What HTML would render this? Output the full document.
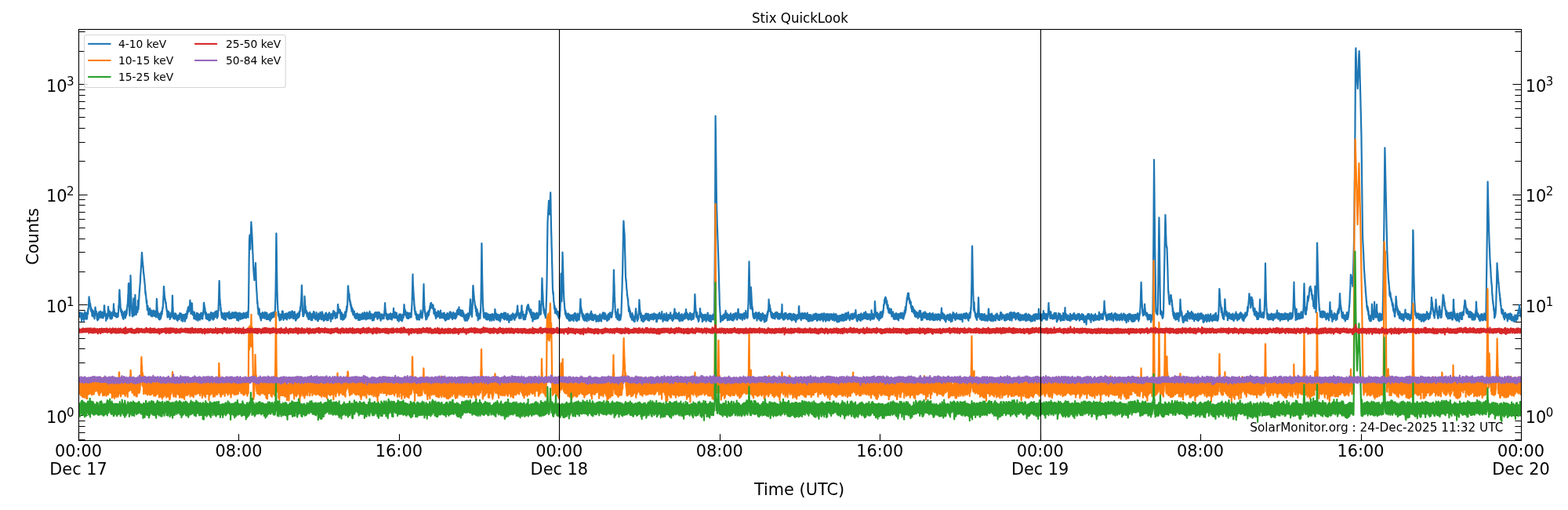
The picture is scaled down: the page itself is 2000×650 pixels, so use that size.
<!DOCTYPE html>
<html lang="en"><head><meta charset="utf-8"><title>Stix QuickLook</title>
<style>html,body{margin:0;padding:0;background:#fff;width:2000px;height:650px;overflow:hidden}svg{display:block}text{font-family:"DejaVu Sans","Liberation Sans",sans-serif;fill:#000}.t14{font-size:20.833px}.t15{font-size:20.833px}.t12{font-size:16.667px}.t10{font-size:13.889px}.t11{font-size:15.278px}.sup{font-size:15px}.ln{fill:none;stroke-width:22;stroke-linejoin:round;stroke-linecap:butt}.tk{stroke:#000;stroke-width:1.11;fill:none}</style></head><body>
<svg width="2000" height="650" viewBox="0 0 2000 650">
<rect x="0" y="0" width="2000" height="650" fill="#fff"/>
<defs><clipPath id="ax"><rect x="100.0" y="37.0" width="1841.0" height="525.0"/></clipPath></defs>
<path class="tk" stroke-width="1" d="M100.5 561.5V553.2M304.5 561.5V553.2M509.5 561.5V553.2M713.5 561.5V553.2M918.5 561.5V553.2M1122.5 561.5V553.2M1327.5 561.5V553.2M1531.5 561.5V553.2M1736.5 561.5V553.2M1940.5 561.5V553.2"/>
<path class="tk" d="M100.0 529.5h11.6M1941.0 529.5h-11.6M100.0 388.5h11.6M1941.0 388.5h-11.6M100.0 248.5h11.6M1941.0 248.5h-11.6M100.0 107.5h11.6M1941.0 107.5h-11.6"/>
<path class="tk" stroke-width="0.9" d="M100.0 560.5h8.6M1941.0 560.5h-8.6M100.0 551.5h8.6M1941.0 551.5h-8.6M100.0 543.5h8.6M1941.0 543.5h-8.6M100.0 536.5h8.6M1941.0 536.5h-8.6M100.0 487.5h8.6M1941.0 487.5h-8.6M100.0 462.5h8.6M1941.0 462.5h-8.6M100.0 444.5h8.6M1941.0 444.5h-8.6M100.0 431.5h8.6M1941.0 431.5h-8.6M100.0 420.5h8.6M1941.0 420.5h-8.6M100.0 410.5h8.6M1941.0 410.5h-8.6M100.0 402.5h8.6M1941.0 402.5h-8.6M100.0 395.5h8.6M1941.0 395.5h-8.6M100.0 346.5h8.6M1941.0 346.5h-8.6M100.0 321.5h8.6M1941.0 321.5h-8.6M100.0 304.5h8.6M1941.0 304.5h-8.6M100.0 290.5h8.6M1941.0 290.5h-8.6M100.0 279.5h8.6M1941.0 279.5h-8.6M100.0 270.5h8.6M1941.0 270.5h-8.6M100.0 261.5h8.6M1941.0 261.5h-8.6M100.0 254.5h8.6M1941.0 254.5h-8.6M100.0 205.5h8.6M1941.0 205.5h-8.6M100.0 181.5h8.6M1941.0 181.5h-8.6M100.0 163.5h8.6M1941.0 163.5h-8.6M100.0 149.5h8.6M1941.0 149.5h-8.6M100.0 138.5h8.6M1941.0 138.5h-8.6M100.0 129.5h8.6M1941.0 129.5h-8.6M100.0 121.5h8.6M1941.0 121.5h-8.6M100.0 114.5h8.6M1941.0 114.5h-8.6M100.0 65.5h8.6M1941.0 65.5h-8.6M100.0 40.5h8.6M1941.0 40.5h-8.6"/>
<g clip-path="url(#ax)"><g transform="scale(0.1)">
<path class="ln" stroke="#1f77b4" d="M1003 4042l0-50 3 5 2 44 2-5 5-52 1 3 2 38 2 11 3-48 3-5 2 62 5-50 1 43 1-45 2 57 4 40 1-72 4 31 3-58 2 11 1 36 5-26 3 44 0-34 2 45 6-67 2 86 2-71 1 56 3-7 4-84 2-7 1 49 6 20 0-36 5 54 1-57 0 63 3-77 3 12 1 65 4-66 2 53 2 11 5-71 0 5 4-34 3 38 2-70 1 18 4-35 1-1 5-127 1-3 2 58 4-22 1 45 3-14 3 54 3-33 3 54 0 21 3-38 2 17 2 44 4-37 4 49 1-37 2 52 2 29 4-74 3 70 0-46 3 48 1-66 5 13 2 57 2 14 2-48 4-13 4 76 0 7 4-67 2 22 3-96 2-8 4 50 0 2 4 36 5-34 1 50 2-23 2 33 3 38 0-47 3 13 3 50 2-26 3-52 2-8 2 58 4 16 1-71 3 32 2-56 3 25 2 46 5-63 1 37 4 23 1-48 4-30 3 66 0-22 3 40 2-22 5-41 0 34 4-40 1 0 2 56 4-58 2 73 2-15 2-43 3 61 1-71 4 55 5-59 0 26 4-112 3 0 2 73 3 34 1-41 2 64 2-34 6 8 1 43 2-17 1 64 3-19 3-43 4 23 2-35 1 43 2-55 3 60 3-63 2 26 4-95 2-22 2 70 3-32 3 67 4-38 1 48 2 15 2-42 3-28 3 67 1-38 1 65 5-66 4 60 3-70 1 59 2 20 3-75 2 10 0 45 5 10 4-58 1-21 2 42 4 6 3-63 1 23 4-111 0 14 3 60 3-7 4 61 0-28 2 37 3 19 2-43 4 5 4 31 0 9 1-39 5 27 2 25 3-27 4 28 0-4 3-35 3 36 2-50 4 47 3-50 2 42 2-47 1-5 4-89 1 38 5-114 0-13 4-107 1 7 4 94 2-3 4 90 0-3 4 79 2-23 1 39 5-32 3 55 4-33 0 55 1-11 4-43 1 19 3 46 3 27 2-70 3 22 3 40 1 20 4-59 2 14 3-31 3 29 2-53 2 61 1-54 6 12 1 66 2-11 1-69 5 6 0 46 5-27 0-49 4 51 4-58 0 7 4-62 2 17 4-63 0 4 4-94 1 20 4-149 2-13 4 193 0 0 4 145 1 9 4 57 1 11 4-111 1-34 5-341 0-29 5 158 0 10 5 176 0-25 5 110 1-19 3 80 3-28 0 57 4-54 3 60 1-47 4-61 1 7 4-131 1 29 4 133 4 1 1 52 1-16 4-97 1 3 4-149 1 24 3 143 2-3 3 80 3-59 1 68 3-33 2-41 3 28 3-56 3 21 3 48 1-8 4-142 1 10 5 73 0 33 5-78 0 12 5-116 0 24 4-86 1 12 5-82 0 8 5-63 0-20 5-87 0 11 5-87 1 5 4-96 0 11 4-83 1-12 5 69 0-1 4 68 2-10 3 70 2-18 4 80 1-12 3 43 1-17 4 63 1-11 4 59 1-1 5 57 0-2 4 86 2-31 3 60 2-16 3 54 1-6 4 60 3-34 3 81 0-25 3 66 5-37 1 41 2-56 3 68 3-24 2 70 1-60 2 47 6-8 0-49 5 45 0-47 4-11 2 74 1 4 3-52 4 69 2-45 2-25 2 54 4-39 2 47 3-37 3 55 1-14 1-56 3 2 2 60 4-1 3-51 1 28 3-46 3 2 3 61 4-51 2 47 3 14 2-51 2-13 3 48 0-38 4 53 4-41 1 56 1-21 4-56 1-13 4-144 2 10 3 86 1 10 5 80 4 55 1-70 4 60 1-43 0 12 4 48 2-37 2 49 4-10 1-50 2-6 3 71 2-25 4-54 2-2 3 68 2-49 1 34 5-16 1-51 5-13 0 43 3-2 3-50 2 13 2-48 3 9 4-50 0 4 5-114 1 12 3-133 3 7 2 60 1-7 4 75 1-18 3 52 3-11 4 43 0-9 5 34 2-20 3 64 0-23 5 54 0-18 4 40 3-18 2 72 3 18 1-55 3 48 1-72 3 9 3 52 5-54 2 49 1 16 4-47 0 8 3 44 3-38 1 64 6-23 1-35 1 44 3-46 2 36 4-58 2-3 3 51 2-11 3-77 1 2 4-178 1-4 4 152 1-13 5 150 2-20 2-44 4 7 2 43 0-26 4 50 2-3 4-67 1 7 2 59 3-5 1-53 3-9 4 61 2-50 3 44 4-16 1 43 4-14 1-30 4-10 2 65 2-17 2-45 1 44 5-43 1 43 3-52 5-6 0 49 2 8 2-43 2 27 4-63 2 48 4-38 1 3 2 41 6 0 0-49 2 12 3 79 1-80 2 71 5-6 2-55 4-3 2 53 2 30 3-56 0 28 4-51 1 49 2-55 5 43 2-43 3 13 1 30 4-23 1 66 4-15 1-65 4-16 1 50 4-27 0 39 5-5 1-50 4 40 3-75 0 56 3-71 5 41 1-45 4-34 2 51 2-56 3 53 1-58 0 63 4-6 3-60 2 25 3-42 3 7 2-65 2-5 5 96 0-9 5 85 3-1 1-60 1 23 4-97 1 10 3 55 2-64 4 114 3-16 1 52 4-3 2-34 2 0 4 41 1-23 3 65 3-23 2-61 4 87 0-58 2 3 2 42 6-33 0 44 3-41 2 40 3-38 2 53 2-20 3-67 4 1 1 41 4 23 1-62 5 14 1 59 1 23 1-52 6 30 2-63 2 55 3-49 3 61 2-59 2 52 2-41 2 55 4-64 1 45 3-58 3 33 3-47 1 8 5 66 2-37 1 37 5-70 2 56 1-44 2 65 3-39 2-35 4 21 2-60 1 38 4-129 3-5 3 49 1-23 2 61 4-28 3 58 0-43 4 75 3-25 2 36 3 40 2-77 1 61 2-45 3 3 4 61 3-42 2 46 1 4 2-43 5-21 3 49 2 3 2-54 3 18 1 51 4 16 1-61 3 46 0-66 4 71 2-61 5 63 2-65 4 40 1-66 1-8 2 58 5 7 2-45 1-2 2 52 4-62 1 76 5-64 2 51 4 25 2-75 0 34 3-45 3 11 2 64 2-55 1 33 4 4 4-60 1 49 1-61 6 2 0 55 3 7 4-59 4-18 2 51 3-5 1-32 3 59 1-50 2 71 4-70 1-20 2 72 3-30 3-57 2 10 5-132 0 3 5-210 2-45 3 90 0 15 4 142 3-4 2 60 2-8 4 87 2-34 1 41 3 10 2 40 5-13 1 47 1 0 2-66 5 59 2-52 3 4 2 35 1 23 1-51 5 29 0 36 5-13 0-40 4 37 3-60 2-4 5 85 0-60 2 49 3-49 0 51 6 14 3-61 1 25 1-48 8 1 0 41 1-3 3-45 3 10 1 36 3-39 3 43 2 5 2-38 3 52 3-72 5-12 0 58 2-39 4 69 3-3 2-49 2 51 2-62 4 58 3-47 1-8 4 54 2 4 2-47 4 26 2-50 2-6 2 56 1 8 4-60 1 0 3 65 6-56 0 52 2-7 2-50 4 5 1 29 4-43 1 68 3-44 2 33 2-2 1-49 5 39 4-44 1 17 4 58 3-1 2-48 0 8 3 66 3-10 3-66 1-15 3 68 4-53 2 72 1-61 2 71 3-34 3-37 2 13 2-44 4 73 4-58 0-2 1 61 6 10 3-66 1-10 3 54 4-46 1 53 3-9 2-42 3 57 2-51 1-6 3 38 4-24 3 40 2-30 1-32 3-9 2 63 5-60 1 45 1 0 4-42 5 7 0 49 3-3 1-40 2 8 1 37 7-64 2 67 1-3 1-59 5 37 1-38 2 6 3 40 4-58 0 57 4-64 4 64 0 10 5-149 0 16 5-410 0-60 5-373 0 4 4-63 1-16 4 100 1 1 3 80 2-63 5-147 0-7 4-130 1 12 4 71 1 0 4 78 1 10 5 117 0 7 4 108 1 0 4 121 1 6 4 85 1 2 5 83 1-20 3 63 2-7 4-72 0 8 5-73 0-1 5-60 0-15 5 149 0 6 4 125 1 16 5 85 1-5 4 98 0-23 3 69 2-26 4 92 1-30 4 66 2 33 1-70 6 57 2-60 3 11 1 62 2-22 3 49 4-31 2 50 1-38 3 53 4-34 2 50 0-30 4-60 1 13 1 51 5-1 4-33 4 26 0-42 2 41 0-67 5 56 3-37 1 7 1 35 5-50 2 55 5 10 1-57 1 32 5-54 0 4 2 45 6 5 1-50 2 6 1 42 6 39 2-47 0-9 3 48 3-73 0 64 4 16 1-51 4 2 4 38 2-28 0 41 6-58 2 49 2-44 2 37 3-51 2 69 4-53 2 65 2 4 4-60 0 48 2-70 3-16 2 66 5 4 2-49 1-18 4 51 2-51 1 55 5-19 1-45 3 40 3-43 3 2 3 54 0-50 3 54 3-9 3-41 1 22 3-40 3 38 4-78 0 9 4-158 1-26 5-371 0-40 4-372 1-1 5 389 0 28 5 292 0 4 4 160 1 2 5 117 1-9 4 66 2-52 1 51 2-31 3 51 2-43 5 77 1-64 1 72 3-26 2-42 5-10 2 55 2 8 0-47 5 52 2-63 6 38 1-49 1 20 3-54 4-2 1 53 4-49 2 65 0-37 4 62 2 19 3-54 1 23 2-41 5-2 2 41 2 14 1-54 6 45 2-49 1-1 3 59 2-1 3-51 2 22 2-35 2 12 5 68 2-19 3-43 2 43 2-56 3-5 2 39 5-9 0-29 3 41 3-51 1-6 3 50 1-23 2 55 4-16 4-70 2 15 0 63 5-4 2-50 1 50 2-41 6 15 0-47 5-7 1 40 2-44 2 47 2-46 4 90 4-53 0 44 2-48 2 41 5 22 2-59 1 31 1-56 4 61 3-66 2 74 4-46 2 2 3 58 2 25 3-67 4 59 0-62 2-7 1 36 6 16 2-48 1 41 3-50 3 42 2-52 3 9 1 48 5-54 1 42 3 3 4-66 0-2 2 58 4-19 4-58 2 18 2-58 3 50 2-60 2-4 4-61 1 12 4-98 0 14 4-132 1 15 5 165 0 14 5 137 0-21 4 86 1-36 4 35 4-7 2-31 1 23 4-40 1 6 4-155 0-52 5 71 0-7 3 87 3-24 4 77 0-33 2 44 3 2 3-26 3-5 1 54 3-37 2 58 3-53 3 53 3 9 3-45 3-9 2 79 4-10 1-39 2-2 1 49 3-52 2 35 3 13 3-86 3 34 2 44 4 11 3-68 1 4 3 78 1-6 1-66 4 22 4 41 3 10 2-65 3 25 1-47 5 7 2 51 0-51 1 50 5-81 3 61 2 6 2-61 2 14 4 45 2 22 3-37 5 11 0 43 3-47 0 39 5-21 3-41 1-23 4 57 1 5 4-34 1 4 3 64 3 13 2-51 3 51 3-59 0 7 2-42 3 5 3 46 4 20 0-57 3 53 3-63 2 54 4-74 3 23 0 28 4 14 2-45 5 6 1 66 1-7 4-73 2 24 2-43 4 18 1 43 4-39 2 77 3-12 2-35 1 6 3 57 3-6 3-61 2 49 2-38 3 47 2-45 3 27 2-62 3-7 2 77 2-17 3-48 2-20 4 76 1-35 5 54 0 5 2-63 5 44 3-46 2-14 1 76 4 0 2-60 2 24 3-53 4 54 1-63 4 7 0 41 2-18 4 44 5 5 0-59 2 5 3 88 2-89 2 65 5-54 1 44 2-7 3-59 3-1 0 59 3-59 2 67 4-11 3-71 3-19 1 42 5-33 2 50 2-13 2-34 1 48 2-48 4 17 3 49 2-34 1 53 5-12 3-46 1 39 2-50 4 1 1 43 3-26 2 42 4-19 3-64 0 42 4-125 2-5 3 57 1-28 3 67 2-39 1 50 4 0 5-39 3 0 1 40 4 10 2-47 0 22 4 48 4 49 1-63 3 61 2-72 3-13 2 64 2-48 1 39 5-25 1 49 3 16 1-70 5 59 0-56 5 62 1-53 5-2 0 46 3-36 1 37 4-16 3-52 1-20 2 54 6 13 1-42 3 20 2-56 2 21 1-45 4 35 1-70 3 45 4-64 1 33 5-132 0-8 4-136 2 2 4 69 1-12 2 62 4 16 3-38 1 23 3 67 2-20 1 34 4-13 3 50 3-29 1 41 2-12 2 40 4-32 2 53 3 23 2-50 2 14 2 42 3-43 3 63 4-46 2 67 2-9 4-42 1 46 1-32 6 31 1-40 2 22 3 55 1-32 2 34 5 6 1-51 4-1 3 60 4-50 0 45 2 1 2-58 5 45 0-41 2 45 1-56 4 3 2 45 4-35 3 68 3 6 3-63 3 8 1 45 3-39 1 49 2-74 2 62 5-1 2-40 2 50 2-71 5 20 1 38 1-39 5 35 1 2 1-43 5 49 3-55 2-21 1 66 2 9 3-47 4-15 0 38 3-43 0 47 8 19 2-51 2-35 2 59 4 12 1-57 2-6 1 59 4-45 2 51 4 21 1-62 5 28 1-37 5 32 0-41 1-13 3 80 2-43 5 46 2 0 0-42 6 14 2-28 2 50 1-66 4 55 3-46 2 27 3-60 0 2 4 67 2-28 2 56 5-15 1-46 1-8 5 41 1-37 3 47 3-38 2 49 3-40 1 67 4-58 3 57 0-10 4-67 2 41 1-35 3 26 3 43 2-25 3-52 2-6 3 50 2-17 1-43 7-7 0 56 2-56 3 49 4-48 2 49 3-48 1 44 2-42 4 66 3-72 2 88 2-49 0 45 6-6 0-57 4 34 1-30 6-27 1 66 1-50 1 45 5-1 0-49 6 71 1-53 3 11 2 60 3 10 3-80 4 49 1-44 1 37 3-47 2 63 1-55 7 34 2-33 2 1 3 39 2-39 2 48 2-2 3-47 2 49 3-63 1 27 5-74 0 21 5-110 1 1 4 86 2-9 2 58 2-24 3 58 2-32 3 58 4-59 0 60 5-32 1 42 2-43 2 49 4-57 1 54 3-2 1-58 4-6 3 57 4-6 2-54 1 9 3 51 1-46 5 38 1 10 1-44 4 12 1-39 4 18 1 41 5-43 1 61 4-56 1 61 2-25 2-48 6-3 0 51 2-56 2 53 4-14 3-85 1-21 4 63 1-16 5 70 1 7 4-73 0 3 5 64 2 6 2-33 1 30 1-66 4 3 1 28 6 18 2-44 2 24 1 49 5 0 1-33 3 57 3-57 1 56 4-56 2-4 4 49 2 23 2-78 3 51 2-65 3 55 1-39 4 55 1-59 4 62 1-73 4 60 0-59 3 17 5 58 3 2 1-42 1-26 2 80 4-78 1 67 6-33 1-31 2-15 3 40 3 1 3-72 0 7 4-80 1-20 5 65 0-9 4 50 2-38 3 64 2-54 1 44 4 17 0-45 5 14 3 53 1-40 3 49 4 5 3-37 1-36 2 50 2-34 3 60 3-9 0-54 6 28 0 36 3-69 4 59 2 0 2-41 3 37 3-40 1-16 3 49 4-36 1 41 3-56 4 49 1 4 4-103 0 14 5-80 0-10 5-169 0-2 5-194 0 21 4 122 1 3 5 101 0-13 4 90 1-25 5 108 1-16 2 75 3-42 4 75 2 12 1-38 4 44 1-44 2 13 4 44 3 32 3-57 2 14 1 57 2-16 2-49 4 3 2 53 3 8 3-57 2 49 1-47 7-3 1 52 3-52 1 62 4-61 2 41 4-29 1-32 1 46 4-69 1-15 3 61 3-38 0 43 5 2 2-32 4 63 2-60 2 48 2-59 1 20 4-51 1 5 5-164 0-7 5-166 0 10 4 142 1 21 4 131 1-26 4 90 3-24 3 59 0-30 3 44 2-23 3 58 5-65 0 61 5-73 1 67 2-9 4-67 3 46 1-52 2 7 0 46 6-10 2-58 2-5 4 53 1-12 1-38 5 12 3-47 0 30 4-59 4 33 1-39 1 41 1-68 8 29 1-38 1 8 2 52 3-41 0 29 5 15 2-37 2 7 4 39 3-2 0-46 4 12 2 52 3-15 3 68 1-43 3 35 4-51 1 55 4-57 3 78 2 10 0-30 5-12 2 69 2 6 1-56 5-23 1 50 4-46 3 39 3 16 1-47 3 40 1-52 5-19 1 51 2-47 2 58 3-41 3 48 1-5 4-49 1 17 3 59 4-12 2-42 2 29 4-73 0 6 4 91 1-3 3-61 4 10 0 49 3-51 2 46 4-30 3 39 2-53 4 51 2-56 2 53 1-49 3 56 2-64 0 62 7-64 2 69 1-53 1 68 6-62 1 62 3 15 4-61 3-10 2 29 1-22 2 55 6-6 0-47 2 19 0-37 4-15 2 69 3-42 2 44 3-9 3-49 4 4 0 61 5-51 1 28 3 13 4-73 1-11 4 44 1-36 2 58 3-16 2-50 3 6 2 67 2 0 3-31 3 37 2-44 4 39 3-53 1 75 3-72 1-9 2 46 4-55 2 47 2-24 4 49 3 2 2-59 1 60 4-45 1-15 3 61 4-62 2 68 1-17 4-50 3 3 3 47 1 0 3-59 1 46 3-73 4-4 1 54 5-10 1-56 1 14 2 52 4-16 4-52 4-10 1 44 0-62 4 83 1-38 2 52 5-10 2-44 2-6 4 45 1-25 1 50 5 5 1-38 3 19 1-50 3 39 4-40 1 20 4 54 3 4 2-71 2 72 1-52 4 6 1 44 4-37 2 57 2-36 4 43 1 16 3-39 5-14 1 66 2-19 2-47 4-11 1 48 5 25 1-54 2-25 1 51 5 7 0-52 3 75 1-74 7 39 1-58 1 13 2 60 3-8 2-57 5 43 1-41 5 19 1-47 1 27 3-92 2 8 4-99 1-6 5 68 0 2 4 93 1-10 3 48 4-29 2 51 1-1 5-110 0 12 5-131 0-23 3-142 2-2 5 87 1-8 4 70 1-20 3 69 3-6 3 34 0-11 4 44 1-12 5 50 4-31 1 66 0-32 5 38 1-19 2 64 4-29 2-47 1-9 5 65 2-30 2 69 2-40 0 81 5-76 2 50 3-60 2 56 5-43 2 50 0 5 1-57 6-5 1 57 2-9 4-97 1 37 5-162 0-9 5-330 0-20 4-368 1 20 5 338 0 22 5 226 0-3 4 173 1-3 4 97 1-36 4 98 1-49 4 67 3-2 1-43 4 15 2-24 4-9 1 45 4 15 1-59 2 12 4 67 2 1 2-54 3-25 2 67 2 5 2-47 2 17 0 41 5-1 4-55 2-14 2 64 3-36 2 29 3-45 1 49 5-5 1-48 3 34 2 42 3-46 1 29 3-16 4-47 1 11 4 28 2-29 4 50 4 19 1-67 2 22 1-41 4 7 3 57 2-8 1-50 2 20 5 42 2-5 2-50 2 69 4-61 1 34 3-55 2 14 2-74 3 10 2 64 4-31 3 65 0-56 5 80 3-16 0-56 5 51 1-42 3 51 1-52 3 62 1-56 4-7 1 69 7-63 0 61 1 6 2-43 5 35 1-47 3-7 2 45 4-51 2 85 3-53 2 39 1-16 3-57 4-16 2 57 2 1 1-52 6 33 1-31 2-2 1 45 4-4 2-42 5 56 1-30 2 26 2-41 3 40 2-56 3-10 1 88 3-31 3-47 2 5 3 66 3-19 1-53 4-7 3 58 2 9 4-40 2 9 1 43 3 13 2-48 5-10 2 43 3-66 0 73 3-45 3 32 2 14 3-49 1 10 2 77 3-10 3-75 2 8 2 48 4-8 3-42 3 47 2-63 3 40 2-23 3 46 0-58 6 57 0-58 3 37 2-48 4 44 1-55 3 47 1-47 3 0 3 36 3-24 3 58 4-41 1 39 2-30 0 35 4 9 3-60 5-13 1 33 1 12 2-51 3 46 4-44 2 39 1-56 5 32 2-60 1 23 4-70 2-14 4 79 1-30 2 71 2-33 2 37 3-26 3 50 2-49 2 64 4-61 1 47 6 9 1-37 2-28 3 67 4-49 2 49 2-25 2-73 3 5 1-69 2-1 3 90 4-15 2 37 2-36 3 56 1-28 4 66 2-16 3-31 1 59 3-62 4 11 1 44 4-6 1-51 3 47 3-23 1 37 3-55 5-19 1 38 1-15 4-66 3 43 2-71 1 71 3-90 3 38 3-54 4-2 1 30 3-39 1 49 2-40 2 43 3-27 1 48 5-22 2 39 2-37 4 46 3 9 2-32 4 54 1-55 3 37 1-47 4 36 2 64 3-8 0-41 3 54 2-69 4 34 3 80 3-23 3-58 1 9 1 53 6-44 1-46 2 18 3 64 2-9 0-62 6 57 1-47 2 49 3-47 3 1 2 56 3-71 3 50 2-53 2 45 3-53 3 73 3-56 0 29 5 28 0-36 4-17 1 46 4-59 2 52 4-17 2-43 2-5 4-145 1 0 3 100 1-10 4 65 2-26 3 48 2-49 2 38 2-23 5-100 2 13 3-150 0-48 4-148 1 1 5 179 0-27 5 90 0 0 3 82 2 16 5 78 0-43 4 63 3-40 0 53 4-37 4 54 2 10 2-51 2 13 3 65 2-14 4-93 0 4 5-156 0 6 5-185 0-6 5-400 0-39 5-328 0-8 5-95 0-6 5-79 0-3 5-90 0 6 4 78 1-4 5 83 0 11 5-112 0-3 5-115 2-49 3 152 0 18 5 270 0 5 5 173 0 29 5 167 0 26 5 181 0 11 4 177 1 18 4 66 2-28 3 55 1 6 3 73 3-2 3 42 2 43 1-42 3 5 4 73 2 19 3-60 2 52 3-53 5 10 0 35 4-22 1 47 4-35 2 29 2 20 0-35 6 37 1-44 1 5 5 52 1-27 2 45 3-2 2-53 2-16 2 87 3-10 4-54 1 33 4-76 1 7 5-153 0-2 5-279 1-44 4 215 0 14 4 128 1-22 5-184 0-26 5-337 0-56 5 144 0 9 5 186 0 15 5 173 0-16 5 112 0-20 5 72 0-4 4 65 2-12 3 58 2 8 2-48 3 16 3 35 3 25 2-45 2 9 3 54 3 2 1-47 4 45 1-47 5 4 0 30 5 29 2-73 1 6 3 60 3-54 2 81 1-24 1-52 5 58 2-60 4 9 2 68 2-69 2 53 5-28 2 35 4-48 1 40 1-48 2 44 2-52 2 59 3-58 5 61 2-50 1 38 3-24 4 51 3-35 1-52 3-1 3 53 0-44 4 39 1 3 4-67 2 24 3 32 2-45 0 62 4 24 3-67 3 53 2-51 2 16 4 55 1 2 2-64 4-32 1 48 3-8 3-32 2 8 4 63 1 1 2-58 5 58 2-70 2 41 3-62 1 18 5-109 0 15 4-100 1 6 4 125 1-33 3 46 3-20 3 61 3-37 3 48 2 27 0-45 6 10 2 54 0 5 3-41 4-9 2 71 3-62 1 57 3-45 2 54 4 4 1-49 2 30 4-32 2 48 2-52 3 43 3-70 3-2 2 51 3-16 2 56 3 1 1-70 3 40 4-67 3 2 1 58 1-39 3 39 2-44 5 42 1-17 1 47 3-69 1 51 4-52 1 44 4-20 5-49 0 12 1 46 5 23 3-96 3-8 2 53 1-25 3 46 4 39 2-76 2-3 2 64 4 7 2-49 2-6 1 45 3 21 4-60 2 49 1-51 6 32 1-41 3 39 0-33 5 39 2-47 1 0 5 65 1-30 3 55 5-74 0 44 3-31 2 50 3-1 3-55 2 2 2 43 4-44 1 42 2-53 2 73 3-4 3-50 2 53 3-55 3 47 2-55 4-29 2 62 1-42 1 61 5 2 2-51 4 7 2 36 0 18 4-65 2 23 2-46 2 9 4 40 2-18 2-52 4 6 1 51 6-60 1 50 2-38 2 72 4-8 0-58 2-12 2 74 3 1 4-48 3-20 2 62 2 1 2-33 2 3 3 41 5-5 1-37 3 61 2-63 3-1 2 44 3 15 1-71 3 30 3-40 3 7 2 52 2-51 3 59 3-7 1-71 4 43 3-52 3 55 1-43 1 0 1 42 4-45 5 51 3-41 1 44 2-7 3-62 1 58 3-52 3 14 4-59 2 4 2-99 1 6 5-148 0-32 4-223 1-7 4 177 1 2 4 160 1 9 5 129 0-29 3 92 2-18 4 51 1-27 3 60 2-2 3-59 4 47 2-39 3 5 3 71 0-55 4-67 2-7 2 89 4 31 2-58 4 19 2 63 1-59 3 53 3-15 3-47 0 8 3 49 4 4 1-52 3 41 2-58 4 27 3-49 0-15 5-144 0-9 5-143 0-2 4-151 1-20 5-242 0-9 5-269 0-14 4-151 2 20 3 62 1 9 5 71 1 1 4 161 0 9 5 169 0 18 5 184 0 4 4 57 1-25 5 72 0 15 5 58 2-3 2 68 1-24 5 58 2 0 3 41 1-30 3 83 2-3 2 50 2 28 2-64 4 24 1 27 3-20 4 65 2 12 1-54 3 10 1 67 4-34 2 45 5-36 3 45 1-18 3 37 2 1 3-87 1 24 3 51 3-53 3 40 2-27 3 52 4 15 1-51 2 1 3 56 3-12 1-38 4 52 3-68 0 28 5-62 0 13 5-78 1 0 3 77 1-41 4 68 2-16 3 50 1-43 4 63 2-14 2-44 3 40 1-52 4 42 2-57 2 9 5-63 0-5 4-126 2 33 4 65 0-14 4 75 1-27 3 64 2-12 1 44 7-56 0 63 2-32 2 62 3-4 0-51 6 41 1-52 5 4 3 64 2 12 0-65 5-10 1 69 4-64 1 66 3-14 3-58 2 49 2-52 3 41 4-31 3-29 2 72 1-72 3 46 1-51 3 40 4 13 2-51 3 40 1-37 2 13 2 55 5-34 2 45 2-30 2-53 4 20 3 49 1 18 2-58 4 61 0-62 5 46 2-41 1 18 3-37 6 39 1-34 4-4 0 50 2-55 3 61 2-11 1-48 7 22 0-29 3 12 3 44 2 9 1-57 5-2 0 42 3 24 1-58 5-23 1 55 2-19 3 33 2-55 1 53 4-2 2-37 4-18 3 39 2-36 1 58 4-23 1 60 4-55 2 53 3-16 2-62 5-12 1 50 3-7 1-44 5 14 0 39 5-3 1-56 1 36 5-51 2-4 2 42 1 4 4 28 2-38 1 43 4-44 1 42 3-51 1 53 7-66 0 38 3-4 1-59 3 39 2 48 3-16 5 55 0-11 3-56 3 50 3-59 4 22 2-43 0 62 4-64 5 24 1 55 3-61 2 54 0-34 2 48 5-64 3 46 1-42 2 57 3-91 1 55 4-27 3 70 2-54 2 43 2 11 3-59 4-15 1 48 3-52 1 61 6-10 2-47 4-2 1 34 3 9 1-49 3 0 2 40 3-63 3 53 1-33 2 55 3-44 3 30 1-12 4 41 3 8 2-57 2 8 3 56 2-1 3-62 4-17 2 53 1 9 3-73 1 52 4-66 2 13 3-62 2 10 3 55 1-22 3 49 3 35 3-67 4 50 2-58 2 64 1-56 3 26 3 38 2-3 1-48 5 4 2 51 4-3 1-59 2 9 2 48 4 13 2-45 2-42 2 104 3-50 2 55 3-11 4-69 3 12 1 49 4-50 1 63 1-8 3-54 3-17 1 63 5-69 2 61 2-23 4 49 2-38 1 33 4-14 2-42 4 1 1 40 2-59 2 59 3-17 3-42 4 12 1-28 1 2 3 54 3 9 2-74 3 52 3-86 2-9 3 70 3-30 2 53 2-46 3 51 2 19 4-61 1 5 3 43 4-24 0 54 2-65 3 58 3-21 3-40 3 60 0-44 4 34 4-57 0 36 1-52 5 18 0 58 8-64 1 60 0-44 2 67 6-34 1-38 2 6 2 56 5-9 1-55 3 45 3-43 0 41 2-52 5 70 3-70 1 49 4-68 1 14 4-127 0 32 3-145 2 15 5 128 1-5 3 68 1-15 5 56 0-26 2 63 6 6 2-60 1 14 4 56 2 5 0-39 3 9 3 49 3-33 3 57 2-18 2-47 3 52 1-50 3 12 5-40 0 22 4-100 2 6 3 69 1-11 2 42 6-48 2 44 0-32 5 55 0-28 4 35 3-15 1 54 2-31 4-62 3 11 1 55 4-37 3 45 0 1 2-48 3 31 2-52 4 59 3-56 1 53 3-63 3 53 0-50 5 2 4 77 2 6 3-66 2-7 2 43 1-42 3 45 3-10 4-70 2 55 1-55 3 17 3 77 4-8 2-50 0 0 4 49 2 18 3-52 2 35 4-54 1-5 3 63 2-57 1 78 4-6 1-45 4 51 2-57 3 29 3-48 3 45 1-48 4 9 1 24 2 8 4-50 3-6 3 68 1-57 1 55 6-5 1-48 2 31 4-373 0-67 5-571 0-31 5-1211 1-319 4 278 0 29 5 384 0 26 5 384 0 15 5 157 0 8 4 141 1 13 4 135 1 3 5 167 0-9 5 157 0 5 5 176 0 7 4 155 1 17 4 164 2 14 4 82 0-12 5 102 1 28 1-83 6 8 2 60 1-5 2-54 3 44 4-44 0 38 4-41 1 7 3 48 3-1 2-61 5-12 1 63 3-16 1-45 3 8 0 28 4-40 4 54 3-12 2-60 3 35 3-54 1-10 3 50 3 42 2-52 2-4 2 34 2 15 3-50 6 91 0-77 4 66 2-45 3 44 0-65 3 69 4-55 0-3 2 55 4-48 4 52 0-3 3-60 3 55 4-55 4-22 0 56 3-51 1 62 3 12 3-58 2 11 1 51 5 5 2-44 2 39 3-53 3 42 1-53 2 17 2 57 3-85 2 61 4-59 3 69 4-65 1 45 1 5 4-62 3 1 1 49 3-7 3-48 2-3 3 57 2-9 1-37 4 75 4-62 2 10 3 54 0-5 5-90 0 23 4-62 3-2 2 61 2-12 3 58 1-43 3 35 4-35 2 51 2 5 2-52 6 57 1-59 1 1 3 53 1-52 2 53 4-42 1 34 3-49 3 46 2-31 4 61 4-66 0 50 4-59 2 46 3-10 1-40 3 0 3 42 2-53 3 66 3 11 2-46 3 40 2-36 3 17 2-40 4-42 2 71 1-44 2 46 6 12 0-46 3-1 3 56 2 3 2-53 3 42 2-76 1-6 5-97 0 19 5-267 0-23 5-249 0-12 5 239 0 7 5 157 0 13 5 129 0-23 4 79 1-13 4-260 1 19 5 102 0-11 4 88 1-4 5 93 1-37 4 55 0-31 3 79 2-30 2 53 6 11 1-54 1 4 2 61 3-53 5 52 4-7 0-52 1 9 2 41 6-66 1 33 2-36 1 40 4-21 3 38 3-20 2 54 1 15 3-66 4-31 2 59 3-39 1 34 3 3 3-46 2 7 1 55 4-17 1-65 4 20 3 45 1-30 3 52 3 17 3-68 1 32 2-47 3 14 4 76 3-78 3 68 2-8 1-49 5-22 1 51 2-62 4 56 0-3 2-48 3 21 3 51 4-58 3 72 2-42 2 64 3-15 1-55 3 64 2-78 2-4 3 45 5-23 2 54 2-13 2-48 1 3 1 54 4-16 4-79 2 54 1-43 3 21 1-54 4 30 4-50 1 22 5-117 1-42 3 55 1-15 4 64 1 6 3-38 2 19 2 64 5-38 2 33 1-4 5 61 0-49 4 61 3 12 2-55 4-6 2 43 1-31 2 46 4 13 1-49 3-6 3 52 1-6 2-42 5 52 2-58 3 18 0 22 5-35 3 60 0-21 5-60 1 61 3-43 2 41 3-56 3 53 1-37 5 33 2-48 0-8 4 60 4-50 1 73 5-54 0 38 4-46 2 65 0-63 3 64 2 0 4-59 1-9 3 66 4-7 1-32 4 34 1-50 4-4 2 38 2-47 4 50 0-22 4-53 1 29 5-109 0-12 4 147 1-23 3 60 6-45 1 47 2 9 2-70 4 14 0 58 2-14 3-46 2 23 1-37 6-12 2 75 2-12 3-54 3 49 1-52 3-6 1 62 4-3 2-33 5-2 1 27 3-31 1 44 6 18 0-45 2 32 4-53 2 44 2-49 2 53 1-30 3-9 1 45 4-64 3 61 3-49 2 44 2 18 1-51 4 23 3-44 5 62 1-60 1 19 3 67 4-13 3-53 3 21 1 27 1 8 4-49 3-18 0 45 4-56 3 72 4-51 1 51 2 4 2-55 3 38 2-45 2-5 1 77 4-52 4 62 2 10 2-83 4 43 1-46 2 5 2 43 3 9 3-46 3 27 0-45 5 4 4 47 2-2 2-55 2 13 3-111 3-5 3 100 0-31 4 57 1-28 5 56 1 6 2-48 4 39 0-56 3 3 4 82 3-21 2-54 3-1 1 56 3-71 1 30 4 18 0-43 8 8 1 41 1-46 3 63 3-13 1-56 3 63 1-34 3 32 2-52 4 42 2-52 5 7 1 59 5-44 1 34 1-44 2 57 4 9 1-43 5 46 1-73 4-13 0 47 4-26 1 65 3-56 1 70 3 8 4-66 4-4 0 53 3-67 2 51 3 32 4-56 0-24 2 73 6-46 1 44 4-49 0 39 3-61 2 45 4 16 0-44 4 59 2-57 2 50 4-41 3 33 2-32 1 41 4-79 1 14 4 42 1 11 3-50 2 42 1-57 6-2 0 48 5-34 2 50 2-3 3-70 3 14 2 58 3-69 1 45 4-9 2 44 2 10 3-70 3-12 1 63 3 12 1-48 6 27 1-51 2 59 1-62 4 60 3-58 3 5 2 59 5-46 1 56 2-4 2-53 3 15 1-37 2 16 2 49 4 2 1-43 5 1 1 40 4-73 2 63 3-40 3 51 2-33 1 58 3-13 1-63 5 52 2-59 2-18 3 47 2-45 3 71 3 7 0-49 3-8 5 63 2 17 1-52 4-2 2-35 3-7 3 49 1-24 4 54 1-76 3 51 4-13 1-42 5 19 1 46 3 19 1-53 3 56 1-49 5-32 0 57 3 19 3-79 3 57 2-51 2 57 2-61 5 46 0-43 4 48 2-52 2-2 3 55 1-26 3 41 2-60 4 68 1-11 2-47 3 37 3-54 5 69 2-65 1-13 3 77 2-46 2 62 5-24 0-45 2-9 0 38 6-35 0 66 4-21 4-57 2 9 3 50 2 27 1-62 4 9 1 70 4-23 1-54 5-4 1 44 3-14 2 47 5-65 1 59 3 6 2-74 2 70 4-59 1 35 1-50 5-2 1 65 4-8 1-46 2 6 2 43 5-63 2 69 1-26 2-49 5 67 2-41 2 38 2-71 3 29 4 56 2-10 2-57 1 57 4-45 3 28 1-53 2 10 2 64 4-11 2-65 4-15 2 60 4-54 0 49 3-40 3 72 2-37 4-49 0-4 3 77 2-55 1 33 5-41 3 48 3-3 3-70 1 74 2-60 3 26 2 42 4-32 2 40 3-35 1 49 3-55 2 26 2 12 4-48 1 17 4-32 1-1 3 55 4-1 2-32 1-16 3 60 2-12 4-42 1-17 4 70 2-64 2 57 3-9 2-41 3 34 3-41 1 11 2 38 3-3 1-58 4 49 2-54 5 37 2-72 3 31 2 46 3-13 3 50 3 20 1-58 4-1 1 69 1-66 1 67 4-25 2-49 5 42 1-41 2-14 3 62 5-11 1-48 2 5 2 30 3-24 3 37 1 25 4-79 4 84 1-81 2 65 4-63 0-17 5 67 1-43 3 40 4 17 1-48 1 27 2-43 3 58 4-64 2 0 1 50 4 4 3-73 1 72 4-41 2 15 1-42 4 20 2 48 5-49 0 50 3-86 2 65 4-44 1 47 4-3 3-43 1 15 2 59 4-13 3-46 1-5 2 39 2 25 3-56 5 2 2 41 2 2 0-44 4-13 3 57 2-43 1 51 3-49 3 58 4-59 0 66 3-68 1 54 5-22 4-67 1-26 4 112 3-73 1 62 3-43 3 56 2-67 2 55 2-6 1-42 5 9 0 29 4-38 2 58 3-10 1-41 3 3 4-177 1 1 5 94 0-11 4 86 3-29 3 56 3-49 2 48 3 9 1-55 3 47 2-47 1-6 5 81 2-45 1 36 2-5 2-48 7 50 0-36 2-5 2 72 3-65 1 51 5-74 1 54 2 2 3-75 2 12 5 68 1-4 2-54 4 26 3-29 0-23 1 65 8 3 1-48 1-14 1 43 4-36 1-29 3 32 5-70 0 10 1-43 4 11 5-51 0 25 2-56 6 28 0-44 2 46 4-59 1 31 2-24 4 9 3 59 1-42 3 59 6 9 0-50 1 35 2 32 4 29 3-50 3 12 2 59 1-30 4 56 2 3 1-55 3 59 4-45 4-7 1 55 4 5 0-47 4 42 2-42 4 46 0-37 5-17 1 51 2-16 3 60 4-17 1-41 3 54 1-45 3-11 3 48 2-47 3 66 2-29 2 51 3 3 2-58 2 29 5-29 2 0 1 41 4-52 1 71 5-22 1-46 2 3 2 50 4-62 3 49 1-34 3 55 2-41 3 50 1 0 3-46 2 32 4-55 1 53 3-48 4 77 2-66 2-6 2 38 2-49 4 42 2 2 2-50 5 1 2 47 2 11 1-63 4 10 2 49 3-31 1 31 4-6 3-59 2 58 3-42 1 5 1 53 5-52 1 41 4-27 1 46 5-76 2 46 2-10 0-42 4 35 1-64 4-3 2 45 3-33 2-55 2 69 4-72 1 46 4-71 1 4 5-53 0 20 3-58 2 35 5-61 1 9 3-40 2 21 4 49 0-9 4-64 2 12 3 67 3-16 2 39 2-31 2 56 3-34 0 39 5-34 4 44 2 16 1-45 2 45 2 35 4-35 4 56 2 23 0-58 6 56 2-65 3 63 0-41 3-8 1 49 7 18 0-48 2 16 1 41 5-43 1 53 3-49 2 49 2 26 3-70 5 8 1 51 3-45 2 67 1-7 4-48 1 38 4-29 1 24 2-39 5 15 2 29 1-36 3 69 2-9 4-59 3 2 1 44 4-9 1-40 3-25 4 73 0 5 4-44 2 41 2-79 4 9 3 52 0-33 5 83 2 12 3-55 0 22 5-45 0 10 1 57 6 7 1-80 4 33 2-35 4-10 1 54 3 0 1-45 3 54 3-50 2 7 3 34 1 10 3-75 2 5 1 55 4-43 4 50 2-40 3 58 2-8 0-58 5 78 1-67 3 2 3 66 5-57 0 47 2-60 3 57 2 11 4-69 3 63 2-58 4-5 1 66 5-78 0 71 1-42 2 62 5-25 2-39 3 32 2-34 1-8 3 61 5-62 0 56 5-64 2 46 2 34 3-60 2-22 0 41 4-42 3 55 2 7 3-38 1 2 2 63 4-21 2-36 2 50 0-63 5 13 3 45 3 6 3-57 1-16 4 41 2-23 4 42 1 1 1-54 6-4 1 53 1-40 1 59 5-6 3-67 3 51 3-48 2-6 2 67 3-11 2-41 3-7 2 57 4-47 2 49 0 14 3-60 4 9 0 33 3-4 4-73 1 20 4-73 1-10 4 102 2 29 3-61 3 61 3-52 1-13 2 62 3 0 2-46 5 1 2 58 3-60 1 62 2-54 1 50 4-43 1 64 4 2 3-39 5-12 0 67 1-72 4 47 2-1 3-44 1 36 4-55 2-2 1 42 4 9 3-52 3 53 3-47 3 40 1-39 2-2 2 64 3 0 3-59 3 49 1-62 4 55 1-62 3 11 4 62 3 27 1-69 2 67 4-59 0 35 3-57 3-4 1 56 4 24 3-79 4 25 1-45 3-15 3 56 0 15 1-57 8 41 1-41 1 8 1 52 6-48 1 58 1-41 3 56 2-66 3 63 5-70 1 55 2-11 1-44 3 30 1-45 7 60 1-41 5 53 1-42 2 30 1-31 4-8 2 46 3-9 1-26 2 39 5-47 1 50 3-60 1 10 3 56 2-13 3-45 3 59 2-53 2 6 2 44 5-67 0 46 4 10 2-41 2 2 3 38 4 44 1-87 3 38 4-37 2-12 2 38 2-44 1 57 4-52 3 49 3-2 1-51 2 8 2 49 5-60 2 66 1-60 4 56 1-23 0-43 8-2 1 57 3-45 3 45 1-48 1 51 5-39 3 60 0 1 2-41 4-5 3 62 3-74 3 44 0 2 4-48 3-26 3 38 4-16 0 44 1-20 3-46 2 15 4-89 2 28 4-169 0 10 5-249 0-40 4-336 2-21 4 235 0 8 5 253 0 0 5 162 0-13 5 151 0 26 5-103 1-2 2 71 2 11 2 48 6-5 1 47 1-15 4 33 2-27 2 37 3-50 3 58 4 14 1-51 2 56 4-68 1 29 3-50 1 55 4-103 2-4 4-148 1 4 4 128 0 14 4 84 2-27 1 46 4-35 2 61 4-1 1-48 3-8 1 36 4-43 2 53 4-19 0 44 5-43 2 43 1-7 5-72 2 12 2 39 1-31 2 57 5-1 2-53 3 38 2-45 1-7 2 72 4-77 3 51 1-51 2 51 3-38 4 69 1-55 2 54 5-46 0 39 5-10 3-45 3 61 1-57 5 8 1 56 2-64 2 50 1 2 5-80 0 10 4-73 2 1 4 102 2-31 3 58 2 13 3-55 3 34 1-50 1-4 5 50 0-23 5 61 0-22 2-45 4-12 0 65 5-81 1 48 5-30 2 32 3-11 3 59 2-50 1 41 4 0 2-62 3 8 0 50 4-55 3 44 1 3 2-46 5 0 3 56 4-72 0 74 1-20 1-54 5 42 2-50 4 46 1-24 2 30 1-61 5 8 3 37 2-22 3 51 4 8 0-35 4 34 1-48 4 8 2 30 4-25 2 41 2-14 2-55 2 28 2-35 3 24 1-49 4 66 1-41 4 34 1-57 5 88 2-65 2-3 1 37 3-31 1 43 4-18 2-24 5 45 1-42 3 0 4 46 1-35 4 59 3-4 0-53 6 0 1 34 2 27 3-46 3-32 2 66 2-65 2 55 4 15 2-53 0 34 4-51 4-10 0 48 3 21 2-62 3 2 1 57 5-51 0 43 5-9 2-27 1-6 2 55 4-79 4 61 1 29 3-61 1 28 2-66 3 58 3-57 3-4 2 63 2-28 4 60 1 12 3-54 4 24 2-65 1 44 3-45 5-3 2 52 1 9 1-42 3 33 1-41 4-18 2 65 3-13 1-46 5 4 3 63 1-25 4 42 2 3 4-64 0 38 4-33 3-17 1 45 4 11 0-56 3 43 2-42 4-11 1 53 3-36 3 68 3-85 2 68 3-34 1 54 3-18 1-46 4 17 3 57 2-15 2-46 4-20 3 47 1-8 4 35 3 3 1-51 3 46 1-54 4 34 2-40 2 2 4 44 2-49 2 48 2-30 4 48 2 0 4-36 2 25 2-51 2 36 4-37 1-12 2 51 2-52 5 74 3 12 2-59 0 50 4-85 3 22 1 48 4-52 1 51 3 20 2-50 4-10 2 36 2-44 1 57 3-12 4-59 2 14 2 53 4-34 1 46 3-18 1-50 3 5 2 26 5-21 2 44 3-25 2 53 5-64 1 59 1-8 1-49 4 6 3 53 3-13 1-41 3-14 2 65 5-26 1-43 2-8 2 55 4 6 0-42 6-25 1 62 2-35 0 41 4 14 4-73 2 30 4-46 1 1 4 58 0 1 3-44 2 49 2-43 5 44 1-42 3 26 1-46 4 14 0 51 4-10 3-51 2 33 4-102 2-3 3 80 2-15 2 62 3-49 2 35 4-51 2 69 1-35 3 40 3 16 1-80 4 9 3 61 3-56 2 65 2-7 3-77 2 28 2 37 2-20 1-49 5 42 3-81 2 63 2-45 2 81 4-68 3 48 1-41 4 0 3 56 2 10 3-54 4 41 0-48 2 13 2 60 3-7 2-44 3-23 4 54 1 21 2-51 2 32 1-48 5 32 4-61 0 4 5-125 0 9 5 93 1-25 1 66 4-37 3 47 2-17 3 62 2-17 1-54 5-13 0 52 3-48 2 72 6-38 1 35 3 13 3-36 2-1 3 42 3-5 0-41 2 48 1-49 5 38 2-47 2 49 5-59 3-11 1 52 3-36 2 55 1-56 1 43 6 7 2-45 2 44 3-63 2 53 2-45 2 19 3 80 3 7 2-62 2 52 3-49 3 38 1-55 3 2 0 34 5-3 3-69 3 74 1-60 3 42 2-49 7 8 1 28 1-32 3 71 4 17 2-57 2-8 1 55 2-62 5 39 1-26 2 41 2-40 5 50 3-15 2-39 3 32 2-70 1 5 2 67 2-42 4 61 2-25 1-40 3 65 4-94 1 20 4-75 1-11 4 106 3 28 2-44 4 46 1-56 3 10 1 62 5-5 2-47 0 4 4 53 2 2 3-48 1 36 3-42 2-9 3 52 3-33 3 41 1 4 4-50 3 56 2-52 3 37 3-38 1-35 4 70 2 18 1-53 2 45 3-64 5 53 2-40 2 44 2-47 4-3 0 29 3 7 2-45 3-5 3 59 1-7 3-65 2 49 4-44 3-9 0 69 4-41 4 49 3-46 2 49 1-10 1-39 3-6 2 55 6 10 2-64 1 58 1-52 7 47 1-53 3 41 2-40 2-18 2 50 1 8 2-46 3 50 3-55 3 48 3-53 2-3 3 87 1-27 1-43 6 1 1 55 4-50 1 50 2-16 3-36 4-1 2 49 2-2 3-61 2 46 1-51 6 75 0-50 4 38 2-46 4 43 1-49 1 27 2 36 3-32 2 66 5-62 3 44 1 15 4-34 2 27 1-70 4 64 2-62 3 66 1-55 2 27 1 69 5-74 4-40 1 31 3-40 2 50 3-61 2 27 4 33 0 0 3-40 3-21 0 36 4-37 5 55 1 7 3-45 4 59 1-42 3-3 2 51 3-41 3 68 1-25 3-83 3 15 0 48 4 5 3-56 3 11 0 50 4 0 3-53 2 47 1-51 4 16 2 47 2 9 2-60 4 55 2-56 4 42 2-61 2 57 3-58 2-8 4 70 2-49 1 57 2-1 4-50 2-1 4 36 1 7 2-33 3 30 2-40 4-3 3 40 1-27 2 40 4-4 3-61 1 35 3-68 1 40 4 49 1 10 2-63 4 49 1-60 6 57 1-57 3 57 2-41 2 30 4-36 0 40 2-40 6 55 2-64 1 38 2-44 4 8 2 59 1-26 2-50 3 35 2-58 3 16 5-134 1-12 3 89 1-17 5 67 0-20 2 49 5-19 2 51 1-25 3 39 4-38 1 54 2 17 3-66 3 64 3-63 4 40 0-47 2 54 3-60 5 9 1 42 3-37 1 34 4 18 2-72 2 58 4-55 0 8 2 36 3-41 4 53 2-59 3 65 3 12 2-61 1 44 5-68 1 56 1-45 4 58 4-44 1 11 2 40 3-43 2 61 3 5 0-67 7 29 1-50 2 13 2 29 2-32 4 39 4-9 1-51 1 23 3 57 5-5 2-60 3 34 0-39 2 8 4 64 3 10 0-57 4 32 3-50 5 54 0-45 5 3 0 44 1-36 2 46 4-43 3 33 3-2 1-52 4 72 3-63 2 37 2-42 4 54 1-56 2 39 2-36 4 31 0-50 3 13 5 64 2-39 1 49 2-10 4-41 1 36 2-41 4-14 2 44 3-60 1 34 3-37 4 56 1-28 5 59 2-69 1 58 2-61 2 48 3-46 2 41 3-17 2 42 5 33 2-57 2-31 4 45 2-29 0 38 5-10 0-55 6 5 1 41 1-36 3 75 2-92 4 61 4-66 1 60 1 6 4-66 1-2 2 58 6-36 2 53 1-10 4-48 3-4 0 57 3-35 2 62 4 1 2-54 4-4 1 38 5-62 1 78 2 7 0-72 3 6 3 58 5-78 2 51 1-6 1-30 5 66 2-69 2 60 2-73 2 40 1-43 6 14 2 42 2-48 3 43 4 6 0-56 4 46 1-48 2 43 0-44 5-15 2 67 5 10 3-32 3 56 2-73 0-18 3 70 2-1 5-77 3 16 1-46 1 37 5-96 0 15 5-122 0-9 5-175 1-15 3 122 1-29 4 156 1-15 5 99 0-6 4 71 2-31 3 57 1-46 2 38 4-4 2-36 3 40 3-67 2 22 4-80 1-13 4 81 1-28 2 73 2-35 3 35 3-17 2 38 2 2 2-38 5-2 2 44 3-40 2 68 2-52 1 64 5 7 2-53 3-14 0 46 3 14 3-53 3 10 1 35 3 1 4-50 2-2 1 57 3-58 2 65 4-40 1 41 5 30 1-71 3 49 4-46 1-20 1 52 4-56 4 45 0-1 5-89 0-44 5-490 0-31 5-607 0-39 5-683 0-39 5 453 0 33 5 467 0 33 5 359 0 7 5 289 0 18 4 280 1-39 3 55 2-31 3 40 4-40 2 41 3-35 1 46 3-12 4-133 0-34 5-357 0-22 5-362 0-29 4-290 1 62 5 379 0 18 5 338 0 50 5 304 1 79 1-56 7 53 1-30 0-8 1 45 4 11 1-40 5-1 3 70 3-38 3 49 0-19 5-43 1 44 1-59 3 22 5-261 0 2 5-280 0 11 5-241 0-41 5-240 0-3 4-212 1 25 5 153 0 21 5 149 1 18 3 36 1-7 1 24 4-6 5 164 0 4 5 148 0 25 5 174 0 11 4 67 1-28 4 98 1-21 5 78 3 8 2-40 0 12 4-56 4 19 2-33 1-19 2 44 4-46 3 38 1 0 3 54 4-27 0 71 3-30 4 60 1-13 2 63 3-46 2 83 2-49 4 71 1 0 3-42 2 63 3-71 4 8 1 41 3 10 1-42 4 1 3 74 5-50 1 48 0-8 2-37 4 42 3-81 1 19 4 42 2 14 2-59 2 29 2-43 7-2 1 40 3-25 2 89 0-22 3-52 2 28 5-54 1 43 3-85 1 20 4-151 1-6 5 116 1-17 2 87 4-42 2 54 1 8 3-44 3 22 3 53 3-28 2 62 2-52 3 73 2-14 4-52 0 0 1 69 6-67 2 44 4-10 1-52 1 46 2-50 4-2 3 66 1-2 3-40 4 31 2-74 1 42 2-38 4-5 4 48 1-32 2 76 2-38 5-89 0-2 5 51 1-35 2 57 4-12 2-41 3 10 1 64 2-4 3-58 3 71 3-59 2 40 3-59 2 0 2 36 5-21 1 49 2-17 2-65 3 16 0 46 5 35 2-81 3 69 3-57 4 44 2-45 1 6 3 54 4 17 2-53 1-2 1 74 5-64 2 38 3 2 1-61 2-3 2 53 3-10 4-38 1 1 1 59 5-16 3-49 3 69 0-51 3 62 3-55 2 44 1-63 7-16 1 47 2-32 0 79 4-67 2 58 5-56 1 43 2-64 1 52 7 10 1-68 1-2 2 60 6-41 1 34 3-44 1 55 3-66 3 55 1-35 3 52 2-60 3 34 4-15 3 56 3 30 1-84 2-8 4 58 2-38 2 45 3 15 2-50 2 36 1-54 3 38 1-42 5 1 1 38 3-53 1 68 6-16 1-43 4 80 2-75 2 0 3 64 2-16 3-57 3 45 1-55 4 58 2-45 2 59 2-48 3 4 3 62 1-5 3-57 3 53 4-57 0-17 2 36 5-50 3 65 4 6 0-42 4 0 0 53 2-7 2-34 4 50 3-52 1 55 3-60 4 40 1-54 3-7 2 59 2 8 3-47 5 47 1-51 2 42 3-50 3 9 2-28 3 24 3 56 0-9 2-82 3-3 4 78 2 7 2-49 4 2 1 60 3-12 3-36 2 51 3-61 1-8 1 56 5-33 4-101 0 31 4-146 1-9 3-137 2 11 4 79 1-3 5 94 0-22 4 64 2-17 3 60 1-42 3 76 6-2 1-55 2 46 1 43 3-42 2 61 3-33 2 58 4-57 3 49 0-12 5-36 1 71 3-82 1 48 4-91 1 35 3-169 2 5 4 84 1 13 5 61 3-8 2 49 2 1 1-49 4 60 2-55 2 27 1 34 4-31 3 79 3-14 1-35 2-37 5 56 0-6 4-55 4-6 1 46 4-22 2 46 4-39 0 44 1-3 4-50 4 56 2-49 1-10 2 50 3 13 3-45 5 0 1 39 3-55 1 59 3 6 2-45 2-31 3 60 1-31 5 51 0 15 4-59 1-14 3 57 5-13 1-52 4 35 0-37 4-10 1 44 4-8 1-35 2-24 4 83 1 3 4-49 1 37 1-33 5-13 2 81 2-62 5 52 3-62 0 38 2-29 4 38 4 2 1-48 4 54 2-57 2-15 2 44 2-4 4-45 2 56 0-55 3-9 4 65 3-49 0 48 3 1 4-52 2 8 4 69 4-50 0 56 4-8 1-53 3 49 2-48 2 17 2 58 2-76 3 54 3-60 2 50 5-11 1-50 3 45 2-60 1 10 3 46 2-9 2-49 4 36 2-34 4 2 1 37 5-12 1-65 2 34 1-70 3 61 4-67 2 28 3-67 1 6 4-59 1 10 3-74 2-7 4 60 1-21 5 70 1-16 4 51 0-25 3 64 4-35 2-74 1 19 3-50 3 4 3 52 5-13 0 47 2-59 4 87 1-38 3 86 1-46 4 67 2-36 1 35 3-29 4 70 2-12 3-48 2-21 4 65 1-30 3 61 1-7 3-37 3 46 2-59 5 3 1 71 4-26 1 51 4-13 2-35 1 37 1-69 6 33 0 48 4-65 2 44 1 3 5-58 2 40 3-75 0 11 5-142 1-11 4 151 1-20 4 69 1-45 1 70 4-40 0 39 5-33 2 37 5-4 1-46 4 45 1-50 4 43 0-37 2-14 2 40 4 30 3-38 3 24 2-51 1 15 4-96 1-26 5-164 0-35 5-325 0 11 5 237 0 25 5 208 0-12 5 131 1-24 4 81 1-22 4 71 1-18 2-35 2-13 2 51 3-29 4 53 2 4 3-58 3 47 1-48 5 41 1-49 2 2 3 62 3 0 1-57 3 57 4-68 1 8 3 49 3-7 2-58 3 62 2-47 2-11 2 75 4-55 2 52 3-60 2 71 2-4 1-55 6 36 1-31 1 36 1-65 8 52 1-30 1 35 1-42 3 41 1-41 7-7 1 42 1-9 3-49 4 55 0-36 4 13 4-61 0-6 3 61 2-30 5 62 1 13 1-72 4 76 4-58 1 51 4-70 1 66 2-48 5 62 1-50 1-3 3 72 3-75 1 50 4-63 3 71 1-63 2 51 7-60 0 44 2 13 2-45 4 62 1-71 3 64 3-62 3 47 2-43 3 4 0 55 3-18 4-41 2 48 3-61 1 4 2 70 5-80 3 60 1-37 2 53 3-62 1 41 3 3 4-42 4-7 2 65 1 0 4-57 2-5 2 60 1 8 4-41 1 8 0 52 5-32 3-54 2 46 1-40 7 60 0-74 4 40 1-33 2-17 4 61 1-54 4 55 3-45 1 64 2-26 4-47 2 69 3-56 3 45 2-53 3-7 1 47 3-38 4-69 0 4 5-145 0-11 5-182 0 18 5 194 0-1 4 111 2-13 4 57 0-9 3 67 2-4 1 64 5-18 4-102 2-22 2 77 3-20 2 59 2-30 2 46 5-48 0 31 6 6 0-50 4-14 1 48 3-47 2 43 5-39 0 60 1 3 3-52 4 40 2-54 1 62 3-60 5 53 1-72 1 31 3-38 4 3 1 51 2-35 3 62 4-7 0-48 4-6 2 54 3-38 3-69 2 18 4-173 0-15 5-157 1 27 4 194 1 3 3 98 1-8 4 69 2 9 2-41 3-9 3 51 1-31 4-61 3 39 2-42 1 11 4-71 1 24 4-98 2-3 4 48 0 17 5-47 1 15 2-38 2 20 3-60 2-5 3-46 4-19 2 38 2 2 3-32 1-19 4 52 2-20 4 35 1-29 4 71 1-35 2 46 2-12 3 50 2 6 4-52 1 24 4 65 2-11 1 67 4-38 2 41 4-29 1 52 3-4 4-79 0-4 4-197 1 12 5 164 0 16 5 116 1 25 3-72 1-6 5-311 0-20 5-477 1 13 4 157 0 3 5 217 1 13 4 171 0 6 5 127 0-12 4 78 1 9 3 77 2-31 5 52 2-8 3 69 1-22 1-31 6 58 1-62 2-6 1 55 4 4 1-62 3 3 5 54 0 23 5-73 0-10 5 47 3-4 1-45 2 3 2 68 2-36 3 36 4 5 2-47 4-19 0 50 3 20 1-55 3 49 3-36 4 1 2 71 1-13 2-37 5 18 3-41 1 62 2-59 3-11 3 46 2-41 3 54 3-45 1 47 6-29 1 59 0-15 1-63 5 18 3-51 1-5 4-119 1 22 4 94 3-9 3 76 1 13 3-63 2 53 2-75 3 21 4 68 2-28 1 77 4-28 2-60 2 17 1 37 4-48 3 54 2-3 1-60 3 39 3-56 2 10 2 40 6 14 1-53 4 46 1-44 2 8 3 70 1-12 1-61 4 45 4-47 1-3 4 51 2 12 2-78 2 26 2-50 4 22 3-36 2 21 2-38 4 59 2-47 1 20 4-85 1 8 4-139 1-9 5 102 1-4 3 77 3-25 1 53 3-26 3 58 2-17 3 41 1 37 2-57 4 71 4-60 2 39 3-40 0-10 2 69 5-38 0 41 5-27 1 42 5-2 0-46 6 4 1 43 0-24 3 51 2-18 2-59 4 2 2 54 4-2 2-64 1 25 4-43 1-8 2 85 5-50 1 55 3-25 4-52 3 50 0-52 3 22 4-61 0 30 4-83 2 16 3-71 1 8 4-130 2 1 4-95 0 3 4-130 3 3 3 32 1-10 1 37 3-10 3 36 2-11 4 41 2-23 3 53 1-7 5-186 0-14 5-147 0-20 5-180 0-22 5-356 0-45 5-497 0-36 5-546 0-51 5-731 0-51 4-146 1 31 5 154 0 12 5 132 0 8 5 75 0 8 5 56 3 40 2-42 0-10 5-119 0-9 5-162 0-15 5-108 1-15 4 82 0 8 5 172 0 14 5 189 0 14 5 189 0 13 5 195 0 8 5 220 0 24 5 393 0 20 5 384 0 18 5 377 0 17 5 128 0-16 5 121 1-6 4 112 1 9 4 112 0-9 5 66 0 10 4 66 1-3 5 72 1 6 3 76 1-11 5 68 0-8 4 68 2-7 3 67 4 29 0-41 3 1 3 66 4-42 1 40 1-22 4 75 2-54 4 77 1 26 1-50 3 24 3 41 5-55 0 69 4-60 2 47 2 0 3-42 2-6 2 61 3-45 3-46 1 18 4-134 1-9 4 85 1-2 4 56 2-5 3 48 1 13 3-66 4 62 2-86 2 16 4-117 1-32 4 110 0-11 5 62 1-34 1 58 5 14 1-41 3 37 3-35 1-10 5-109 1-9 2 123 3 39 1-67 3 26 2 47 4-49 3 81 1-50 2 36 6 19 1-64 1-2 2 76 5-14 3-71 1-17 4 41 0-18 5 55 4-66 1 58 1 21 4-51 0 35 4-60 1 7 3 59 4-18 3-40 0 32 4-193 1-22 5-262 0-18 5-349 0-43 5-401 0-21 5-457 0-31 4-367 1 44 5 221 0 18 5 209 0 22 5 210 0 15 5 219 0 10 5 199 0 23 4 158 1-14 5 169 1 12 3 65 1 8 5 90 0-10 5 72 0-37 5 102 1-27 3 102 4-8 1-39 3 65 0-39 3-10 5 67 0-22 4 40 3-15 1 33 3-12 4 38 0-19 3 45 3 11 3-39 1 27 5 56 1-60 2 79 3-25 3 40 3-40 2 55 2-41 2 79 4 6 3-58 1 15 3-52 1 15 5-146 1-32 4 70 1-22 4 76 0-10 2 44 3-28 5 66 1-43 3 54 3 27 2-66 2 15 3 41 2-33 3 40 1-13 1 37 5 23 3-65 1-18 1 61 5-41 4 48 3 21 1-47 3-12 3 58 1 11 3-69 2-1 3 55 3-34 2 25 3 21 3-60 3-3 1 57 2 28 1-84 5 75 3-60 2-12 1 30 2 4 4-55 1 23 4-58 1-8 1 86 5-42 2 41 3 23 2-64 6 60 0-35 1 25 4-40 1 20 4 48 1-11 4-46 4 35 1-43 1 59 3-61 2 5 4 60 3-52 3 54 1-29 2 40 3 5 2-56 4 27 2-35 2 42 2-54 3 50 3-82 1 14 5-117 0 8 5-217 0-25 5-372 0-7 3-327 2 18 5 311 0 14 4 258 1 19 5 208 0 31 5 101 0-18 4 92 2-8 3 58 2-38 2 33 3 19 1-33 5 58 1-56 4 42 2-46 2 44 1-39 6-3 1 49 2-39 0 43 6 1 3-56 1 7 3 69 3-53 1 53 3 1 1-58 3-1 4 45 2-30 3 34 2-56 1 56 4-39 1 72 3 0 5-52 4-11 1 55 3-11 1-70 4 0 2 67 0-47 2 47 5-43 3 67 1-26 2-69 6 23 0 44 5-44 1 38 1 19 4-73 2 50 2-53 1 8 3 56 2-65 2 47 5-3 2-76 4 52 1-47 2 5 3 63 1 10 1-55 4 23 4 46 4-10 0-45 2 43 4-60 4 55 1-45 4 44 2-45 0 29 2-46 7-27 0 39 1-17 4-78 1-4 4-114 1 7 5 67 1-24 3 64 1-41 4 83 2-26 3 48 1-27 4 45 1-18 1 42 5 21 2-43 3 5 1 62 3-81 1 45 4-35 4-71 1 23 5-102 0-17 4 88 1-27 5 77 1-28 4 57 0-21 4 56 3-39 2 74 1-37 3 42 4-9 3-55 0 31 1-60 4 16 3-72 3-7 3 43 3-5 3 71 0-41 3 62 2-34 2 51 4-74 2 52 3 17 4-84 1 29 4-65 0 7 5-90 1 19 4-90 1-15 3 45 4-32 1 47 2-17 3 53 1-27 3 75 2-47 3 57 2-4 3 35 2-20 4 46 3-17 1 62 2-57 4 66 2 10 2-67 3 21 2 56 3-53 3 62 2-48 2 61 2-52 1 45 4-11 4-52 1-6 3 42 4 29 2-61 1 24 3-35 3 18 2 33 2 22 3-49 3 33 3-62 5 61 1-58 2 7 3 64 1-42 2 63 4-46 2 43 2-22 3-80 1 18 4-170 2-2 3 115 2 4 3 55 2-17 3 72 2-55 1 66 5-42 2 53 2-21 2-31 2-3 5 60 3 14 0-60 3 16 1-43 4 57 2-51 5-10 1 71 1-41 3 59 2-10 2-53 4 41 2-39 4 75 3-77 2 35 2-64 5 42 0-48 2 10 3 48 2-48 4 49 1-36 1 58 4-37 1-45 3 10 3 42 3 32 1-90 4 42 2-41 3 37 3-47 2-2 1 47 5-46 3-68 1 17 3-39 1 5 4-59 4 45 1-36 1 2 4 52 1-6 4 58 2-19 2 63 2 3 3-56 2 10 3 54 3-56 3 62 1-4 2-41 5 43 2-31 2 8 3 66 4-11 1-55 4 57 1-44 3-18 1 62 5 11 0-59 2 59 3-58 2-11 4 67 3-53 1 48 4-51 2 52 2 36 3-58 4-20 2 46 1-40 3 49 1 22 3-50 3 5 3 47 2-6 2-58 2 65 2-70 3 58 1-45 5 46 4-85 1 53 2-73 2 35 4-143 1-7 4 119 2-28 1 75 5-30 0 38 3 19 4-44 3-2 2 41 4 14 1-36 3 54 1-41 3-1 1 41 3-44 2 49 3 20 2-58 4 56 4-49 0 34 4-59 4-11 0 65 3-61 4 61 0-1 3-65 2 19 1 62 5-8 2-55 4 8 2 53 5-68 1 59 1-17 3-48 2 45 1-58 3 29 5 47 2-62 1 68 2-48 1 31 7 23 2-116 0-4 5-332 0-36 5-348 0-26 5-362 0-42 5-387 1-114 4 160 0 7 5 205 0 13 5 194 0 11 5 154 0 0 5 121 0-9 4 123 1 2 4 91 1-15 5 101 0-10 3 74 2 13 4 64 1-7 5 70 0 12 4 77 1-16 4 76 2-4 2 45 2-21 2 42 3 7 4 67 2-38 3 53 1 10 2 66 5-24 1-42 4 45 2-43 2 16 4-65 0 18 5-183 0 4 5-168 0 1 5-237 0-21 4 65 1 11 5 54 0-2 4 72 1-3 3 60 2-10 4 66 1-3 5 70 3 6 1 34 2-15 4 79 2-35 2 53 1-2 4 47 2-6 4 64 0-23 2 39 5 24 1-54 2-4 2 56 5 7 1-40 4-12 1 49 4-8 0 46 6 10 1-51 3 32 2 43 2-4 3-71 3-13 1 44 2-44 2 59 3-47 3 41 6-33 0 39 4-35 1 36 4-26 1 51 1-24 3 47 2-12 5-64 1-9 0 43 5-49 1 43 5-37 1 55 4 2 1-62 4 58 0-50 4 39 1-57 5 12 2 48 1-25 1 45 7 7 1-75 3 6 2 61 2-38 1 53 5-8 2-36 3-5 1 34 6 14 0-50 5 16 1 42 2 6 1-56 6-1 1 47 1-25 3-51 2 53 3-45 2 52 1-52 6 54 0-53 4 65 1-60 5-12 1 57 4-63 0 48 3 6 4-70 1 45 2-58 2 29 2-43 4-26 2 45 3-14 4-87 0 20 4 67 1-43 5 63 1-35 1 53 5 24 3-40 0 38"/>
<path class="ln" stroke="#ff7f0e" d="M1004 5023l1-152 0 28 4 105 3-136 3 150 3-170 2 129 2 47 1-137 4 131 1-121 3 141 4-170 1 149 3-169 2 173 0-138 4 164 4-150 3 117 2-106 1 154 1-191 6 154 1-133 5 102 1-106 3-2 3 182 3-24 2-166 3 162 1-156 2-34 3 164 5 21 1-149 1-17 3 185 3 24 1-165 2 153 2-171 5-16 0 202 4-182 3 110 3 17 2-156 2-16 2 140 2-125 3 111 4-141 2 184 1-21 3-115 3 97 3-124 2 7 3 144 2-54 3-98 3 150 1-162 5 6 1 178 2-209 3 211 2-51 4-114 3 47 1 75 2-132 1 125 5-147 0 137 6 52 0-182 3-29 3 184 4-146 1 118 1-129 2 147 5-130 1 115 5-10 0-137 6 128 1-136 0 160 1-143 4-17 4 158 2-135 3 145 1 1 4-104 3-40 1 150 5 29 1-137 3-23 1 172 5 3 1-169 3-19 1 128 2 30 2-157 3 160 4-146 2 123 4-151 0 31 1 126 7-25 1-95 2-32 2 156 4-160 1 162 3 44 1-185 6-45 1 151 2-128 2 139 5-123 1 135 2 52 0-158 4-36 5 162 0 16 2-223 3 193 2-143 4 156 1-126 4 167 2-193 4 14 3 164 2-7 1-193 4 63 1 131 3-37 2-133 3 174 1-179 6 152 1-127 2-30 2 138 4 18 0-129 5 5 1 120 3-140 2 149 2-133 4 135 3-11 2-139 1-4 1 108 7-109 1 217 2-244 2 199 5-169 1 201 4-170 1 84 4 27 0-153 5 22 0 133 6-127 1 204 0-209 5 138 4-132 1 124 1 22 0-180 4 176 1-139 5-11 2 194 3-58 3-162 4 25 2 125 0-120 2 151 4-16 4-139 0 190 3-190 4 169 0-197 3 116 3-201 3-11 3 199 1-96 4 165 1-29 2-117 4 10 4 180 2-26 2-136 3 136 2-160 2 100 3-129 2 176 2-161 4-5 1 128 5-129 0 170 4-150 1 130 3-154 1 168 5 6 1-186 3 47 0 129 5 22 1-155 6-19 1 191 1-190 2 158 3 0 2-169 5 27 0 124 4-114 1 110 7-112 1 148 3 28 1-152 4-32 0 101 6-106 1 111 2 4 3-114 0 117 5-128 0-33 5 147 1 0 3-132 2 52 4-158 1-17 1 133 3-84 2 202 4-118 3 85 4 54 1-108 3 128 1-156 3 139 1-133 3 11 4 122 3-7 1-133 4-3 2 140 1 50 3-136 3 79 2-123 3 23 3 130 3 13 2-142 5 8 1 158 2-57 2-108 4 8 1 153 2-192 1 200 6-183 1 131 4 7 2-152 4 141 1-123 1-11 2 149 3-139 1 102 4-118 1 116 3 25 3-146 3 115 1-112 5 56 2-102 2 97 4-243 0 79 3-175 2-16 4 190 2-87 3 160 4-57 1 113 1-117 2 173 4-139 1 145 4-94 1 182 5-175 1 137 3-119 3 134 1-148 0 156 8-25 1-109 2-6 3 154 3-142 2 78 3-105 1 140 4 11 2-147 3 140 1-110 3 149 1-172 7 5 0 147 1-31 1-70 4-57 1 159 5-124 0 128 4-160 2 163 4 12 2-141 5 84 1-118 5 9 1 112 1 52 2-144 5-16 1 148 3-6 2-200 2 203 0-161 6 17 1 123 2 7 4-168 2 12 1 116 4-140 1 222 3-182 3 169 2-1 3-139 3 113 1-118 3-11 1 172 7-149 0 139 3-27 1-158 6 171 1-133 3 125 1-151 3 158 3-163 2 105 1-82 7-22 0 150 2-136 3 129 2-135 4 196 4-51 0-132 3 111 3-94 0 142 2-138 5 113 2-153 2 4 1 193 6-144 1 120 4-134 1 141 2-195 4 206 0 29 1-205 4 118 4-102 1 126 0-149 9 186 0-179 3 117 3-133 2 171 2-160 2 8 0 132 7-174 2 199 2-1 0-129 5-31 3 117 1 72 4-203 2 108 0-102 4 12 2 107 2 35 4-161 4 195 1-203 2 6 2 134 3-140 1 119 3-67 1 102 4-122 3 208 6-19 1-221 0 135 2-110 7-41 0 178 3 10 1-154 3 29 1 90 6-6 1-128 1 92 4-189 2-19 3 186 3 88 2-162 4 35 0 167 3-146 3 139 3-186 2 185 4-197 1 194 3-203 3 213 1-2 1-160 4-54 2 148 2 75 3-196 5 134 2-134 1 136 2-98 4 114 1-147 2 11 1 140 8-6 0-153 3-14 0 154 3-110 2 144 7-138 1 170 0-179 4 168 2-159 1 114 3 1 5-146 1 134 4-100 2-46 3 213 3-167 0 126 6-36 1-137 2 13 2 172 3 12 1-173 2 190 1-186 5 8 3 131 4-136 1 142 3 62 2-228 2 129 0-155 4 19 3 116 4 70 3-227 1 182 3-179 1 164 2-122 5 126 3-126 0-13 1 153 4 40 5-216 1 35 2 146 3 24 0-158 5 143 3-97 3 86 0-143 5 145 1-136 5-6 1 118 2 78 1-178 6-25 0 126 5 41 1-155 2-2 0 128 5-100 4 155 3-157 1 116 1 34 3-151 2 159 3-169 4-34 1 217 5-204 2 124 1-99 1 114 4-121 3 112 4-104 2 138 1-140 2 147 2-44 2-76 5-58 2 173 1-42 3-90 2 78 2-71 5 115 1-140 5 120 0-139 4 156 1-127 3 101 3-137 2 5 2 161 3-23 3-131 4-6 1 104 3 84 0-169 5 111 2-144 4 152 2-134 0 148 4-112 1-1 4 119 3-135 2 179 1 14 1-227 4 173 2-138 5 18 2 128 4-5 0-144 4 9 1 91 3 68 2-171 2 125 3-117 6 117 1-115 1-10 0 192 6-182 1 139 4-20 0-149 7 158 1-160 1 169 3-139 1 141 5-152 1 17 3 86 1 40 1-143 4 5 5 145 0 82 1-238 8 177 0-169 4 166 2-174 1 21 1 123 3-144 3 157 5-124 1 115 3 11 2-151 1 115 4-173 1 88 3 80 2 14 1-144 4 156 2-133 5 182 3-185 1 121 4-149 1 0 1 145 4-135 1 123 3-74 0 153 5-180 3 155 2-8 1-176 6 127 2-111 4 120 2-124 2-2 1 175 6-143 1 109 0 21 3-131 3 117 1-135 4-40 0 89 4-86 3-203 2 36 4 221 3-101 1 235 2-151 4 127 5-136 0 196 2-203 4 132 1 69 1-159 6 104 2-93 1-17 3 120 2-30 1-125 4 28 2 144 2-129 3 97 3 5 2-131 4 1 0 140 3 0 2-140 6 179 2-158 0-25 1 146 5-12 3-112 5-25 1 142 0-108 5 109 3-11 2-148 1 58 1 99 3-129 3 151 5 8 1-153 2-7 1 126 4-112 2 103 4-3 2-124 2-10 2 151 5 10 1-135 4-8 0 158 4-171 0 136 4 71 2-208 5 22 1 117 2-125 1 146 7-140 0 133 3-13 2-140 2 128 1-123 5 144 1-144 4-16 2 156 3 29 1-134 4-56 2 154 1 23 3-166 5 154 1-133 2 123 2-140 2 173 2-151 4-26 3 149 2-8 1-115 5-20 1 165 2-31 4-170 1 37 5 161 2-186 1 136 3-7 2-117 3 129 4-134 3 142 2-132 1 25 3 71 2-97 1 125 3-9 3-101 2 148 1-143 6-13 1 107 4-142 1 144 4 48 2-124 3 97 1-145 2 140 1-125 4 33 0 145 5-170 2 168 4-148 3 145 4-169 1 136 4 14 1-129 3 89 0-103 4 121 0-111 6 127 2-165 4 184 1-123 4-21 1 166 3-63 3-140 1 16 2 158 4-12 3-311 0-14 4-509 1 56 4 202 1 28 5-227 1-77 3 138 3 125 2-100 1-13 5-125 0 1 5-144 0-27 4 266 3 145 2-144 3-104 2 151 1-8 5 240 0 23 4 266 1-7 4 254 4-228 1 158 3 36 2-140 2 38 3-175 1 113 4-263 2-108 4 192 0-55 4 184 4-57 1 125 2-79 1 149 3 6 4-165 1 194 4-144 2-24 3 151 1-2 2-107 4 136 1-190 3 28 1 145 7-189 1 173 3 36 1-206 2 215 4-213 5 181 0-119 5-37 0 155 2 10 3-168 1 31 1 90 8 11 0-134 3 159 0-129 3 141 2-134 3 42 5 65 0-124 4 128 1 1 1-121 5 151 3-147 2 128 2-148 3 177 3-149 4 126 1-155 2 30 4 187 1-168 3 113 1-173 5 166 1-108 4 182 2-197 2 131 4-16 1-118 1 137 2-155 6 103 1-105 2-14 4 133 1-117 2 144 2-11 1-132 4 11 5 130 2 6 0-148 4 177 3-185 3 9 1 156 4-179 1 214 4-45 1-150 5-54 1 196 4-141 1 129 2-9 2-109 4 148 2-127 3-18 2 153 2-190 4 205 3-259 0 150 2-97 5-400 0-9 3-447 2-5 5 508 0 65 5 353 1-97 3 155 1 32 2-141 5-24 0 166 3-14 0-119 8 11 0 195 3-187 0 145 8 65 0-205 4-12 1 157 2-7 1-169 4 12 0 123 7 47 2-174 1 6 4 124 1 42 2-177 4-7 0 186 4-37 3-98 1-77 1 212 5 2 3-183 3 18 0 132 3 18 3-133 3 136 1-131 3-7 3 165 3-22 3-187 1 20 2 144 3 44 4-227 4 165 1-115 2 9 2 102 3 113 3-188 2-11 1 123 5-101 2 107 4 31 1-161 1-3 4 102 1 106 4-198 3 95 2-143 4 15 1 119 2 21 3-142 1 114 4-107 3 140 2-135 1 106 3-155 2 156 4-159 1 154 2-134 4 145 1-141 6 156 1-173 3 156 2-159 1 172 3-143 3-14 1 231 5-250 0 143 5 60 2-201 5 18 0 158 4-108 0 137 2-34 5-138 1-22 0 205 7-37 1-177 2 32 1 161 4-150 3 132 2-15 0-147 5 8 3 135 3-157 1 157 3-126 2 164 4-149 1 240 3-267 2 212 2-193 3 148 3-152 1 173 5-45 1-143 4 160 0-120 3 17 2 99 3-2 3-129 4 17 2 147 1-192 1 157 6 16 1-129 3 140 1-186 3 3 4 221 2-217 2 142 2-144 4 165 2-145 0 166 6-63 2-84 1 128 3-131 4-12 0 137 4-30 3-88 5 141 1-206 1 165 2-165 3 9 2 150 3-130 4 129 1-123 1 105 3 23 4-142 3 190 1-177 2 155 4-143 2-5 2 125 5-20 1-121 1-15 1 135 5 26 2-151 6-34 0 222 1-190 1 110 4-97 1 101 5-105 3 134 1-30 5-123 2 182 0-184 5 21 1 77 2-71 3 132 2-22 4-125 5-5 1 187 0-16 4-185 3 48 3 91 3-121 2 130 1 9 4-126 2 163 2-214 1 31 2 140 3 12 2-120 3 0 4 147 3-128 1 142 3-188 2 175 2-172 5 189 0-23 2-114 3 107 3-121 5-4 2 143 1-154 1 185 4-40 1-180 5 46 1 119 2 21 3-113 6-18 1 138 3-163 1 181 3-25 0-149 3 172 3-170 6 176 0-206 4 190 1-161 5-9 0 130 5 55 1-173 4 101 1-128 1 180 2-169 4 216 2-246 4 34 0 137 3-132 1 121 4 25 3-114 3 85 3-151 1 17 3 129 2 45 2-170 5 32 0 102 3 47 2-178 5-3 1 122 2-139 1 124 6 25 0-134 2 1 1 170 5-52 2-138 2 47 4 112 1 16 3-161 5 21 1 218 2-219 1 144 4-165 2 139 3-133 1 161 4-157 0 163 6-7 0-156 3-11 3 202 5-192 0 164 3-135 2 116 3-163 1 155 4-55 3-180 1-7 1 173 6-80 3 119 1-78 1 97 3 31 3-152 2 174 3-192 4 151 2-161 2 28 2 146 5-160 1 152 5-30 1-83 0 82 2-138 4 17 3 147 2-31 2-123 2 180 4-197 3 34 0 169 5-40 1-119 5 3 1 122 1 18 1-97 4-24 4 144 4-4 2-176 4 143 1-102 0 158 0-162 6-19 2 104 3-21 2-144 4 142 1-104 4 88 1-148 2 120 4-176 2 0 1 132 4-118 3 168 1-115 3 164 3-108 3 143 1-121 3 84 3 75 3-166 2 119 1-171 5 36 2 171 2-74 1-134 5 21 1 165 3-145 4 131 2-154 0 179 3-151 5 128 1-14 1-109 6-12 1 115 4-115 0 103 4-109 1 152 5-145 1 101 4 61 1-130 1 131 5-138 1 123 3-154 3 20 0 157 6-166 2 109 3 50 2-165 3-20 1 101 2 36 2-98 3 114 3-102 2-23 3 163 4-150 1 135 2-129 3 141 2-21 0-136 6 138 3-130 2 181 1-155 4-48 0 179 3-143 1 196 4-241 1 185 4 12 1-175 5 170 1-198 3-7 4 171 1 7 4-135 4 4 2 136 2-106 0 109 5 22 2-126 1-33 1 132 7-46 0-76 2 132 2-160 6 142 0-95 4-14 2 172 1-201 5 139 3-1 1-110 3 113 1-139 2-13 2 133 4 19 2-141 3 128 3-121 2 154 2-167 4 100 2-119 1 120 2-97 3 156 0-192 6 181 3-191 1 163 3-119 3 31 2 102 4 33 1-166 3 136 4-114 1 98 1-119 4 11 2 100 3 25 1-145 3 193 2-178 3 167 2-163 6 137 0-134 3-31 1 146 3-146 3 151 3-116 3 169 3-68 1-124 2 143 0-153 7 196 1-173 4 1 2 124 2 113 2-222 4 112 1-121 5-22 1 181 3-18 1-164 4 21 1 126 2-14 1-136 4 0 4 106 1 40 3-141 2 146 2-134 4 136 3-185 1 27 5 120 1 3 1-112 4-21 3 132 4 12 1-127 3 154 1-162 3 9 2 111 3-94 4 132 3-157 0 138 3-120 1 118 4 21 3-173 5 133 0-109 3 150 1-99 5-45 2 174 3-45 0-115 5 98 2-136 1 14 3 115 3 47 1-210 4 175 2-116 1-38 2 127 6 72 0-162 4 132 1-114 3 73 3-120 2 20 1 167 4-27 2-121 3 6 2 145 4-36 0-127 3-21 3 150 6-118 1 141 0-23 3-131 4 156 1-164 4 132 2-99 3 118 2-117 5 116 1-153 1 193 1-206 6 177 1-141 2 124 3-122 2 109 3-127 3 135 2-91 2-7 4 108 0 9 2-162 6 209 1-206 4 138 1-98 4-11 0 102 2 31 3-101 2 107 1-107 8 144 0-161 4 115 1-146 3-3 3 134 0-125 2 134 3-107 3 104 3-151 2 150 4-89 1 170 4-73 2-105 3 124 0-185 4 16 3 172 1-15 2-121 4 134 1-154 3 123 4-143 2-11 3 229 2-76 2-154 3 219 4-168 1-33 3 123 1-134 5 150 0-43 2-93 4-7 2 190 5-17 1-198 2 45 1 182 3-56 2-156 6 145 1-120 3-34 2 175 1 58 3-179 2-33 4 175 3-2 2-131 2 109 3-156 2 144 0-102 5 127 2-121 3 119 2-132 2 109 4-187 1 46 4-310 2 3 3 241 1-72 3 225 3-116 3 137 1 7 3-113 3 42 1 96 4 14 2-139 3 236 1-207 3 101 3-190 2-9 1 205 7-133 2 106 2 9 0-133 5 11 1 141 4-109 1 100 4-4 2-117 2 22 3 143 1-152 1 107 5-130 1 169 4-148 3 122 1-127 2 121 5-120 1 160 6-12 1-164 1 10 2 160 3-150 3 117 2-149 2 148 3-136 2 165 4-161 2 103 1-135 4 115 2-5 3-176 2 93 2-175 2 12 4 214 3-99 1 177 2-99 5 81 1 36 1-164 7 42 0 113 4-154 1 154 1-156 2 157 3 1 3-140 3 173 0-186 4 44 3 191 5-204 1 127 1 31 1-145 4 99 3-106 3 127 2-144 2 4 3 166 5-159 1 193 2-209 1 138 6-120 1 121 4-29 0-131 4 5 3 125 2 53 1-182 3 14 3 156 3-156 1 108 5 14 2-133 4 132 1-142 1 184 1-153 6-26 2 138 1-83 3 121 3-32 3-142 1 163 3-162 2 174 1-162 4 29 2 159 2-60 1-159 7 92 1 78 2-2 3-128 1 43 3 132 3 13 3-212 2 50 2 162 4-191 3 193 1-3 2-171 4 2 0 155 3-8 4-188 4 59 2 109 0-6 1-130 7 143 0-228 2 92 3 172 2-78 2-76 6-53 1 166 1-146 0 151 7-12 1-142 4 167 0-145 3 160 3-191 2 141 5-137 3 160 2-155 2 189 1-176 4-16 0 129 3-113 5 113 1-94 3 104 1-117 3 187 3-39 2-135 3-5 2 181 4-205 1 165 2-154 4 138 2-103 2 160 2-79 5-119 0 170 4-164 2 30 0 96 6-3 2-166 1 219 1-200 6 103 1-115 2 18 2 140 4-30 2-102 6 169 1-156 1 134 3-120 2 110 2-140 5 146 0-179 4 14 1 154 4-4 3-148 0-3 3 148 4-134 2 186 5-60 1-165 1 247 4-186 3 107 1-126 3-3 1 135 5-123 0 118 5 69 1-221 3 156 1-137 3 22 3 143 2 4 2-153 6-19 0 144 1-33 5-112 2 10 1 138 4-140 2 107 2 54 2-166 4-23 2 158 4-114 2 143 2-37 2-115 3 142 2-160 2 190 1-149 3 5 2 96 3-158 4 162 3 0 2-131 1 129 4-162 1 218 2-179 4 9 1 119 3-109 3 105 2 25 4-140 3 13 3 90 2-122 2 161 2-137 2 121 5-145 1 158 1-174 3 158 5-149 1 136 2-158 3 147 1-129 1 204 5-72 2-97 5-39 2 180 1-17 2-151 3-20 1 155 7-127 0 108 2-64 2 146 4-217 1 219 5-171 1 126 1 19 1-214 4 76 2 112 4-150 1 138 5 24 2-166 2 8 3 140 3-15 0-141 7 7 0 181 2 15 1-201 3 26 2 145 3-151 4 181 2 46 2-205 4 121 1-130 4 133 3-162 1-11 1 179 4-159 3 110 1 31 4-140 1-23 1 138 5 55 2-198 4 62 2 91 4 21 2-111 1 75 0-138 7-1 1 165 1-108 4-178 1 35 4-300 2-3 3 301 1-61 4 213 1 71 1-149 7 259 0-250 5 42 1 127 4-114 0 94 3-103 2 163 2 4 2-167 7 3 0 101 5 47 0-186 3 178 1-142 2 106 4-130 4 17 0 136 3-18 4-143 1 151 2-129 3 113 2-123 3 112 0-135 5 35 3 192 2-11 4-169 3-8 1 121 2 68 1-225 3 15 2 149 4-147 2 143 5-149 1 146 2-132 3 149 2-7 1-109 5 111 1-171 2 32 2 160 7 51 1-182 1-63 3 209 5-26 0-125 4 88 0-109 4 99 0-126 5 116 2-139 1 99 3-161 2 0 4 200 2-101 0 144 6 1 1-139 3 23 2 91 4-119 1 142 6-153 1 154 4-136 0 154 2-160 3 103 2 56 0-141 5 190 3-188 2 120 3-119 3 122 1-120 3 110 2-89 6 119 1-171 1 14 2 168 4-185 2 154 3-13 1-120 4 154 2-168 2-30 4 165 0-98 4 145 1-184 1 184 4-34 4-150 3 31 2 129 2-124 2 118 3-162 3 192 5-64 0-102 3 125 1-109 3 96 3-115 4 141 2-113 2 119 1-160 4 27 3 152 0 4 4-149 1-13 2 166 4-13 3-167 1 125 1-109 4-3 2 90 4-118 1 138 3-88 3 114 2-1 1-123 8-35 0 201 4-61 0-104 4-30 0 158 4-19 4-113 2 107 1-124 2-56 1 218 5 27 0-169 4-27 4 205 3-55 2-110 5 107 1-128 2 125 2-136 3-38 2 157 1-105 1 141 7-152 1 130 1 29 3-172 2 14 3 131 3 5 0-148 5 30 3 112 3 2 0-133 6 111 2-111 1 138 2-178 3 7 2 148 5 32 2-174 2 141 2-109 2 85 1-110 3 1 2 120 5-127 2 108 3 8 1-104 5 138 0-184 4 47 2 131 3 21 0-138 6-17 1 179 4 4 0-184 2 185 3-134 4-64 3 226 1-180 1 160 4-188 3 138 1-128 4 159 5-159 0 135 1-16 5-105 2-24 2 166 3-24 3-118 0-31 5 193 0-187 5 107 0 64 2-189 6 169 0-147 3 127 1-130 5 22 1 118 5-135 1 161 2-78 0-112 7 142 1-127 1 137 1-188 4 182 2-119 4 136 1-125 7-19 0 126 4-117 1 150 3 0 1-140 5 114 0-118 2-31 0 123 7 41 1-178 5 187 0-146 4-11 2 140 1-133 4 182 1-205 1 126 6 15 1-159 2 47 5 107 4-136 0 126 1 5 1-121 6 118 2-129 1-5 4 148 2-118 4 117 0-126 4 175 1 16 3-171 2-3 4 157 1-195 3 184 4-131 1 112 5-8 1-109 4 123 0-170 2 112 4-152 2 45 3-244 1-26 4 238 1-66 4 166 1-67 3 155 3-135 0 124 6-128 2 138 1 13 2-160 5-35 2 190 2-95 4 119 1-153 3 115 2-136 3 197 1-175 5 125 2-11 2-172 1 77 5-577 0-63 2-217 3 121 3 164 2-98 4-221 1 36 4 281 1 6 5-293 1-41 3 243 3 107 3-175 0-26 5-199 0 2 4-80 1 13 5 312 1 108 4-131 1-51 4 229 0-27 5 365 0 11 4 283 1-126 3 185 2-168 5 129 4-142 0 134 2 29 2-156 3 3 1 137 4-145 4 142 2-166 1 153 2-167 0 171 6-120 3 146 2-156 1 142 6 25 1-130 5-4 1 147 1-148 1 109 5-22 1-114 3 21 1 111 3-188 4 256 1-45 2-106 5 165 2-174 1-25 1 127 6-35 1-80 3 59 1-139 3 75 4-211 3-49 3 219 2-79 0 198 4-32 1-141 3 67 5-202 2-82 2 134 1-2 4 194 1-97 2 130 4 47 1-127 4 4 4 102 0 40 4-110 2 17 2 101 3-142 2 146 3-4 3-144 4 149 1-146 1 125 1-107 6-4 0 124 4-136 3 145 5-150 1 183 0-31 3-183 4 54 2 109 2-105 1 144 5-38 2-117 4 179 1-161 2 124 1-165 6 11 1 163 2 11 3-193 3 156 1-115 4 23 1 171 2-73 3-161 3 175 1-128 6-42 0 174 5 24 1-178 1-5 5 138 1 9 1-121 5 128 2-163 1 15 2 160 5-119 1 124 3-139 3 126 1-128 4 154 4-49 1-129 5 177 0-184 3-43 2 223 3-170 3 102 4-118 0 161 1-170 2 108 4 51 1-150 6-1 1 159 2-160 1 92 5-87 3 104 4-132 0 144 2 8 3-130 3 2 2 150 4-36 1-130 2 157 0-152 4 132 1-96 4-26 1 160 7-120 1 110 5-165 0 186 4-195 2 169 4 58 1-203 2 130 1-98 4 147 0-177 6 9 0 125 2-153 2 163 3-165 3 165 3-165 1 184 5-26 2-154 2 11 3 152 2-150 3 157 4-162 1 138 3 6 2-130 2-12 1 121 4-122 1 151 5-170 0 129 4 10 2-163 3 8 2 173 3-118 3 169 3-50 2-126 5 214 0-211 3 151 1-151 4-1 2 148 3-172 3 132 3-103 2 144 2-135 1 129 5-108 1 121 2-27 1-99 5-50 1 175 5-165 0 130 2-115 1 125 5-111 1 114 3-148 4 143 1-144 1 143 4-146 2 124 4 1 2-123 3-29 1 123 4-72 3 119 4 28 2-166 1 218 1-210 5 147 2-125 2 147 2-174 4-24 1 178 2-121 5 119 0 26 2-148 4-46 1 195 4-168 2 89 2-99 2 142 5-21 2-141 3 38 2 108 1 65 1-213 7-2 2 138 2 35 2-130 1 85 4-99 3 143 1-137 4 102 1-112 2 15 4 159 4-166 1 158 1-103 4 127 5-164 1 235 0-208 2 98 4-77 2 105 5-12 1-156 2 41 1 166 7-61 0-117 1 136 3-121 4-31 2 140 2 10 3-140 2 167 3-187 2 134 2-131 2 9 3 147 4-6 1-143 2 154 5-149 1-59 3 209 3-119 2-159 1-6 5-234 0 48 4 191 3-12 1 105 3-32 1 143 6-100 1 143 2-180 1 187 4-158 1 150 3 14 1-154 6 142 2-143 1 149 3-107 2 124 4-144 1-25 4 169 3-158 2 184 2-38 3-149 3-27 3 197 0-207 3 167 3 31 1-166 3 161 4-171 1 28 2 138 5 12 2-141 2-10 2 150 4-130 2 128 3-61 2-108 2 112 4-194 2 170 3-226 1 74 4-214 0 38 5-271 2-44 2 131 1-7 5 164 0-40 5 158 0-65 3 147 5-46 1 112 4-84 1 145 2-120 2 152 3-94 3 171 1-169 4 180 2-10 2-182 2 119 2-122 3 35 3 150 5-26 1-85 2 102 1-152 4-27 2 176 4-151 0 121 6-26 1-107 2-2 0 132 7-146 1 207 4-31 0-138 3 135 1-146 4 176 4-170 2 143 1-156 4 139 3-112 0 147 3-160 6-48 1 137 1-77 0 124 6-150 2 126 5-135 1 138 0 14 4-132 4 10 1 119 4 64 0-220 4 134 2-130 2 6 0 125 4-134 1 173 7-137 1 91 2-1 3-73 3 68 1-107 4 131 3-134 1 133 1-155 4 27 4 134 2 14 0-188 4 9 1 201 4-228 3 183 2 18 3-148 3 126 2-131 1-3 2 144 3 39 2-203 4 216 1-163 5-5 2 135 2 1 2-150 4 100 2-97 2 4 3 122 3 24 2-182 2 125 3-133 1 4 2 169 4-15 2-142 4 190 1-187 3 34 2 150 3-175 2 130 5-114 1 150 4-128 1 130 3 3 1-176 4 19 0 152 7-27 1-98 1 108 3-138 2 7 4 110 1-92 2 126 3-127 2 129 4-143 1 131 3-154 2 143 3-132 3 156 2-22 4-160 3 12 1 149 3-174 1 147 2-122 2 157 6 10 0-174 5 187 1-180 4 146 1-114 3 104 3-143 0 38 3 138 4-11 1-111 5 98 1-131 1-6 2 134 5-9 1-136 3 130 3-123 1 124 3-120 4 113 1-122 3 122 1-128 4 23 0 103 5 62 3-214 2 140 1-126 5 155 2-128 2 23 1 121 5-150 3 171 1-158 3 130 1 7 3-151 3 234 3-227 2 115 2-120 5-18 1 145 1-121 3 131 6-19 1-127 1 15 1 138 4-137 3 104 1-114 4 159 1-135 3 157 3-171 2 163 2-140 2 112 3 113 2-223 3 0 2 153 4-180 2 152 5 97 1-251 2 42 1 103 4-88 1 84 4 25 2-130 2 126 4-145 4 166 0-192 4-18 1 169 4 14 1-138 3 191 3-187 1 4 4 140 2 42 2-198 4-4 0 152 3-156 3 158 4-8 0-169 4 183 2-153 5-21 1 147 3-114 0 153 7-174 1 151 3-3 1-138 4 156 0-172 6-10 1 198 3-165 1 158 1 31 4-188 3 134 2-130 4 127 1-122 2 141 2-124 3-37 3 155 2-146 1 139 5-136 2 168 4-48 1-107 1 97 5-117 1 169 2-161 4 156 2-177 1 25 1 90 4-85 3 130 2-113 1 129 5-174 3 169 4-167 1 178 4-191 1 142 1 22 4-111 2 131 1-151 4 111 2-108 3 128 2-149 4 144 1-166 4 23 1 174 3-192 2 161 3-142 0 132 6 11 2-143 4 14 1 116 2-138 3 228 3-251 1 173 3-20 1-128 3-4 1 136 6 68 1-173 4-14 2 146 4-11 0-140 2-13 2 191 3-201 2 167 3-141 4 250 2-164 2-115 2 13 2 147 3-6 3-127 3 23 4 126 3-33 0-125 4-6 2 126 3 24 2-145 5 25 0 151 4-181 0 160 2-31 5-123 1 128 3-157 1 84 3-150 2-21 4 212 3-121 0 193 3-190 4 142 3-113 0 119 4 70 1-187 6 42 0 85 3 9 1-125 3-6 2 144 7-180 0 187 1 12 4-154 4 142 1-184 4 2 1 159 3 14 2-169 1 178 3-175 5 178 1-163 2-22 2 172 2-175 3 121 3 20 1-160 3 201 3-133 5 111 1-121 2 122 1-119 5 116 2-143 2-4 2 155 3-45 1-109 4 17 0 165 4-28 4-151 3 139 1-132 2 159 2-148 7 12 0 131 3-54 1-128 5 141 1-93 2-36 1 159 6-122 1 157 3-12 3-150 1 153 4-168 0 50 3 109 5 22 1-159 1 117 3-156 3 42 3 115 1-123 2 160 6-189 2 189 0-167 1 151 7 18 1-129 2-34 3 166 2 33 2-201 3-18 2 151 2-112 4 130 3-178 1 237 4-231 1 125 3-29 3-120 1-35 5-767 0-76 5-1354 1-2 4 1071 0 81 5 954 0 17 4 250 4-111 1 144 1-7 2-172 5 178 3-154 1 70 3-201 1-6 5-376 1 86 4 282 0 51 4 181 4-150 2 211 2 2 2-160 2 163 2-153 5 144 1-133 1 10 2 224 5-58 1-133 4-20 2 105 2-90 1 148 6-123 1 108 3-35 0-154 5 37 2 122 2-148 1 138 4 0 2-153 3 238 4-189 3 23 0 154 2-179 4 113 2 32 0-144 4-24 4 152 4-131 1 135 2-30 0-105 6 109 1-179 2 56 1 145 5-29 3-118 2 168 3-150 3 16 3 112 0 4 3-137 5 122 1-131 3-9 1 186 4-46 2-122 2 31 2 129 5-190 0 150 3-136 3 142 2-146 2 126 6-5 0-119 3-26 1 199 4-147 1 148 6-23 0-133 4-15 1 123 2-139 2 187 3-184 2 128 3-40 3-92 1-10 4 145 3-9 2-125 3 16 0 151 4-29 2-112 2 112 2-123 3 2 2 176 6-50 0-156 4 34 2 131 5-16 1-162 2 211 1-175 4 211 2-195 4 142 1-134 3-22 2 200 4-210 1 154 3-132 1 158 2 18 1-155 6-42 2 137 1 19 4-129 3 141 1-185 4 147 2-131 1-15 5 163 4-125 1 112 4 16 1-162 0 14 4 137 1-136 2 106 3-77 3 97 5-111 1 149 4-144 1 139 1-135 4 138 3-7 2-167 4-2 1 172 1-144 1 142 4-6 4-154 1 50 5-229 0-49 5-377 0-39 5 549 0-44 5 226 1-85 3 120 2 46 4-213 0 124 4-217 1 35 4 202 4-136 2 211 2-179 2 134 1-148 2 212 6-13 1-177 2-20 2 188 3 49 1-205 3 154 3-142 2-36 3 149 3-90 2 123 3-156 3 140 4-167 1 191 4-46 2-111 1 94 2-128 2 162 2-151 5 1 1 189 5-172 1 139 1 40 1-176 7 129 2-149 1 169 3-144 2 160 3-166 3 140 2-171 1 31 4 117 3-143 0 160 4-41 3-77 2 139 3-182 4-3 0 200 3-45 1-127 3 164 5-163 3-55 1 185 1-14 3-109 4 99 1-81 4 127 1-185 3 65 0 174 6-95 1-144 3 58 0 168 5-186 1 127 4 2 3-117 2-44 2 151 3 32 3-180 1 21 1 133 6-133 2 110 1-177 3 178 5-93 2 163 0-51 4-82 3 116 2-244 4 49 1 182 3-159 2 135 1-12 1-110 7-4 2 86 3 40 2-125 2 6 0 133 5-145 2 138 4 5 2-145 2 1 1 177 3-16 4-146 1 131 3-139 1 4 2 134 7-127 0 180 5-93 1-136 1 18 3 197 2-204 2 200 2-199 3 186 3-9 2-178 2 184 4-137 2 124 0-180 6 198 1-154 2 9 0 124 9 6 1-107 1 140 1-151 4 6 1 124 5-142 0 117 6-124 1 215 1-91 4-166 1 212 3-190 4 97 0-102 5 20 2 129 1-26 5-178 0 74 4-133 2 6 2 212 3 7 3-122 1 44 5 132 2 3 2-186 2 169 3-108 1-65 2 157 3-141 4 139 2-1 2-125 3 190 1-204 4 22 2 159 4-161 2 103 2-99 2 128 2 22 1-193 4 45 3 168 2-166 1 184 7-201 1 103 1 15 3-105 2 122 5-136 2-73 2 193 1 9 3-104 3 144 3-230 4 22 1 146 2-100 2 132 2-15 1-160 7 189 0-150 3-2 2 164 4-158 2 146 5-128 0 186 2-45 1-149 7-19 0 142 5-26 0-102 1 10 4 138 4-106 0 144 3-153 3 156 1-192 3 155 5-167 1 162 2 11 1-128 4 180 1-215 3 159 4-173 2 34 3 155 1-34 1-111 5 135 4-122 0-55 3 164 3-41 1-93 6 154 1-147 2 5 2 115 3 5 2-134 2 109 5-71 3 102 1-178 3 38 1 94 5 6 1-109 1-11 4 160 2 0 4-139 2-16 0 150 3 15 4-146 3 91 0-134 6 23 1 182 3-19 1-158 4 158 2-142 3-39 1 210 4-10 2-171 3 178 3-177 0 11 5 129 0-141 4 109 2-107 3 132 3-98 0 96 4 16 2-122 4-21 1 109 2-102 4 127 3-177 2 188 2-181 3 135 2 9 4-127 1 4 3 151 1-152 4 129 1-99 1 162 7-182 1 132 2-156 1 169 3-176 2 158 7 29 1-172 1 29 1 113 6 27 1-143 3 120 1-148 2 16 3 124 2-2 4-100 5 81 1-158 3 180 2-161 3 121 1-83 3 111 0-161 5-7 2 160 2-110 2 113 5-148 2 128 2-80 2 172 2-214 1 173 5-152 2 163 1-162 4 116 3-107 0 137 5-37 1-93 6-43 0 158 1 3 3-128 2 152 4-164 1 1 4 109 2 21 3-136 1-6 1 155 4-167 5 124 4 43 0-152 4 123 0-93 3-12 1 139 4 16 1-173 5 42 0 122 4-142 1 174 3-49 4-131 3 39 2 106 5 4 0-174 3 186 2-132 1 113 1-130 6 15 1 139 5-177 1 212 1-49 3-132 2 116 3-163 3 60 2 118 2 8 1-162 7-8 1 237 1-178 2 101 3-172 4 144 4-106 1 109 3 38 2-131 2-22 1 112 5-136 3 156 0-127 3 100 3 36 1-114 5-42 1 139 3-162 1 159 5 37 1-160 4-5 2 99 4 73 1-161 4 100 1-109 1 123 4-135 4 21 0 179 4-191 2 192 2-68 2-113 2 117 2-130 5 25 2 143 4-184 0 125 5-118 1 107 1 34 1-145 4-2 2 174 4-172 2 153 3-141 1 122 3 39 1-144 7 132 0-118 3 99 0-130 5 14 3 125 2 24 3-156 2 174 1-163 6-18 1 150 3-117 2 149 1-181 2 139 4-124 1 106 5 26 1-145 4-22 1 166 2-137 1 156 7-170 1 187 1-151 4 116 1-38 2-73 4 114 2-111 4-39 0 143 6-124 2 177 3-195 1 118 5-116 0 122 2-131 3 124 5-100 1 161 0-55 3-111 3 127 0-107 6-3 2 144 3-169 2 176 1-58 2-155 5 19 1 135 4-109 1 123 5-11 1-145 1 162 5-150 1 72 3-155 3-30 0 192 6-91 1 138 1-110 1 97 7 27 0-145 3 142 3-151 2 159 2-151 6 10 0 125 5 46 1-123 2-29 2 153 1-161 2 117 4-151 1 141 3-73 4 109 2 0 1-140 5 12 1 122 2-125 5 138 1-19 1-140 4 178 2-157 3-24 3 113 3-130 1 173 4-147 1 114 3 58 1-191 7 42 0 119 3-133 3 94 3-32 1-89 1 98 1-103 5 178 2-154 4 108 0-151 4-4 2 154 4-7 2-160 4 196 2-177 2 16 1 174 3-18 2-105 3-36 1 135 6-131 2 154 1 11 1-174 4-15 1 132 3-146 4 166 4 18 0-154 3 119 3-90 2-35 1 185 4-56 3-141 3 177 3-138 1-36 3 179 1-28 3-102 4 151 3-191 1 6 2 155 3 59 3-187 3-3 2 130 1-131 1 144 6-28 1-179 3 27 3 157 2 17 3-166 2 118 3-128 2-13 1 202 5-153 2 165 3-36 1-112 2 119 2-158 3 148 4-163 3 23 2 214 4-194 1 111 2-87 1 101 3-116 3 195 4-75 2-145 1 24 4 169 3-15 2-166 1 126 2-115 4 125 2-145 3-37 1 172 4-143 3 114 1 36 2-144 6 165 0-193 3 35 1 121 3 40 3-182 4 186 1-182 3-15 3 180 2-122 1 101 5 7 0-100 6-47 0 141 3 14 2-144 3 136 1-99 6-48 1 169 3-143 1 144 4-191 1 175 4-115 0 121 3 10 2-182 4-23 2 196 5-114 1 127 5-171 1 150 3 24 2-150 0 23 1 105 5 9 3-122 3 187 0-183 7 111 1-111 0-41 2 182 4-10 1-147 4-10 4 133 4-135 1 150 3-177 2 148 1-112 1 100 7 36 1-170 1 124 2-119 3 27 3 145 4-149 1 134 3-27 1-111 6 115 0-113 3 121 1-122 2 88 1-73 7 154 1-172 1 15 1 136 5-25 3-131 5 0 1 105 2-86 2 127 2-115 0 186 7-42 1-141 3-1 0 94 6-128 0 142 6-153 1 156 2-6 1-146 2 4 2 145 4-92 3 136 2-44 3-123 3 171 0-164 3-15 5 137 1-151 2 120 3 2 4-122 3-13 2 110 2 25 2-137 1 3 1 131 5-108 1 101 5 22 1-120 5-18 0 206 4-198 2 134 2 0 2-130 5 104 0-116 4 9 2 137 4-143 1 178 2-58 1-132 5 120 1-66 5 63 1-89 3-8 1 113 5 51 1-143 2-61 4 164 1-150 2 177 4-26 1-146 2-10 3 165 6-111 0 168 2-52 1-125 3 102 5-139 0 110 4-79 3-10 1 127 4-138 0 174 3-152 5 135 3-163 0 170 5-176 0 148 3 27 1-143 5 184 1-212 4 54 1 83 4-126 2 147 4 68 1-202 1 132 5-148 2 13 1 149 3-191 1 154 5 20 1-151 5-1 2 133 2-104 3 148 1-158 1 146 5-14 2-165 3 152 2-139 4 166 1-159 4 32 1 112 3-4 2-167 1 19 2 156 3-17 1-124 4 136 1-162 8 148 1-153 3 169 2-139 2 93 0-88 5-24 0 131 6-117 0 150 3 13 2-170 5 8 0 133 5 15 1-221 2 234 1-124 4 86 3-123 2 5 1 126 5-156 1 164 3 92 3-238 2-4 1 183 5-158 2 148 2-43 3-117 3 0 2 189 4-83 1-125 1 159 4-157 3 8 1 122 4 33 2-187 2 168 1-98 5-22 2 138 5-13 0-132 1 211 1-200 4 121 1-132 7 10 2 151 0-150 4 95 2-77 4 75 0-100 2 76 3 36 3-125 3 121 0-135 5 144 3-154 3 168 3-129 1-25 1 141 3-2 1-97 6-28 2 129 2 3 2-107 6 124 1-114 3-26 2 119 0-128 3 178 5-15 1-178 1 129 1-124 5 141 3-139 4 4 2 156 2-45 2-105 3 13 1 136 5 8 0-175 3 146 1-141 6 153 1-126 5-10 1 155 1 0 3-140 1-25 4 173 2-190 2 191 4-146 1 158 5-49 2-130 2 182 2-190 5-17 0 186 5-16 1-147 2 19 1 77 2-90 2 115 3-133 3 130 4-100 2 123 4-124 1 114 3-21 2-137 1 132 5-129 1 137 1-127 4 124 2-130 6 147 0-138 4 30 1 188 3-227 3 212 2-21 2-182 2-10 3 221 2-77 3-142 3 187 0-175 3 189 1-174 6 18 3 136 3-146 2 117 0-105 1 128 6 25 1-139 4 0 1 134 3-123 4 119 0-129 2 95 7 14 0-182 1 205 1-165 4 138 1-140 8 32 1 93 0 78 3-194 4 125 1-93 5-63 2 225 2-78 2-122 3-2 1 165 4-45 1-148 5 41 0 127 3-124 1 105 4-149 1 209 3-59 5-109 1 5 3 117 1-149 0 154 8-120 0 103 3-88 2 138 3-49 1-166 3 0 3 196 2-52 0-137 6 174 1-159 4 143 1-112 7 165 1-138 2-24 1 115 3 4 3-112 1 120 5-115 2 6 1 109 5 25 1-162 1 139 3-126 3 132 2-119 5-48 1 114 2-102 3 147 2-17 3-115 2 153 1-126 3 116 2-131 4 104 4-117 2 125 0-152 4 119 1-78 3 121 4-141 4 176 0-202 3 39 2 106 4 6 2-155 2 145 1-140 4 77 3-272 1 46 4-415 1 44 5 407 0 1 4 210 1-142 3 153 4 22 0-134 4 149 0-147 5 35 1-142 4-13 1 195 5-86 2 138 2-123 2 165 3-149 3 113 5 19 0-104 4-33 1 123 2 2 3-124 1 6 5 138 1-134 3 145 4-27 1-105 2-3 1 96 3-2 2-133 3 13 3 163 2-157 1 145 6-143 1 133 2 58 1-221 8 174 0-166 2 133 3-129 2 4 1 102 4 94 3-185 3 124 0-136 6 37 1 90 1-92 3 138 2 39 4-200 3 39 1 115 2-4 3-127 3 188 4-171 2 130 1-134 4 104 2-160 2 51 3 158 3-166 3 223 0-249 4 115 2 28 4-147 2 130 3-109 1 110 0-148 5 175 1-148 3-23 4 149 3 26 0-150 7 13 1 114 2-124 1 125 2 54 3-180 5 151 1-159 3 166 2-162 3-33 2 187 2-8 3-140 1 130 3-146 3 175 4-185 1 24 1 168 5-65 0-78 4-15 3 140 4-154 1 189 1-214 2 163 3-142 4 154 2-141 1 115 3-110 5 147 2-49 1-144 6 230 0-185 3 158 0-165 5 120 3-129 1 140 2-118 4-21 2 104 3 88 1-191 3 128 2-160 6 159 0-170 2 187 2-162 4 30 3 198 3-212 1 173 1-25 1-201 7 39 1 122 4 21 1-140 3 0 1 135 4-109 1 193 2-255 4 165 2-111 3 110 2-96 3 154 3-180 3 144 0-157 5 156 0-109 3 111 2-109 1 143 5-91 1-135 4 44 3 142 3-123 2 139 3 11 3-149 0-5 3 134 4-168 2 184 1-147 1 125 7-120 0 182 2-58 4-102 2-18 2 118 4 30 1-143 4-27 3 137 0 15 5-136 0-3 3 132 2-143 4 178 4-152 1 164 1-163 1 118 6 8 1-130 2 164 1-200 5 162 3-145 4 123 2-132 0 154 3-155 4 4 1 190 5-47 1-157 3-7 2 152 2-137 2 147 3-139 1 162 4 12 0-169 8-7 0 119 4-93 0 122 2-140 1 163 7-21 1-148 3-11 1 128 4-126 1 140 4 57 3-189 0 6 4 180 3-144 2 143 3-198 3 144 0-119 3 112 4-92 2 126 4-136 1 146 3 74 1-243 6 13 1 141 1-160 4 145 0-143 2 157 4-167 1 141 4 62 1-199 4 166 1-138 3 10 2 94 3-108 2 125 5-93 3 123 0-170 2 196 4-55 3-126 3 153 1-177 4 220 2-166 5-28 0 136 1 11 2-185 4 223 1-169 4 11 3 123 2 48 2-174 4-54 2 166 3-134 2 157 3 27 2-162 3 143 1-167 5 118 1-162 4 209 1-181 2 122 4-144 1 132 3-94 2 3 2 115 2 58 2-169 4-10 2 101 6-91 0 183 2-54 2-133 4-17 2 175 3-22 2-187 2 142 1-89 4-13 1 119 4 26 3-159 2 8 3 127 5-118 1 125 3-11 1-145 2 18 2 159 3-5 3-151 1 132 2-100 4 108 3-117 1 146 4-146 3-10 1 132 4 45 0-182 4 153 1-142 3 133 1-136 5 143 2-143 3-26 3 169 3 10 2-139 2-9 3 151 1-131 2 88 3-121 2 112 3-126 2 111 3-96 4 140 3-33 2-130 2 176 1-184 6 57 1 144 4-162 0 174 2-27 3-172 4-9 2 180 1-125 4 97 2-145 0 148 6 0 3-134 1 25 1 80 6 31 1-118 2 140 2-164 4 4 1 145 4 45 1-204 4 163 2-128 2 163 1-147 5-71 2 231 1-200 3 176 3-213 4 211 0-19 4-139 5 132 0-127 4-26 1 217 2-61 3-125 1 152 5-180 1 139 2-112 3 112 3-152 3 15 1 133 2-114 2 125 5 0 0-115 3 125 1-141 7-14 1 155 1-140 2 126 5 18 2-175 4 35 1 154 2-36 3-181 1 32 3 159 2 22 2-139 4 96 0-85 5 81 2-94 3 132 3-174 2 42 1 113 3-129 2 143 7-171 1 150 2 42 1-123 3-72 3 178 5-157 1 143 2-19 0-98 6-5 1 116 3-134 2 188 2-70 1-97 6-38 0 131 5-22 1-62 1-5 1 153 6-155 0 124 4-99 3 92 2-105 2 84 4 54 0-184 3 39 4 131 5-143 0 131 1-26 3-101 4-12 2 137 2-158 1 144 6 2 1-135 3 137 2-142 1 28 4 119 5 14 0-143 2 8 3 118 2 3 3-153 2 156 1-184 3 48 1 163 5-11 3-154 2-20 1 136 6-130 1 145 3 24 1-184 4 31 1 138 5-131 0 122 2-116 4 135 2-136 1 95 4 42 3-178 1 181 3-152 4 12 1 127 2-160 4 158 2 57 3-172 1 132 3-160 4-34 0 200 6-198 2 184 1-191 1 151 7-104 1 144 4-13 1-155 1 135 3-132 4 161 1-128 2 135 1-144 5 23 1 144 2 32 2-204 5 185 0-169 4-40 2 175 5-134 1 156 3-159 0 123 6-162 1 149 3-115 2 134 3-8 2-120 2 111 2-145 3 148 4-116 2-32 2 177 4-12 1-123 3 120 1-129 3-32 1 171 3-32 1-132 4 140 4-139 2 1 0 143 5-137 3 209 2-221 0 165 6-151 2 150 2-25 3-128 2 139 3-161 1 167 1-124 5 11 2 106 3-135 2 129 4 41 0-150 3-57 5 187 1-169 1 181 6 1 0-155 2-28 2 195 4-17 0-177 5 201 2-167 5 10 2 151 1-31 2-111 2 88 4-136 3 28 1 160 3-131 2 118 3-173 2 216 4-57 2-159 4 35 1 123 4-132 1 141 2-7 3-129 2 117 1-141 5 175 3-142 3 140 1-148 1-5 2 115 4-131 0 150 5-204 2 186 3-138 4 134 3-127 1 113 4-105 1 156 3-55 3-104 0-6 5 237 1-87 3-111 3 82 2-104 1 79 2-91 4 149 4-184 1 188 4-143 4 22 1 88 0-146 4 165 3-155 3 129 2 30 2-123 1-32 1 147 4-10 3-159 2 76 3 105 2-144 5 163 0-21 3-169 3 16 2 168 3-19 2-131 2 132 1-165 6 170 1-212 2 210 2-125 3-38 1 178 5 20 3-186 5 123 1-81 2-36 3 153 1-136 2 103 6 16 0-212 5 56 0 150 2-145 0 122 7-142 0 180 5-167 2 149 3 29 1-166 3 154 3-128 3 113 0-137 3 133 1-119 4-7 4 162 4-180 1 184 2-51 2-114 2-13 1 106 6-111 1 156 2 24 1-200 4 14 2 182 2-170 2 174 4-13 2-150 3 117 1-94 4 134 3-157 1-6 3 144 3-117 2 119 3 56 1-175 3 157 3-129 3 105 2-148 2 97 2-110 4 98 0-91 6 212 2-192 1-18 3 147 3 13 2-180 5 44 0 103 3-7 2-98 4 114 3-138 3 140 1-153 2 17 1 110 4-118 3 159 1 12 4-174 4 193 1-159 2-8 3 101 4 7 1-134 3 148 2-119 1 190 3-201 3-17 1 176 4-168 1 159 3-154 2 196 3-37 5-155 1-18 4 178 1 31 2-180 2 1 2 114 4 1 2-98 3-45 4 164 1-150 3 139 2-137 1 127 5-148 0 162 6 5 0-192 5 151 0-116 4-29 2 108 2-94 3 122 1-169 3 157 2-108 4 101 3-121 1 151 4-132 2 130 3 9 2-169 4 154 0-121 3 151 3-98 2-56 4 133 2-160 2 111 3 39 1-134 6 195 1-203 3 46 1 92 1 30 2-133 6 167 1-235 2 67 1 88 6 37 1-135 1 135 1-147 5 201 3-178 2 151 4-161 2 117 0-155 3 94 5-214 0-13 4 146 1-25 4 173 2-35 2-83 5-30 0 155 6-132 0 206 1-176 5 112 2-131 2 156 2-161 1 157 6-24 2-118 2-35 0 186 3-2 1-199 5 213 3-147 3 110 2-125 1 10 4 168 1-173 2 159 5-172 2 231 1-66 1-150 6-17 0 141 6 18 1-148 2-17 1 144 4-15 4-154 1 28 2 142 5-29 0-131 4 150 0-126 3 111 1-136 4 25 1 114 7 19 0-159 6 28 1 171 0-50 4-137 2 131 4-156 1 90 4-408 0-52 5-1048 0-98 5 612 0 61 5 735 0-50 3 261 3-51 1 147 6-2 2-208 1 211 3-137 2-39 2 153 3-23 1-127 4-11 0 165 7-176 2 164 3-130 0 119 3-20 4-169 0 122 5-336 0-30 3-454 2 38 5 586 0-21 4 282 4-142 2 138 1 40 1-150 4 12 2 116 3 9 3-166 1 29 0 85 6-98 4 157 3-155 2 116 2 54 1-132 5-44 1 194 1-38 4-145 1 118 5-158 0 73 5-281 0 39 5-451 1-14 3 412 2 20 4 217 0-39 3 158 5 49 2-245 0 20 5-249 0 46 5 245 2-86 2 199 2-163 1 164 4 90 2-153 3 93 4-108 3 3 1 169 2-42 0-111 6 10 0 107 4 14 1-145 5 187 2-182 4 132 0-154 5-6 1 164 4-5 1-131 1-5 2 186 3-174 3 95 2 57 5-178 3 189 2-159 2 118 2-142 4 7 1 130 1-124 2 133 5-23 1-106 3 146 1-175 3 13 1 144 5-35 2-110 4 148 1-166 4 156 2-149 2-18 2 139 2-94 3 126 4-16 1-143 5 33 0 111 3-87 2 146 4-169 0 123 4-7 1-136 3 37 4-140 1 3 4 169 1-98 2 225 6-75 0-127 4 164 1-150 3-36 1 210 4-161 1 136 4-130 4 201 0-37 3-167 2 157 1-150 5-15 2 122 3-8 2-116 2 119 0-124 5-30 3 161 2-141 2 118 6 54 1-142 3-31 2 125 4-115 1 129 3-129 0 151 7-143 0 143 3-67 1-116 5 150 1-132 1 24 5 140 1-124 2 78 4-102 1 156 3 33 3-222 3 20 2 127 2-130 2 209 2-190 5 136 1 38 1-185 4 32 2 148 4-22 1-154 4 102 1-71 2 84 1-92 5 148 2-179 6-33 0 171 1-150 0 136 8-154 2 143 2-111 2 242 3-89 1-147 6 14 1 173 1-229 3 185 1-15 2-121 3 11 4 161 3-186 1 139 2-132 4 110 1 61 1-165 5 121 3-102 3 102 2-142 4 168 1-159 2 5 1 141 3-173 4 161 2-126 1 154 6-149 2 123 2 23 0-161 6-25 0 167 2-30 3-114 3 116 3-126 2 21 1 132 4-124 1 134 3-31 2-113 6 133 1-176 3 184 1-179 4 214 2-191 4-12 1 142 1 9 3-157 3 171 2-165 4 165 1-196 5 250 1-225 3 145 2-135 1 24 2 155 6-152 1 166 2 2 3-158 2 123 2-133 3 156 1-173 3 24 2 163 3-51 3-105 3-7 1 87 5 35 0-161 6 2 1 277 2-144 2-95 2 113 2-96 3-59 5 175 2 38 1-192 2 128 0-140 7 25 2 133 2-104 1 92 5-101 2 108 1 27 3-146 3 4 3 150 1-160 1 156 4-57 3-129 2 170 3-141 5 153 1-149 3-26 1 148 3-139 3 123 2 42 2-159 5-36 2 144 2 8 1-127 4 76 3-218 0 50 4-255 1 31 5 330 0-114 4 160 3-64 0 144 3-15 3-118 3 15 2 145 3-38 3-136 4 141 0-136 3 25 1 157 5-32 3-137 2 164 2-177 2 22 0 114 4-11 4-124 3 128 0-126 5 49 2-166 1 9 4 215 2-107 2 142 2-131 2 146 4-122 3 120 4 8 0-143 2-25 4 148 1-134 1 176 6-176 1 141 5-120 1 113 1 23 1-150 5-4 4 196 1-196 1 123 5 43 1-188 2 156 1-155 6 157 2-119 2 178 1-182 6 231 2-234 0 116 4-118 2 127 2-151 3 14 2 158 4 8 1-151 4 2 1 113 2 67 3-174 4 129 2-165 3 27 1 205 2-197 4 155 3-169 3 150 1-158 2 159 4-5 2-134 3 131 3-173 1 151 4-107 2-47 1 195 2 0 4-173 2 9 1 157 4-48 2-107 3 25 1 181 3-166 1 62 5-89 3 76 2 43 1-130 4 114 1-95 4-28 2 205 3-215 1 126 6 19 1-136 2 101 3-167 4 27 1 153 1-108 3 88 4-102 3 109 0 8 4-134 5 18 1 134 4 11 0-136 3 6 1 100 4 51 1-168 3-39 1 186 4-153 1 141 3-120 3 183 2-46 2-133 6-38 1 125 3 34 2-148 3 17 1 114 4-17 1-153 5 40 1 161 4-142 0 80 2-81 3 127 2-124 1 114 5-114 2 150 2-164 4 168 1-181 3 136 4-1 1-152 4-12 3 139 2 67 2-173 1 26 2 130 4-10 1-138 7 5 0 169 4-193 1 193 2-186 2 176 3-157 1 141 4 14 0-174 5 43 1 142 3-144 1 97 6 20 1-149 6 4 0 151 3 57 1-173 3 100 3-117 1 107 3-131 3 130 2-107 4 128 0-149 3 169 0-169 7 146 2-140 2 132 2-156 4 201 1-170 5 125 1-153 3 1 2 158 3 1 2-136 3 169 2-168 5-12 0 133 3 17 1-133 2-14 3 128 2-131 1 128 7 27 1-188 5 135 0-99 3 134 1-142 3 80 1-147 3-49 4-349 2 5 4 291 0-1 4 221 2-62 2 148 4 18 1-127 4 157 1-204 2 171 1-145 7 188 2-174 1 158 1-158 5 194 3-172 0 128 1-115 6 80 2-96 1-30 4 96 3-100 0 156 3 28 3-143 2-40 1 129 7 10 2-124 2-25 2 158 2-147 2 152 3-14 1-115 5-26 2 183 4-151 2 124 0 12 5-124 1 99 1-99 3 105 4-135 2 117 3-148 3 44 0 117 5-14 1-126 4-14 2 169 2-174 2 164 4 21 3-107 1-37 3 182 4-204 2 165 2-144 2 145 3-150 3 144 0-16 1-150 5 2 1 149 6 2 1-151 4 152 1-137 3-35 0 141 5 30 1-138 4 148 2-114 4 119 0-129 6 98 1-137 4 157 1-145 1 36 3 142 4-145 1 73 3 18 3-116 1 146 2-159 4 24 0 165 6-153 1 171 4-41 1-143 3 5 3 116 1-122 1 142 6 48 1-201 1 125 2-91 4-34 1 175 5-171 0 137 4 28 2-154 2-11 1 126 7-127 1 114 2-117 4 106 3-114 0 105 2-111 4 178 2-133 1 100 4 46 1-168 3 119 1-113 6 144 1-187 3 47 3 116 3 8 3-139 2 185 3-186 1 84 2-77 3 116 3-187 3 116 1-281 2 73 5 149 2 79 0-114 5 43 3 152 0-39 1-117 6 160 3-164 2 129 1-108 3-42 2 147 3-123 3 112 5-103 1 139 2-153 1 207 5-72 1-117 2-15 3 149 2-139 1 122 5-9 1-135 4 23 1 119 3 5 3-169 2 174 3-130 2 143 2-156 3 132 2-139 3 161 1-130 6 142 0-133 5 94 1-191 4 88 1 126 3-2 0-143 3 70 4-255 1-27 4-408 1 4 5 496 0-96 4 213 4-38 1 170 3-169 0 174 3 29 1-119 6-57 2 156 5-31 0-141 1 180 1-110 5 148 1-178 5 21 1 141 4-168 1 148 4 0 1-136 3 14 3 148 3-44 2-145 1 221 2-200 7 27 1 85 1-106 3 174 2-160 1 76 3 55 2-146 7 4 0 141 2-23 3-158 2 198 0-142 7 118 1-172 4 150 1-175 3 49 2 138 5 22 0-215 2 125 4-106 0 51 3-156 3 50 3 122 2-66 4 130 2-9 1-116 2 55 5-278 0-39 4-594 1 5 5 596 0-8 4 293 3 78 2-138 4 70 1 96 1-111 3 208 3-75 2-130 6-34 1 179 1-8 2-92 2 90 4-176 1 63 1 123 4-163 2 140 5-137 1 170 5-18 1-178 4 186 0-122 2 111 0-138 5 119 1-80 4-49 2 144 6-115 1 87 2-128 1 176 6 45 1-210 4 124 0-77 2 122 1-143 4 128 1-135 6 101 2-106 1 147 2-149 3 155 3-131 3-11 2 201 2-81 3-97 4 142 1-207 3 169 3-112 3-7 2 163 2-181 1 242 4-97 2-192 3 51 3 135 2-133 1 170 4-3 1-167 5 160 1-152 3 134 4-160 0 31 1 127 6 25 2-145 5 102 0-88 4 100 1-139 3 136 0-94 3-54 3 151 2-150 5 191 0-23 3-165 4 13 3 135 3 38 1-178 2 139 2-146 2 127 2-92 3 150 1-154 4 82 5-129 3 154 1-99 4-35 1 184 2-182 1 151 4-8 3-177 3 22 2 167 2-42 3-109 1 8 1 90 4-143 4 196 2-48 0-127 6 125 1-102 3 109 1-142 4-5 2 167 4-25 2-93 1 81 3-95 2 101 4-70 4 111 1-152 2 9 4 131 1 35 1-179 3 185 4-155 1 6 3 146 4-30 3-105 1 130 2-144 5 139 1-200 1 47 1 138 7-117 2 123 3-24 2-124 3 12 1 104 3-104 2 134 1-156 3 180 2-173 4 115 1-108 1 122 7-18 1-163 3 109 3-119 1 59 3-142 1-19 4 178 4-85 1 138 3-93 1 170 2 9 3-203 3 53 3 112 3 10 0-133 6 148 1-162 4 171 2-767 0-114 5-1296 0-30 5-444 0-30 5-445 1-116 4 127 0 11 5 171 0 10 5 170 0 9 5 175 0 10 5 174 0 6 5 174 1 47 4-163 0-13 5-204 0-11 5-206 0-12 4-170 1 40 5 196 0 13 5 194 0 15 5 193 0 12 5 195 0 16 5 260 0 19 5 276 0 34 5 257 1 52 4 247 0 33 4 330 1 1 4 315 2 28 4 164 0-92 5 154 2-19 2-174 3-3 0 164 5-127 1 127 3-143 2 128 2 3 5-160 2 130 2-119 5 134 0-121 3 110 0-91 3-55 1 224 6-203 1 140 3-105 1 150 4-177 1 161 4-2 0-137 4-6 0 108 7 65 2-145 2 118 3-143 1 175 2-158 4 134 1-155 3 177 3-171 3-22 4 148 2 15 2-161 1 23 3 152 3-115 2 110 4-135 2 99 2-143 2 163 3-113 3 167 2-43 4-173 0 175 5-114 1 180 3-206 2-12 3 152 2-157 4 153 0-118 4 164 1-24 3-172 3 23 1 143 6-180 1 211 4-143 2 92 1 8 1-172 4 158 3-137 2 82 2-77 4-3 2 183 1-41 4-153 2 18 2 123 5-101 2 138 1-157 3 93 4-135 2 163 1-145 2 168 5-25 1-144 1-34 2 216 4-51 2-109 3 26 1 122 4-80 4-692 0-103 5-830 0-55 1-181 4 122 3 95 2-23 5-62 0-6 5 544 0 37 4 533 1-1 4 571 4-43 0 139 3-140 4 150 0-173 0 130 7-39 2-202 3-10 2 127 2-38 3 113 3 30 1-146 3 66 3 186 3-159 2 124 3-29 1-127 2 14 1 114 8-115 0 178 3-7 1-191 4 130 2-116 5 137 0-185 3 169 2-120 2 114 3-95 1 115 5-141 1 155 3-155 1-3 4 147 1 20 3-141 4-59 1 151 2-101 4 105 3 11 2-138 2 181 1-148 4 143 2-157 3-5 2 192 3-183 4 135 0-130 1 157 4 4 1-219 7 252 1-243 3 158 0-104 6-19 0 136 4-145 3 165 0-134 4 104 1-26 3-103 3 137 1-139 5 182 2-135 3-16 1 103 2 11 2-135 6 176 0-193 3 18 3 135 1-26 3-114 5-31 2 178 0-182 4 167 2 31 3-159 4-19 1 153 3-121 1 89 2-109 0 121 5-102 3 134 4 58 2-167 4 62 1-76 4 7 1 122 3-22 0-143 6 225 1-190 2 20 2 131 3 31 2-225 2 68 4 112 1 58 2-208 5 195 0-185 5 112 2-94 1 90 3-95 5-26 0 194 4-190 2 167 2-203 1 197 6-173 2 93 1-67 4-423 0-27 3-565 2 8 5 688 0 48 5 259 0-106 4 254 2-160 3 109 1 20 3-97 3 114 1-164 3 31 4 136 2-178 3 172 2-15 3-113 1 148 4-160 4 113 1-123 4 20 2 167 4-66 0-111 3 14 1 156 4-188 1 144 3-134 2 156 5-146 1 134 4-161 2 194 2-4 3-173 4 226 0-232 4 115 0-136 3 171 2-127 2 109 1-149 5 28 3 122 3-130 1 148 2-125 2 128 3-94 2 166 3-206 3 123 5-119 1 137 3 58 3-190 2-3 0 140 4 26 2-181 4 121 1-114 2-17 1 192 5-176 3 120 3-1 2-119 2-30 3 152 1-135 2 153 5-146 1 141 2-14 4-109 4-35 1 131 2 14 4-108 0-30 2 191 7-32 1-190 2 12 1 128 2 47 0-143 7 166 3-163 1 116 2-113 2 106 1-159 5 193 2-167 2 148 4-188 3 169 1-123 3-16 1 114 4-76 4 129 0-153 3 111 4 26 2-124 5-3 1 121 1 68 4-194 0-26 4 163 3-137 2 154 2-141 3 155 2-5 2-130 3-57 2 167 3 43 2-173 5-46 1 142 2-115 1 197 5-63 2-119 2 133 3-105 2 104 2-107 5 144 1-169 5 192 1-173 3 118 2-122 4 117 0-125 1 38 3-160 3 15 4 180 0-102 3 121 2-76 3 81 2-96 5 146 1-137 2 129 5-174 2 169 1-137 3 149 3 11 2-131 2-38 2 181 4-37 0-191 4 52 3 171 5-6 1-145 0 135 1-119 5-22 1 100 3-107 2 106 4-116 3 136 2-122 3 96 2 20 3-112 3 148 1-160 5 4 0 141 4-151 1 190 4-161 2 113 1 22 4-160 4 152 1-139 2 105 2-116 4 97 1-102 4 117 3-156 2 89 3-229 0-27 4 177 2-34 4 199 0-190 3 234 3-162 3 93 4 44 1-120 1-30 4 174 5 19 1-156 3-20 1 188 3-19 1-192 3 37 3 123 4-148 0 149 5 60 1-208 1-4 3 162 3 39 1-187 4 160 2-133 3 2 2 115 3 41 2-166 5 119 1-186 2 62 3 155 4-174 0 84 6 14 0-97 3 89 2-114 2 128 2-115 5 108 1-127 5 124 1-100 2 135 2-146 4-35 1 151 1-152 2 132 6 9 1-111 4 85 0-95 2-4 3 124 4-112 3 140 1 68 1-248 3 57 2 138 4-130 3 103 2 20 0-118 4 117 4-137 2 7 2 161 4-47 1-112 6 4 1 123 3-113 1 158 3-29 2-151 2 165 2-154 2 100 2-154 4-1 3 171 5 33 0-160 3-36 0 126 3-108 5 154 1-189 1 194 3-148 1 140 5-5 1-167 4 174 2-133 6 128 1-158 2 218 1-196 2 11 3 133 2-134 1 142 5-100 1 132 6-7 1-184 2 45 2 149 3-28 0-139 5 152 3-142 4-30 1 195 2-203 0 141 6 30 1-196 5 33 1 174 3-193 3 166 1-160 3 202 2-36 1-125 4-13 0 145 6-130 0 130 6-178 0 141 5 50 1-174 4 36 2 145 1-176 3 172 4 38 0-219 3 36 1 107 6 48 1-185 3 180 2-154 3 7 2 110 3-120 2 135 4-127 1 121 1 28 2-190 5 141 2-106 3 0 3 140 2-19 1-149 3 123 3-199 1-50 5-471 0-69 3-506 2 1 4 625 1 53 5 398 3 183 1-180 2 56 4-278 1-33 3 144 1-55 3 226 2-76 3 154 3-96 3 123 4-75 0 117 4 22 2-116 2 146 1-171 6 179 1-130 1-50 2 154 3-8 4-112 1-11 3 152 6-164 1 180 2-178 2 157 5-195 0 172 2-26 0-115 4 11 3 161 3-41 3-130 4 104 1-149 2 77 3-166 1 9 5-292 1-122 4 217 0-18 4 212 1-36 3 144 2-56 2 232 3-176 2 147 3 32 3-133 3-2 0 119 6 64 2-244 3 251 2-182 3 7 1 84 2 42 3-122 2 138 1-182 6 183 1-178 3 147 2-169 4 161 1-133 4 180 2-131 2 72 2-98 2-7 3 150 5 33 0-200 3-60 2 216 4-141 2 154 3-28 1-109 3 10 2 100 3 59 1-198 6 51 0 108 2-172 2 126 4-101 2 179 4-178 2 105 4-6 1-117 1 190 5-186 1-6 1 169 3-47 2-100 6 14 1 122 2-29 3-98 3 124 2-102 2-115 1 234 4-171 3 158 1-20 4-145 3 186 2-154 1 78 3-97 3-31 2 164 2-13 2-111 6-9 1 124 1 55 2-155 6 132 2-193 3 11 1 179 2-10 2-157 2 32 3 108 3-130 3 128 3-113 1 80 5-112 1 144 5 7 0-152 4 146 0-127 4 130 0-180 4 201 3-212 3 69 3 122 0-34 1-116 4 146 1-120 7 141 2-153 3-19 1 186 2-22 3-88 1-69"/>
<path class="ln" stroke="#2ca02c" d="M1000 5317l2-171 3 122 2-132 4 42 1 93 6-110 2 75 1 72 1-153 3 124 3-131 4 97 1-119 4 106 1-117 3 153 0-159 7 115 1-119 1 175 2-125 4-38 2 167 3-126 0 135 4-152 0 144 5-154 0 143 9-107 0 123 3 23 1-177 3 36 4 95 2-123 1 123 5-111 1 105 3 37 0-143 5 85 1-97 4 68 1-72 4 123 3-146 0 131 4-124 4 137 1-131 2 157 3-152 4 20 1 83 2 15 0-110 6-63 3 237 2-162 1 129 6-19 0-150 1 49 1 101 5-13 2-101 3-27 1 141 4-114 3 120 3-121 1 109 3-139 0 126 6 42 1-142 4 105 1-104 2 129 2-106 6-12 1 127 3-127 2 108 3-97 1 97 3 6 1-73 4 74 2-116 5 91 1-119 5 141 1-128 3 139 1-135 4-7 1 130 2-110 3 132 1-124 3 122 3-21 1-99 4 13 3 72 1-87 2 119 3-163 3 158 2-109 4 74 4-84 2 112 1-24 1-136 3 159 1-148 6 162 0-134 4 11 1 86 3 20 5-105 1 3 2 89 4 44 3-118 1-36 3 137 2-2 1-128 4 7 1 125 3-46 3-85 3 9 1 104 3 7 3-102 3 91 1-124 4 121 4-136 3 172 1-195 1 41 1 129 6-97 3 88 3-16 1-119 2-13 1 94 4-68 2 84 4-104 2 92 3-127 3 135 2 40 0-112 6 108 0-109 4-10 3 142 4-153 1 138 2-147 0 155 5-27 2-105 5 22 0 116 2-135 3 105 3-87 1 141 4-136 2 135 2-135 2 112 6-11 1-120 1 8 3 123 2 0 2-93 4 74 2-107 2-4 2 126 3-108 0 107 4-126 1 156 6-151 2 128 3-116 1 119 2-20 4-112 1 27 1 97 4-105 1 108 4-125 2 109 6-141 2 148 3-45 1-56 3-5 1 139 4-141 1 123 2-129 0 120 7-13 0-122 4 98 1-143 5 69 2 99 1-107 2 77 3-84 4 108 2 35 0-144 6 121 2-116 1 98 3-113 4 179 0-211 4 26 2 112 3 30 2-121 2 144 3-123 3 2 3 107 1-112 3 54 2-60 3 98 6-132 0 128 3-135 1 135 5-123 2 126 1-11 3-83 4-18 1 159 3-158 1 84 4-90 1 110 2 28 2-152 4 118 2-122 3 124 3-107 3-14 0 132 5-110 2 145 2-46 0-113 5 122 3-100 3 75 2-119 3 173 0-162 3 135 3-123 4 163 1-124 2-48 3 132 3-16 3-85 3 80 1-100 4 20 2 94 4 18 1-82 2 91 3-144 1 118 3-103 3-12 1 120 7 8 0-114 2 107 1-102 3 91 1-126 6-5 2 133 5 6 1-125 1 9 2 106 2-95 3 94 3-94 1 106 6-107 0 104 2 20 4-111 1-12 3 119 2-104 0 58 5 18 4-90 4 2 0 127 2 45 2-173 5-17 1 101 3 20 0-118 5 15 3 104 2 58 3-159 3 94 2-86 4 117 1-134 3-43 3 164 0-154 1 135 5-99 1 113 6 26 1-132 4 102 1-102 3-19 2 114 3-105 1 98 5-111 1 187 4-70 1-135 3 53 2 124 2-157 1 139 5-141 1 127 2-10 5-111 1 119 2-118 4-35 0 141 3-111 3 128 3-152 0 167 6-54 1-79 4 116 1-151 3 48 3 126 3-164 0 149 4-17 1-90 6 0 1 127 4-142 1 124 1-100 2 64 6 30 2-127 2 185 1-174 4 113 1-122 4 129 2-150 4-17 0 173 4-145 2 116 3-129 1 137 2-2 4-92 4 131 1-148 1 19 3 94 4-28 1-107 3 19 2 132 5 5 1-122 2 145 2-171 2 143 5-118 1-11 1 110 4 49 1-180 5-11 2 124 3 29 1-123 2 0 2 123 4-101 1 68 5-65 3 129 4-48 1-124 1 114 4-76 2-24 3 106 2 1 2-101 4-8 0 103 2 9 5-103 0 142 0-174 6 29 1 110 4-9 4-97 1 148 4-181 1 133 4-114 2-16 1 142 4-19 0-88 4 5 2 85 4 67 1-175 6 160 1-162 4 15 1 140 3-132 1 85 3-63 1 92 4 19 2-158 2 165 1-141 3 17 1 153 4-68 3-128 3 14 1 148 4-115 0 98 7 3 1-131 2 15 2 125 3-25 3-139 1 15 1 113 6-123 1 102 2-69 3 89 4-138 2 167 3-44 2-91 3 118 2-123 3 112 1-113 4 124 2-119 2-19 2 125 4-123 0 134 6-34 1-84 2-33 4 130 2 45 2-138 5-8 1 130 2-33 1-113 2 32 5 166 2-180 1 120 4-105 2 115 3-124 2 149 1-146 1 138 6-46 1-117 3 42 3 112 4-116 2 107 2-135 1 111 2-110 3 105 3 23 1-131 4-17 0 136 6 44 2-128 2-47 1 173 5-146 2 127 2 18 1-141 4 108 1-124 3 147 4-117 3 41 0 111 6-39 1-114 2-14 4 126 3 6 2-138 2 139 1-142 3 110 3-84 1-43 1 141 5-159 0 175 5-35 0-108 5 21 0 76 5 15 3-93 3 113 1-147 4 28 1 91 4-95 2 105 3-24 0-61 3-13 4 140 1-38 2-125 6 127 1-93 2 72 1-104 5 29 2 141 4-198 2 171 3-123 1 98 4-132 1 137 1-102 0 90 5-120 3 114 2 26 1-108 4 80 3-100 3 33 3 95 3 29 1-152 2 125 3-110 2 13 0 111 5-13 3-133 3 157 1-131 4 128 3-106 5-34 1 138 1-129 0 91 5 19 3-127 1 14 2 185 5-208 0 167 6-124 1 172 3-49 0-142 5 134 1-139 3-4 4 130 3 12 1-147 3 138 1-168 5 25 1 133 1-118 1 134 5 21 1-149 3-14 4 145 2-147 0 124 4-105 1 115 6-124 1 124 3 4 3-115 4 81 2-59 3-23 1 113 3-155 1 178 3-173 1 152 5-142 1 183 3-80 1-78 4 78 0-80 7 92 0-116 4 92 1-88 5 24 1 131 1-45 2-85 5 84 3-92 3-25 1 107 2-114 1 120 4 29 4-146 0 159 2-137 6-15 1 116 1 44 1-141 5 152 1-178 5 165 2-115 2 101 1-158 5 146 2-114 4 25 2 102 1-25 4-97 0-8 3 133 3-164 2 158 4-113 3 97 1-99 3 113 4-96 1 140 2-52 1-107 3-3 4 121 4-5 1-115 4 126 0-110 4 12 3 96 2-2 3-131 2 170 0-160 7 131 1-140 2 17 0 89 7 8 1-97 2 90 1-101 6 4 1 109 1-124 2 138 4-149 2 119 1 42 2-150 6 28 1 86 3-115 2 131 4-8 0-101 4-20 0 118 5-151 1 148 2-20 2-98 4 93 1-90 3 15 2 65 4-93 3 144 5-132 0 92 2 40 1-125 3 23 1 174 6-194 3 119 1 9 3-132 4 114 1-119 3 28 1 103 5-14 1-104 5 13 0 95 4-122 1 150 1-15 2-107 5 109 0-127 5 36 1 134 3-191 3 172 1-167 2 155 5-120 2 113 1-158 3 173 6-151 1 104 1 16 3-116 4 109 1-162 4 166 0-92 3 110 1-138 4-7 2 118 4-92 1 111 5-38 2-65 3-21 0 123 4-114 2 102 3-4 0-91 5 104 2-126 1 23 3 123 2-140 1 149 6-135 1 126 6-38 0-143 3 62 1 119 4-33 0-125 4 138 2-117 2 129 4-126 2 104 1-83 7-20 1 134 1-14 1-99 3 89 3-90 5 163 0-158 2 79 5-98 0 148 2-176 5 181 2-187 5 32 0 115 3-119 1 99 5-97 0 140 5-137 2 102 1-109 0 95 4-124 1 155 8-150 0 116 2 6 2-143 2 43 4-154 2 3 2 164 4 38 0-98 6 11 2 170 1-53 2-82 3-77 1 149 6 17 2-84 2-31 1 143 4 8 3-131 1 126 0-103 7 131 2-142 3 33 1 101 3-32 1-109 2-1 0 118 6-137 2 142 2-115 1 95 5-108 2 114 6-6 1-113 0 14 2 113 6-18 2-107 1 126 2-110 2-34 4 131 1-92 2 96 6 3 1-144 3 144 1-113 4 114 2-129 4 108 1-108 2 5 2 141 4-137 0 127 3-37 2-76 4-26 2 136 4-131 2 119 2-90 1 86 3 12 4-122 4 9 1 145 5-25 0-110 3 103 2-109 1 137 2-142 4 173 3-143 2 112 3-122 3 129 0-153 4 30 1 127 6-22 0-125 3 121 2-110 6 74 1-118 1 21 0 132 4-136 2 112 7-124 0 120 3 1 2-127 1 7 2 139 3-32 1-98 7 136 0-134 2 118 3-105 6-15 1 106 3-84 1 92 2-125 1 126 4-119 2 120 3 0 0-83 6 111 0-130 5 0 0 116 3-99 4 105 3 0 1-152 2 163 4-120 1 107 1-139 5 5 3-256 1 31 5 228 0-47 3 131 4-69 1 84 3-95 3 152 4-14 1-169 2 34 0 88 7 44 0-121 3 144 0-148 6 82 1-130 2 34 4 126 3 3 2-112 3 117 3-88 2-31 2 104 1-111 2 154 5-139 1 105 4-7 1-103 4 14 2 79 4-1 0-118 2 42 1 117 7-149 0 91 2 21 2-104 4-2 2 130 6 7 0-123 3-34 2 124 3-86 1 122 5-155 1 136 5 25 0-159 2 18 1 118 5-94 0 89 4 78 2-149 3 91 1-127 5 84 1-83 5 14 2 105 2-124 2 102 2 12 3-131 4-2 1 108 2 30 2-130 5 105 0-80 2 80 5-97 0-20 3 94 3 52 2-169 5 158 0-125 3 165 3-190 1 9 2 141 3-131 3 130 4-134 1 132 3 31 2-149 2 92 0-109 7 7 1 162 5-170 1 107 3-6 3-94 2 15 2 77 1-63 4 89 5-129 0 166 2-143 0 165 5-43 1-130 3 114 1-66 6 87 3-192 2 178 2-101 3 83 3-125 2 34 1 110 2 2 2-116 3 97 4-89 2 98 2-112 4 11 1 147 4-15 2-135 3 9 2 149 2-27 1-115 4 1 0 72 5-89 1 101 4 26 3-119 4 109 0-90 3-33 2 134 4-107 2 124 2-9 4-108 0-18 5 113 0-105 4 114 1 4 2-124 4-3 0 123 6-148 2 126 3-2 0-113 6 7 1 87 3 22 1-102 6-20 0 99 4-91 1 120 2-126 1 86 6 13 1-126 1 125 3-111 5-4 1 113 2 11 3-102 1 96 5-102 0-33 1 148 5-13 3-100 3 131 3-138 0 16 1 84 6 30 2-117 3 128 0-125 3 113 5-95 3-32 1 144 5-5 0-144 1 133 4-114 2 123 3-115 2-21 0 153 4-157 2 111 6 21 1-116 4 121 1-101 3-17 1 120 4-130 1 206 4-217 1 129 5-16 1-85 2 9 1 137 5 9 2-169 3-11 1 130 5 69 0-139 3-73 1 117 4-89 2 185 3-59 1-133 3 191 4-160 3 134 1-105 4-41 2 127 1-18 4-119 3-5 1 160 2-56 3-114 4 110 0-110 4 16 1 118 3-107 1 102 5-10 1-128 4 0 1 130 3-126 3 109 2 8 2-117 4 4 1 103 7-115 0 108 1 13 4-157 3 156 0-118 5 95 3-87 1-10 1 150 4-165 3 122 2 19 4-128 2 105 0-59 4-50 1 120 4-143 1 178 3-23 3-100 2-17 5 119 2-122 1 109 4-5 1-94 3-4 0 149 6-29 0-96 4-38 2 151 4-104 0 104 6 1 1-135 3-11 1 117 4 16 2-118 3 5 0 135 6-165 0 126 2-98 4 128 1 0 4-123 5-17 1 146 2-132 3 87 1-94 3 140 3-138 3 151 2-30 1-130 3-23 1 207 3-49 1-105 5-7 2 96 2-77 2 114 4 11 4-124 1-13 4 169 0-156 3 87 2-86 4 86 1-104 5 125 3-29 2-84 0-23 0 110 6-27 4-87 1 130 2-151 3 32 3 89 1-2 2-93 4-4 1 115 4-98 1 129 6-47 1-93 2-1 2 122 2-4 4-114 2-11 1 106 6 43 2-127 1-17 3 164 3-154 1 105 3-104 0 120 7-145 1 154 2-49 3-128 1 37 3 144 3-43 3-90 4-3 1 85 3-98 2 116 1-26 4-77 1 16 4 91 2-125 1 185 3-180 4 185 2-80 1-87 7 81 1-89 1-4 2 99 3-2 3-146 2 174 3-125 1 118 3-144 4 6 2 111 1 0 4-108 1 2 4 98 4-112 1 103 2-83 2 102 2-106 2 109 3-105 4 114 3-7 2-90 1-14 4 107 3 42 3-156 2 28 0 113 5-143 2 140 1-159 2 129 6 4 0-98 3-18 1 103 4 34 1-136 3 133 3-103 5 105 0-125 3 7 1 126 5-28 1-115 6-1 1 134 1-123 3 133 3-15 0-140 6 11 1 193 1-59 1-96 7-10 2 101 3-108 1 141 2-123 2 101 4-95 3 129 1-151 2 120 3-119 2 94 4-17 2-67 2 7 1 78 4-81 0 98 4-143 4 156 3 13 0-119 3-24 4 143 1-212 1 188 4-33 4-88 2-12 3 85 1 16 3-104 3 15 2 95 2 8 0-114 7 17 0 122 4-146 2 160 2-123 4 101 4-1 1-94 2 72 2-114 2 157 3-128 4 116 1-161 3 20 2 125 2-11 2-90 6 98 1-115 3 118 2-114 2-1 3 121 1-126 3 124 2-128 4 163 1-37 4-84 5 97 1-138 0-15 4 201 5-66 0-104 1 112 4-122 1 7 2 108 4 13 3-116 2 102 1-92 5 16 1 115 5-184 1 153 3 1 0-111 3-32 3 132 3 42 3-144 3 100 1-113 5 102 2-106 0 16 1 109 7 4 1-156 3 151 1-127 2 119 3-112 3 124 3-101 4-8 1 92 5-139 0 193 3-167 1 124 4-31 2-91 5-6 0 114 3 0 2-113 1 26 2 169 3-49 5-164 1-30 3 183 2-54 0-87 6 3 1 124 2-140 2 112 7 14 1-102 2 8 2 88 2-25 3-82 3 137 3-150 1 129 1-109 4 169 3-151 1-13 3 147 2-163 4 186 2-191 4 120 1 3 3-113 5-12 1 125 1 3 3-99 3 90 1-95 5 118 1-115 4 6 2 109 1-111 3 75 1-84 3 123 4 2 1-114 3 103 4-127 1 173 4-198 0 45 3 132 3-160 3 110 4-113 1 153 1-110 2 85 5-115 0 149 4-122 3 112 2-107 3 102 3 13 0-156 6 11 2 131 1-129 2 125 5-102 0 117 3-152 2 150 5-147 1 107 5-129 1 186 2-17 1-99 2-41 4 150 3-17 3-122 1 136 2-141 4 31 2 107 1-140 4 124 2-103 3 138 3-46 2-105 3 154 1-150 3 20 1 105 3-2 4-122 2 127 3-125 4 6 0 119 4-114 3 123 1-12 3-68 1 54 3-98 2 140 4-140 3-16 1 142 4-168 1 171 4 32 0-169 5-2 1 121 3 39 2-174 4-2 1 129 4 43 0-142 6 109 1-124 2 127 0-122 8 102 1-130 1 24 2 114 2 3 3-104 2-23 4 96 1-80 1 97 5-87 1 145 6-20 1-127 2 26 3 90 3-142 1 125 6 49 0-187 1 22 3 151 4-37 3-96 3 119 1-131 1 110 1-128 4 154 3-144 6 136 1-113 3 126 1-150 3 29 2 86 1-11 4-109 1 9 4 100 4 29 2-126 1 140 3-138 3-37 1 170 3-38 1-111 5 6 2 139 2-139 1 116 5-132 2 135 1-112 4 174 3-39 1-117 5-3 1 122 2-13 4-117 2 93 2-118 2 125 1-125 5 158 1-146 2 25 2 167 3-172 2 130 4-21 2-122 2 31 2 104 3-112 1 112 4 3 4-108 5 83 1-141 3 31 1 111 4 19 1-111 3 2 1 128 5-14 0-123 4 113 0-99 5-60 1 139 4-84 1 106 4-185 3 128 2 23 1-98 3 103 1-118 4-19 4 146 3-114 0 94 2-68 4 80 2 43 3-139 1-21 3 110 2-132 1 177 5-22 4-135 1 174 1-165 5 94 2-96 1 159 4-104 3 114 2-179 3 11 2 144 3-160 1 142 3 2 2-127 5-12 1 153 4-35 1-95 3-1 2 113 4-12 1-106 1 136 2-134 3-11 2 121 5-37 3-96 3 40 2 91 4 18 1-114 1 112 2-91 5-16 0 117 3 0 1-127 4 100 1-101 3 4 4 83 5-73 0 119 3-127 1 114 3 6 1-140 6 167 0-158 3 111 1-133 3 24 3 97 4-123 2 137 2-127 2 141 2-9 3-120 5 29 0 105 3-123 3 137 2-128 2 98 5 0 0-111 3-37 2 133 3-103 1 132 3-43 3-84 2 123 2-153 4 27 2 94 4-109 2 111 2-107 1 132 4-170 3 149 2-157 1 168 4 12 2-120 3-9 2 133 3-15 1-121 4 119 1-101 3 5 2 80 6-17 1-81 2 14 4 107 0-121 4 97 2-75 2 121 3-158 2 160 5-131 1 146 2-117 3 114 4-147 1 95 2 12 2-121 4 8 1 161 2-50 2-96 3 126 2-132 5 137 2-135 3 140 1-142 5 166 0-155 4 114 1-126 6 84 1-84 0-36 3 171 4-14 1-115 4 99 2-144 1 160 1-152 5 11 1 118 5-114 0 92 6-111 1 101 3 15 1-119 6-9 0 148 5-20 1-118 0 115 5-122 3 92 2-80 4 110 1-131 1 12 1 140 4-140 3 115 1-89 1 82 5-113 2 135 3-24 0-76 6 80 0-113 5 7 1 107 3 32 0-96 5 80 2-144 4 53 1 108 4-88 1 87 4-104 1 83 3-66 3 84 3-107 2 136 4-14 1-135 3 17 2 95 3-6 2-112 3 25 2 117 3-121 1 104 3-19 3-85 1-27 1 154 5-30 0-116 6-15 1 153 6-183 0 203 1-107 1 99 5-103 4 79 0 1 4-86 1 72 1-113 6 167 2-164 4 143 1-115 2 95 2-100 4 117 1-126 6 105 0-158 2 30 1 144 3 26 2-154 5 133 1-148 3 17 1 115 4-116 0 114 8-103 1 100 3-101 1 127 4-42 0-67 6-19 1 99 2 25 1-114 2 124 3-148 3 15 3 130 3-141 1 86 6-113 1 139 0-5 1-122 4-2 4 141 3-114 2 114 1 5 1-118 6-21 2 139 3-9 1-132 4 11 2 150 4-21 1-121 1-14 4 153 2-13 3-121 3 5 2 84 4 4 0-111 3 97 1-71 3 3 3 89 4-79 1 80 2 29 0-115 6 74 1-54 4-6 2 89 5-112 1 111 4-98 0 96 6-113 1 125 3-24 1-118 3 131 3-109 2-10 2 106 1-89 3 125 5-148 0 126 3-145 3 181 1-156 1 94 7 17 1-117 2 107 3-117 2 93 2-119 5 35 1 118 3-3 1-128 2 124 1-112 4 138 4-110 3-15 1 112 3-103 3 83 2 8 1-82 3 101 2-141 6 143 0-135 2 151 2-181 6 143 1-102 3 129 1-120 5 79 0-91 2 1 4 142 1-23 3-118 4-1 2 134 2-125 3 124 1-133 4 125 5 60 0-202 3 26 2 114 3-7 1-95 2-49 3 167 2-7 4-118 3 146 0-172 6 17 2 90 0-120 4 124 1 16 2-104 4 89 0-165 4 215 2-161 5 17 1 110 2-126 4 135 4-8 1-132 2 23 2 104 4 18 2-103 1-34 4 110 2 22 2-123 4-13 3 109 1 14 3-118 1 126 2-116 4-25 2 153 2-31 1-106 7-5 1 131 2-149 4 124 3-17 1-78 4-13 1 124 2 0 3-122 1 120 2-106 4 100 2-131 3 174 1-130 4 87 1-124 6 30 1 130 3-38 0-97 3 140 3-146 4 9 0 114 3-127 2 155 7-140 0 87 3-75 1 104 2-136 4 105 1-68 1 142 4-188 2 146 5 17 1-119 4-19 2 102 1 2 0-118 6 27 2 131 4-50 1-105 3 133 3-116 4 61 1-69 3-22 2 127 3-120 2 128 2 39 3-148 3 108 2-92 5 120 0-137 1 101 2-92 5 123 2-141 3-5 1 117 2-26 5-72 0-28 4 122 2-92 2 128 3-208 2 218 4-26 1-113 4-3 2 125 3-111 2 92 2-7 1-96 4 107 3-118 1 109 3-91 5-23 2 131 0-111 2 99 5 30 1-145 3 33 3 100 4-136 1 131 2-137 2 132 4-6 3-116 1 103 1-64 3-22 1 112 5-36 3-110 2 6 1 129 6-116 0 99 3-134 1 153 4-9 3-132 1-12 4 107 3 23 1-94 3 6 2 104 3 9 2-122 3-19 1 139 4-116 0 86 7 47 1-135 5 4 0 134 1-140 3 148 3-36 3-106 1 116 3-114 6-54 1 135 1 35 3-129 1 153 2-139 4 5 3 97 3 19 1-155 4 141 2-139 1 29 5 84 0 50 4-108 2-53 3 156 2-36 1-97 4 79 2-79 5-42 1 168 4-21 1-115 1-23 1 153 6-128 1 94 4-63 0 89 7-177 0 106 2-82 3-187 1 49 4 202 3-17 3 89 4 28 0-129 3 112 0-118 3 120 4-128 2 95 4-140 0 26 5-160 0-9 4 172 1-32 3 90 6-50 1 130 0-136 2 131 5-131 0 113 5 25 2-126 2 164 1-120 6-4 2 100 0 34 1-121 7 66 1-102 1 7 3 115 3-134 2 110 3-13 2-87 3 89 3-201 2 34 3 118 1-52 2 126 5-92 2 122 3-31 1-104 3 3 1 102 6-119 1 158 1-38 0-120 8 136 1-125 4-10 1 128 1 4 1-123 6 109 2-105 1 27 1 132 5-42 1-115 6 90 1-85 3 73 2-72 4-23 0 139 4 10 2-142 3 137 2-137 5 166 1-151 2 115 1-108 5-3 0 85 3 66 2-162 2-6 2 139 3-133 2 92 5-106 1 164 5-160 0 151 4-162 2 128 3 22 1-162 2 177 0-137 5 94 4-83 2-32 4 120 0-91 1 103 8 1 0-126 4 6 0 175 3-192 1 120 3 38 3-108 4-39 2 129 4-144 2 109 1-8 4-171 0-54 3 132 3-28 2 124 4 17 3-119 1 25 4 134 2-14 1-126 2-3 4 149 2-40 3-106 2-20 2 125 5-116 1 108 1 25 2-149 5 37 2 138 1-6 2-132 3 86 3-120 5-13 1 148 2-119 4 103 3 18 1-108 2 117 2-128 4 106 2-113 1-33 4 156 2-145 0 153 5-125 2 149 4-145 0 106 6-25 0-104 4 1 1 133 4-102 1 100 3-132 1 122 6-105 0 126 2-109 2 106 6-34 0-95 3 115 1-95 3-61 3 165 5-142 2 106 1-109 3 111 2-114 1 130 4 19 3-143 2 133 3-134 1 37 2 72 4 0 1-92 5 135 2-124 3-18 1 114 4-143 1 139 2-6 4-110 4 167 1-149 1 0 4 134 3-145 0 109 4 21 3-116 2 115 3-121 3 99 2-143 1 138 2-84 4 107 2-125 3 5 2 136 2-115 2 126 6-28 2-102 2 139 3-153 3 144 1-175 2 16 3 175 2-137 3 88 1-5 4-82 3 104 1-131 4 134 1-110 4 91 2-99 2 126 1-130 6 109 1-110 1 13 3 100 2-130 3 147 2-15 5-118 1 86 2-80 3-25 1 123 6-33 0-75 4 0 1 71 4 52 2-145 3 170 1-143 3-26 1 131 4-25 3-87 1 13 2 76 3-105 2 118 4 17 1-129 6 15 1 119 2-126 1 131 7-141 0 125 4-117 2 132 3-110 1 76 2-91 0 136 7-170 2 149 4-94 0 82 1-92 1 107 4 13 5-129 4 27 1 95 2-22 2-93 3-24 1 156 3-1 2-173 4 51 0 119 7-24 1-104 1-30 1 120 4-103 4 89 0-109 3 132 5 16 1-110 1 18 3 85 4 10 2-113 4-15 1 113 4-114 1 101 4-61 0 99 3-3 2-112 5 81 1-88 2-35 2 115 4 13 0-138 4 22 4 129 0-131 1 116 4 7 4-114 1 103 2-99 3 17 1 155 4-39 2-146 3 31 4 121 3 6 3-126 3-27 2 100 2-103 2 134 3-149 1 130 2-127 4 113 2-82 2 110 5 5 1-143 3 141 0-123 5 14 3 153 3-180 1 149 2-21 1-88 6 104 0-80 3 68 2-88 3-44 1 141 5-8 3-98 1 87 2-97 2 135 2-110 5 107 1-147 4 160 3-148 1 7 2 82 5-82 1 77 4 21 1-100 1 3 4 126 3-14 1-132 4 32 1 95 5-149 2 160 3-2 1-126 2-3 3 114 4-28 1-82 3 129 1-149 5 138 1-92 2 82 2-78 3 83 2-130 5 104 0-108 3 131 2-102 2 82 4-90 1 75 2-74 5 134 1-175 2 174 2-123 3-4 3 111 3-4 3-98 4 120 1-155 5 58 1 101 1-129 2 117 6-120 1 145 3-139 2 135 1-49 2-103 4 12 1 86 3 7 2-77 4-13 3 111 1-1 3-136 4 131 0-107 4 115 2-134 1 25 3 104 4 23 2-125 1 85 4-89 2-27 2 149 3-41 2-118 4 128 2-99 1 119 0-92 7 82 1-93 4 97 2-147 1 15 1 131 7-133 1 121 4-118 1 139 2-124 0 152 5-36 1-103 5 170 0-186 5-4 1 115 4-110 2 128 1 13 4-134 1-9 3 113 3-125 1 154 4-27 3-103 3 25 3 96 0-5 2-146 4 141 3-110 5 110 1-90 3-25 0 165 4-144 2 125 1-29 3-112 2-16 3 133 4-13 1-120 3-19 2 132 3-11 3-106 1 148 1-168 4 21 2 112 5-10 2-105 1 118 4-109 2-47 0 163 5-117 1 93 5-106 1 160 2-161 1 88 5 81 2-151 4 114 1-158 5 123 1-85 4-10 2 130 1-133 3 106 3-110 1 157 6-137 0 127 4-23 1-112 1 30 2 95 4-115 1 96 3 21 1-118 6-46 2 136 4-87 1 154 3-29 3-114 3 98 1-124 3 148 3-106 0 53 2-71 3 102 4-133 1 115 5-117 3 141 0-116 3 78 2-81 3 102 3-88 4 153 1-184 4 6 1 165 1-148 1 145 5-35 3-92 2-14 0 91 4-109 2 139 5 28 2-149 4 142 1-169 1 147 1-136 4 136 1-110 6-14 1 108 4-99 1 138 2-38 2-100 5 108 2-131 2 128 0-158 5 164 3-137 3 20 1 115 3-13 3-121 3 17 1 92 4 21 0-107 5 121 1-137 6 117 0-135 1 155 2-143 4 166 1-192 6 148 1-143 1 170 2-124 3 98 2-99 5 157 2-191 4 5 2 140 4-138 0 104 1-94 2 106 4-13 2-90 5-22 0 162 4-139 2 112 1-13 1-126 6 25 0 115 5-2 0-137 4-10 3 159 4-10 1-120 1 132 4-133 2 82 2-117 4 158 1-123 2-9 3 112 6 18 0-115 3 15 1 102 5-28 1-103 3 4 1 121 2-110 2 133 5 6 3-158 3 0 1 140 4-111 1 97 3 4 2-151 2 155 4-92 2-32 1 151 3-33 2-112 3 11 0 97 6 40 1-139 6-5 0 114 3-135 1 113 4 88 0-172 6 9 2 103 1-116 0 110 5-104 3 119 3-35 3-99 1-35 2 165 3-18 2-121 3 14 2 121 4-14 1-100 3 113 3-145 1 131 3-113 2 29 3 99 4 0 2-104 2-3 2 95 3-11 1-90 3-6 1 138 5-129 2 95 3 11 2-99 2 80 4-96 2-12 3 119 1 8 5-118 2 5 1 137 5-148 0 89 3-82 1 101 4 64 3-197 1 135 2-119 5 92 2-90 3 121 0-123 4 0 4 131 0-110 2 133 3-137 2 113 3-129 3 126 2-85 3 115 6-125 0 99 4-115 0 121 3-12 3-87 2 109 3-157 1 36 2 113 3-143 2 125 6-145 1 138 1 1 2-111 4-12 3 93 2 18 1-100 3 157 3-158 4 28 1 85 2-94 5 114 2 42 3-138 0 124 3-164 3 7 3 118 3 20 0-145 7 120 1-153 4 200 0-162 2 212 1-201 3 79 4-92 5-8 0 131 1-44 4-108 1 41 3 91 4 23 0-123 5 105 2-104 2 164 4-124 1 73 1-106 4 105 0-99 7-5 1 137 4-144 1 159 3-24 1-133 3-8 1 153 4-161 1 191 5-53 1-151 3 156 2-111 2 113 2-132 3 107 2-109 5 12 1 134 4-159 2 134 1 13 3-136 3 115 2-109 3 9 2 125 2 9 1-150 7 12 1 80 3 0 3-90 0-17 5-504 0-72 4-944 2-6 4 772 0 52 4 592 1 9 5 180 1 30 4-90 3 34 1 87 2-22 0-102 5 84 3-152 1 55 3-212 2 25 4 204 2-25 3 94 1 54 2-110 4 117 4-103 0 87 2-109 3 38 1 57 4 37 4-128 3 116 3-99 0-13 2 118 4 10 3-114 3-21 1 152 2-16 3-148 2 21 2 101 4 19 4-141 3 4 0 108 3 32 3-115 3 6 1 81 3 31 2-131 5 133 0-181 2 37 3 113 5-92 1 135 2-125 3 138 4-41 0-114 2 103 2-99 4-9 2 89 2-127 0 141 5-81 5 119 2-156 1 129 4 22 0-120 4 132 3-147 3-11 2 107 3 18 3-142 0 25 4 141 1-178 5 175 1-4 4-108 0-13 4 114 1-8 4-93 3-20 0 101 4-139 2 139 4-15 2-93 4 24 1 78 3 5 0-113 3 0 3 147 6-51 0-97 1 109 5-105 3 34 1 91 3-169 2 171 3-113 2 94 1 40 0-163 7 2 2 125 2 5 2-128 2 132 5-116 2-14 1 156 4-12 1-121 6 73 1-75 0 98 1-97 7 118 1-105 3-6 0 100 5 35 0-133 4 8 1 98 4 16 4-140 1-5 3 134 4-114 1 92 5-6 1-110 0 108 3-117 2 123 2-103 6 141 0-124 4 117 2-119 2 45 2-81 3 140 1-147 3 30 4 111 3-1 2-164 3 141 3-110 3 21 2 133 2-46 2-92 2-46 3 134 5-149 0 110 1-49 4-222 2 81 4 169 3 85 1-106 3-47 1 153 3 26 2-144 3-19 4 168 2-52 1-112 2 138 1-159 8 48 1 94 3-24 1-84 3 4 1 76 5 49 1-101 1 95 5-129 0 136 3-162 4 15 1 138 4-115 3 132 2-49 0-123 6 129 1-116 1 29 5 86 1 31 3-98 1-24 2 80 3 49 2-119 4 90 3-106 4 163 1-152 1-12 2 159 6 7 1-128 2-19 2 154 2-30 4-106 2-10 0 96 7-92 1 124 2-32 2-92 4 6 1 84 3 9 3-122 3 109 1-100 4-4 1 122 2 21 3-161 4 152 1-166 5 168 0-145 2 136 4-122 2 130 1-128 3-6 1 105 5 1 2-173 3 29 1 122 5-99 0 151 5-36 2-113 4 115 2-82 2 128 0-138 5-10 2 111 2 24 3-108 2 112 0-140 6 3 0 151 6-157 1 107 3-2 2-120 2-12 4 147 1-11 4-134 1 45 1 162 4-55 1-122 4 133 0-124 4 122 1-124 6-28 0 150 5 4 2-93 4-28 1 125 5-125 0 141 3-29 0-140 5 154 2-119 4 93 1-137 3 157 2-106 1 71 2-96 4 1 1 139 4-154 3 160 3-31 0-100 6-3 1 126 2-119 3 117 1-23 1-117 6 11 2 128 1-7 2-131 3 99 4-91 2 7 3 83 2-90 3 83 1 39 4-128 3 78 0-115 3 158 2-122 3 143 1-121 7 86 1-107 2-15 3 118 5 17 0-142 4 113 2-121 2 0 1 132 2-169 5 155 4-96 1 96 2 9 0-111 3-3 3 147 2-3 2-156 6 11 0 90 4-66 1 98 3 2 2-125 4 126 0-95 3-31 3 147 2-8 2-126 4 152 2-175 2 113 4-111 2 175 3-194 4 195 1-173 2 35 0 109 4 15 2-118 5 138 1-148 2-8 5 147 1-126 0 125 4-155 2 97 4-76 1 127 3-156 3 150 3-17 1-121 4-10 1 118 4-86 0 113 5-42 1-72 3 129 3-148 4-11 0 169 6-151 1 112 1 50 1-149 4 75 1-117 8 96 1-94 3 153 1-119 3 145 2-139 2-35 1 138 3-127 4 137 1-123 2 90 5 28 1-116 3 150 1-173 6 24 2 116 4 27 1-167 0-3 2 149 5-149 1 113 4-106 1 109 6 44 0-109 1 64 2-94 4-12 1 87 3 77 2-201 7 105 1-100 1 29 3 133 4-141 0 144 3-126 1 91 6-94 2 109 2 10 2-153 2 18 2 154 4-165 1 115 2-90 5 100 1 1 2-118 3 122 0-130 6 16 2 134 5-131 0 126 1-122 0 125 5-84 4 83 2-16 2-129 2 173 2-175 3 8 1 140 7-139 0 117 4-116 1 122 5 1 1-106 3 0 3 100 2-93 1 109 2-121 1 113 4 21 3-153 5 139 2-92 3-4 1 104 1 11 2-95 5-34 2 147 3-5 0-183 5 46 2 124 2 28 3-156 1 5 3 104 3 1 3-128 1 10 0 169 5-79 1-70 6-18 2 119 3-90 1 94 2-11 3-85 2 125 0-137 6-16 2 148 2-126 4 167 5-56 0-101 4 93 2-100 1-25 1 119 3-30 4-100 1 30 3 104 5-135 1 165 5-162 1 168 2-153 0 121 4-154 0 143 5 3 1-120 4 4 3 111 3-125 1 152 5-13 1-103 4 139 0-139 3-26 3 99 3-87 0 113 5-102 2 106 1 2 1-134 4 132 2-106 3-40 2 190 5-77 1-118 4 184 2-168 1-4 3 104 3 12 3-124 1 108 2-79 7 91 1-124 0 105 1-70 8 111 1-124 3 104 0-124 3 127 3-124 4 17 1 106 3 47 1-143 2 9 3 111 3-116 0 82 6 14 1-120 4 120 2-113 2 80 2-108 2 153 4-132 3-22 2 142 2-6 1-108 3 109 1-103 4 91 2-87 4 99 0-101 4 80 1-92 6 91 1-96 2 119 4-89 2 114 1-104 3-21 4 89 2-90 2 84 4 57 2-156 1 142 3-127 4 124 3-119 1 3 0 99 5 29 4-116 0-3 5 138 1-31 4-104 1-17 2 93 2-105 1 108 4-113 2 139 5-21 2-147 3 17 1 98 5-82 1 100 5-104 0 150 1-31 5-120 2 14 2 104 4 78 2-201 2 42 2 87 2 16 1-102 4 117 2-138 3 19 1 124 3-58 4-80 3 120 2-123 5 111 0-151 2 139 2-87 6 125 1-106 1 86 1-111 5-7 1 108 4 10 2-110 3 112 0-122 4 2 0 84 7-117 1 145 2-139 2 146 5-88 2 119 2-193 2 125 4-91 1 123 2-139 2 133 5-126 1 134 3 6 2-114 3 19 0 120 5 7 2-154 3 127 1-128 5-17 1 188 2-35 1-139 4-27 2 153 4-20 2-69 1-26 3 141 2-119 0 97 5 2 3-118 5 95 1-79 3-21 1 155 4-24 1-126 3 119 3-132 3 120 2-103 1 108 1-119 4 106 0-126 5 39 4 89 3-116 3 113 2-21 0-108 4 3 2 156 5-169 2 106 1-91 1 139 7-131 0 117 1-121 1 115 4-114 4 114 1-94 0 135 6-140 1 138 6-119 1 144 5-6 0-155 5-8 1 132 2-11 1-128 2 163 3-134 3 95 1-115 6-14 1 126 2-111 3 126 4-44 0-72 4 109 1-129 3 27 2 123 2-31 4-144 2 140 1-112 4 14 2 70 5-64 1 128 3-47 1-96 2 14 1 87 4 27 2-117 7-34 1 122 2 4 2-124 1 126 2-139 6 12 1 109 3-81 2 78 1 31 2-131 4 19 4 133 1-127 1 105 4 2 2-116 3 129 2-109 4-23 3 170 2-53 2-93 4 115 1-133 3-3 3 154 1-157 1 115 6-114 0 120 3 65 2-179 4-8 0 110 3 22 2-140 3 34 2 101 4 30 2-161 2 3 2 107 4-94 1 92 3-3 4-102 1 145 2-132 3 106 1-89 5-30 3 122 3-7 2-110 2 174 2-172 4-9 2 119 2-107 2 117 5 5 1-104 3 151 2-158 5 24 0 91 1-15 4-112 1 120 2-106 4-17 3 137 3-126 1 131 4-7 2-125 2 108 2-114 3-11 2 140 3-6 1-91 5-26 1 85 3-116 3 154 1-141 5 117 2 4 2-113 2 133 3-108 3 79 0-90 5 124 1-168 2 47 4 73 2-4 4-114 4 142 1-109 0 99 3-134 2 19 4 143 2-148 0 101 4 40 3-168 2 24 2 112 4-110 1 135 3-13 3-130 4 131 3-102 0-12 2 112 5-120 3 155 0-132 3 97 3-100 4 147 2-54 1-111 4 46 1 90 2-17 2-79 3-35 4 189 3-57 2-101 1-27 1 150 7-139 1 90 2-102 2 104 2 8 3-143 6 27 1 118 1-115 1 110 4-2 1-102 6-35 1 134 1-91 3 144 2 8 1-140 8-29 1 124 2-100 1 112 3-110 2 94 2-32 5-102 2 215 2-188 2 103 4-118 1 140 4-132 3 15 1 87 2 27 1-136 6 102 1-127 4 164 0-148 2 2 2 128 5-101 1 113 5-14 1-139 1 19 2 91 3-94 3 156 2-7 2-133 7 6 0 106 3-11 2-102 3 9 1 115 3-98 1 130 3 20 5-145 2 106 3-113 3 104 0-79 6 110 0-120 3 1 0 91 6-117 1 102 2-8 3-100 4 3 1 94 1-136 2 157 4-121 4 102 0-90 1 87 7-88 1 90 2 9 3-121 2 90 1-134 4 38 3 127 2-33 4-105 0 17 3 107 2-4 2-102 5-8 2 104 2 6 1-92 6-29 0 130 2-42 2-101 5 126 2-132 3 188 2-165 3 136 2-130 2 113 4-142 1 14 2 133 3-110 3 125 2-132 1 107 5 18 0-104 4 146 0-162 6-30 3 188 3-156 2 80 0-111 3 169 3-190 2 153 3-96 3 105 4-115 2 114 1-110 2 88 4-93 0 106 4-103 3 67 3-92 1 132 4-130 2 140 2-39 4-93 0 18 4 97 1-147 5 154 1 10 4-133 0 26 5 127 1-155 3 143 2-150 2 94 5 35 0-115 3 137 2-135 2 123 3-150 3 149 3-100 1 109 3-119 2 122 5-120 0 127 3-109 2 105 2-115 4 133 1-122 4 147 2-153 4 150 2-169 4 154 2-80 3 70 1-116 2-12 3 107 1-108 3 103 3 9 3-106 1 103 3-110 2-11 1 137 6-114 2 113 2-22 3-95 4 31 1 70 2-102 4 105 3 28 1-134 3 85 0-69 5 91 1-105 3 140 3-164 1 117 3-100 5-3 1 88 2-67 1 123 3-35 2-96 3 84 1-76 6-55 1 176 5-115 1 94 2-14 3-117 4 178 0-163 3 9 2 72 4 17 0-166 4 180 1-137 7 6 1 117 0 44 0-159 8 114 0-105 3 147 3-144 2 101 1-98 6-7 1 94 3 3 3-89 1 84 3-101 1 0 0 105 6 15 0-111 6 1 1 113 3-105 3 127 2-119 3 88 1-75 4 130 5-74 1-117 1 37 3 94 2-6 3-98 4-6 1 109 2-12 2-106 5 89 1-70 2-25 3 110 3-28 2-77 5 115 1-134 2 154 1-117 4 193 2-226 2 201 1-166 4 90 4-72 1 81 1-114 3 25 2 142 7-32 0-110 4-17 0 109 2 6 1-106 5-35 2 150 4 5 1-149 4 17 2 118 2-106 0 106 6-98 1 111 4-129 1 115 2-12 4-93 3-35 1 146 2-125 1 130 4-146 2 160 4-51 2-94 4-4 1 113 6-122 1 169 2-44 3-118 1 31 1 116 4-57 1-85 3 121 1-136 5 101 1-87 6 19 2 143 3-186 1 180 3-16 3-137 1 156 1-149 4 105 0-111 5 98 1-87 5 138 1-124 2-25 5 94 3-70 1 104 4-123 1 109 3 47 1-138 3-15 1 101 7 50 0-147 2 36 2 171 5-172 2 106 1 14 3-143 3 149 2-162 3 129 0-106 3 105 5-170 2 166 1-128 3 194 2-190 4 118 1-133 4 125 1-105 3 13 2 117 3-16 2-137 3 113 2-113 4 39 2 106 1-21 1-93 6 152 0-171 4 113 4-104 4 112 1-114 1 16 4 112 0-144 2 129 3 23 4-113 4 107 2-137 2 130 1-117 5-2 1 104 2 13 2-139 4 127 1-117 2 164 1-180 7 18 1 165 4-185 1 137 1-128 2 149 7-36 1-106 1-9 2 109 4-100 2 116 3 31 2-136 2-14 2 136 3-162 3 138 3-125 3 140 3-38 1-69 3-14 0 141 3-174 1 127 5-112 1 139 4 12 1-134 6 18 0 112 2 7 2-116 5 7 2 120 2-155 1 106 4-24 4-85 2-3 2 130 4-139 1 97 4-109 1 139 4-143 0 112 4-90 2 138 4-31 1-110 2-7 0 111 5 4 2-88 2 105 1-88 6 58 1-104 3 19 2 106 4-89 2 118 1-122 4 83 1 21 4-78 3 86 0-82 7-23 0 140 1-33 0-132 5 152 1-139 6-35 2 123 1-69 1 82 7 54 0-146 4-24 2 113 3-10 0-76 5 106 2-104 3-10 1 92 4 102 2-199 2 27 3 94 1-113 4 100 3-82 1 125 5-143 1 161 3-156 2 127 3-109 2 92 2 6 1-146 3 178 4-186 1 173 4-143 2 21 1 100 4-98 1 108 6-126 1 138 1-137 2 119 5-154 2 146 4-95 1 90 5-134 0 102 1 9 2-95 4 119 2-89 5-19 1 104 1 12 3-119 3 141 4-171 0 111 2-72 3 107 5-135 4 139 0-118 3 1 0 116 7-13 0-94 1 80 1-87 5-36 0 138 4 16 1-120 8-31 1 148 2-10 1-121 3 1 2 133 3 28 2-168 5 96 1-101 2 15 3 125 1 13 3-155 3 119 1-144 3 178 4-119 1 4 2 110 6-144 1 106 1-1 3-97 2-41 3 165 2-150 4 130 2-80 2 86 4-111 0 150 3-138 3 133 3-117 2 69 4 75 1-132 4 61 2-139 1 172 2-109 4 97 2-112 4 114 2-110 4 15 1 111 5-134 0 96 1-58 1 81 5-138 1 133 4-120 0 122 4-1 3-97 2 82 1-74 7 84 1-115 2 95 1-108 7 2 1 140 2-8 1-123 5 9 0 135 4-21 2-106 4-11 1 143 2-141 3 131 2-123 0 102 7-13 1-123 1 143 2-103 3-28 3 108 5-68 0 105 4-108 2 102 3 63 1-162 2 85 2-93 5 138 2-146 2 33 2 74 4-111 2 123 3-102 3 131 1-4 4-137 3 128 1-122 2-31 1 136 3 6 4-105 1-35 2 121 6-137 1 143 2-137 2 121 3 13 4-100 3-14 2 122 1-141 3 124 2-34 4-84 2 112 1-108 4 149 2-168 3 8 0 128 4-112 1 115 3 18 3-112 6-19 1 125 0 13 2-100 4 119 1-161 5 13 1 138 2-44 3-111 3 116 1-103 7 161 1-157 1-1 1 184 3-49 2-149 5 142 0-130 3 108 0-81 5-79 2 161 6 34 0-148 2 9 2 122 4-30 3-106 4-5 2 142 4-49 0-74 3 10 1 98 2-8 3-117 3 35 3 68 3 30 1-128 3 8 0 90 6-118 0 154 4 12 1-140 6 19 0 76 2-94 4 174 1-42 3-106 2 89 4-147 4 14 1 113 3-112 1 143 3-8 2-138 4 119 0-87 5 72 3-89 2-3 3 148 2-170 0 150 6-119 1 72 1 23 2-92 5-12 1 120 3-138 2 94 3 40 3-134 2-21 0 179 5-24 3-112 3 101 1-118 5 93 1-85 4 9 0 127 4-125 3 108 2 34 2-158 3 130 1-124 2 120 2-99 5 87 0-121 6 11 2 114 2 21 0-126 6 98 2-90 2-20 1 123 3-121 3 112 2-88 1 105 3-109 3 182 4-38 2-153 4 137 2-171 3 35 1 124 2-118 2 103 3-8 4-73 2-16 1 94 2-126 4 125 2-5 0-128 7 143 1-109 3-15 2 135 2-27 0-96 5 139 1-146 4 151 0-114 5-10 2 136 4-135 3 132 1-60 2-103 6 8 1 118 1-135 0 139 6-109 2 126 5-136 1 108 0 54 0-205 5 125 4-68 1 123 2-160 3 104 1-109 5 167 1-174 4 163 2-131 2 130 1-155 4 189 1-196 6 177 2-129 2 98 1-124 3 15 2 149 4-19 2-137 4 113 1-93 4 2 2 70 1-92 1 104 4-107 5 135 3-134 1 112 2-120 3 107 2-93 3 114 1-124 1 164 6-20 1-138 2 1 3 150 2-151 4 123 1 58 2-175 5-43 1 176 3-53 0-79 5-15 2 111 2 5 1-97 6-23 2 111 3 51 2-138 1-9 2 140 7-154 0 106 5 13 0-115 2 17 3 71 4-90 1 96 3 34 0-121 3 4 1 113 6-104 2 129 3-137 0 101 3-101 3 139 4-13 2-155 4 138 1-100 1 57 1-71 7 145 0-142 5-21 2 155 1-27 3-106 3-36 1 81 3 41 2-76 5-45 1 112 2-95 2 106 2 35 4-159 4 17 0 84 3-67 0 92 6-79 1 100 5-2 1-111 3-3 2 89 1-112 2 111 7 26 1-111 2 18 0 83 3-102 3 139 3-170 3 96 4-75 1 75 3 24 2-93 1 94 3-93 3 125 0-145 4 119 1-86 5 19 3 132 2-49 3-122 2 162 3-154 5 91 0-101 4-5 1 109 2-69 0 83 5-139 2 156 2-111 4 101 3-10 1-107 3-8 3 127 1 13 4-149 3 122 2-92 1-19 3 148 5 55 1-192 4-25 0 138 6-20 1-100 2 107 1-117 2 168 3-144 3 97 1-121 5 132 0-112 4 129 1-146 3 125 3-122 2-20 1 138 5-90 1 127 5-32 0-128 5 26 3 101 2 17 0-121 3 124 1-129 4-13 4 100 4 39 1-116 2 108 1-126 3 13 4 99 3 8 1-108 4 22 1 102 3 5 2-148 4-6 1 114 5-4 1-87 5 171 0-192 1 181 5-177 0 21 3 117 4-6 1-94 4 68 1-76 2 100 2-115 4-34 1 155 4-150 3 149 3-111 0 96 6-117 1 130 2-120 0 93 5-102 2 133 4-149 2 109 2 29 4-108 1-23 1 119 4-125 2 114 5 21 1-88 1 68 3-112 3 13 1 142 5-150 1 148 3-11 1-115 4 128 2-173 5 151 0-113 4 112 1-109 3 146 4-162 2-3 2 114 3 20 1-101 2 64 4-91 1 122 4-108 2 135 4-138 0 16 3 64 2-90 3 128 6-10 1-110 1 18 3 89 4-90 1 114 2-8 1-144 3 135 4-113 1 103 3-127 3 29 1 82 4 27 1-121 3-1 4 133 3 38 1-147 6 3 1 118 2-122 1 107 3-127 2 147 3-32 1-107 6 11 1 92 2 2 3-113 2 119 1-94 7 90 0-95 2 125 0-128 6 98 1-108 5-6 1 128 2 6 2-97 4 111 2-112 2 111 2-110 3-10 2 152 4-65 2-135 2 150 4-144 1 124 0-106 6 12 2 114 1-131 1 108 7-133 2 102 1-90 3 75 1 27 1-91 7-18 1 145 2-136 1 154 3-127 1 100 4-142 4 138 2 3 2-119 2 89 1-102 5 21 2 100 3 1 2-94 3 82 2-126 5 146 2-125 0 126 2-136 4 19 2 115 2-8 2-91 4 1 0 78 4 18 1-104 7 94 1-143 1 23 5 113 1-132 1 119 3-88 1 94 5 13 2-104 2 9 1 104 7-27 0-84 4 159 1-146 4 149 1-132 2-14 3 136 3-150 4 81 1 26 1-103 6-17 0 123 3 25 2-161 2 175 3-135 6 87 1-119 3 140 1-130 2 9 1 131 5-121 1 96 2-92 4 96 1 10 1-139 5-8 0 96 5-56 0 112 6-31 0-100 5 22 1 88 3-10 2-89 4 9 0 112 4-106 3 134 3-38 0-121 5 17 2 113 4-119 2 131 2-114 1 116 6 8 0-149 3 20 2 117 2-17 1-113 4 165 1-163 5 6 2 102 5 22 0-151 2 135 3-106 3 80 3-129 2 101 1-113 3 10 4-272 1-68 4 215 0 1 4 215 2-105 2 179 3-119 2 132 3-122 1 150 4-135 3 75 3-70 0 95 3 19 3-130 5-10 0 117 2 10 4-125 3 98 2-69 2-21 1 134 5-8 2-111 1-49 4 146 3-9 0-104 7 82 0-111 2 96 3-157 1-38 5 181 4-67 0 110 5 29 0-121 2 118 3-138 2 153 3-140 5 0 0 146 1-8 1-132 7-15 1 160 1-26 2-81 5-44 2 132 1 9 1-139 5 95 0-72 4-64 1 151 6-139 1 118 3-101 1 105 6-108 0 131 2-133 3 108 5 23 1-110 3-8 2 112 2-4 1-116 6 97 1-111 1 150 3-162 5 130 1-125 4 42 1 65 2 20 2-88 3-22 1 108 4-4 1-93 5 6 1 100 3-123 3 117 3-6 0-93 3-54 4 141 3-90 1 86 4 44 1-138 3 6 3 99 3-109 2 94 3 0 2-76 3 101 0-113 5-41 0 174 3-143 2 149 3-115 2 109 5-143 2 105 2 7 2-128 4 115 2-106 1-24 4 131 4-106 1 121 5-104 1 112 2-136 1 101 5 6 1-73 4-21 1 137 4-148 0 129 3-105 2 102 4 10 1-120 5 102 1-127 1 33 4 116 1-31 2-79 7-5 1 115 1-106 1 78 5 5 3-110 2-13 3 101 1-90 1 141 5-119 1 84 5 27 1-134 2 153 1-122 6 128 1-146 2 144 3-150 4 42 1 90 3-102 1 120 3 23 2-147 2 160 2-121 3-49 4 97 5-87 0 87 4-80 1 81 3-123 3 160 3-118 1 114 3-147 1 103 4 11 1-115 4 138 2-128 3-5 1 122 6 24 1-143 0 25 3 77 4-10 1-92 4-10 1 113 2 16 2-130 4-18 1 134 3-125 1 146 4-125 4 83 3 29 1-128 2 134 0-118 8 111 1-131 3 17 1 164 3-49 0-126 7 153 2-114 1-16 3 97 4-85 1 125 2-11 3-125 2 6 0 125 5-117 1 106 3-121 3 110 5-121 1 108 5 29 0-147 2 34 3 139 2-160 4 100 0 21 2-147 4 19 3 128 1-129 4 142 2-46 1-96 6 122 0-121 2 136 3-122 3 98 2-103 5 2 0 112 6 45 1-157 1-17 2 128 3-7 0-100 4 105 5-136 1 25 1 166 4-189 3 141 4-30 1-73 2 54 4-75 2 106 0-130 5 101 3-89 1 117 0-124 4 116 3-99 3-34 0 143 7-89 1 135 4-37 1-132 2 101 3-93 2 92 1-92 5 99 2-85 1-36 3 135 3-82 2 113 4-9 2-88 1 84 3-106 2 18 2 94 4-126 1 153 3-143 2 98 3 47 2-130 3-21 4 128 2-123 2 150 2-143 2 118 4-118 2 101 2-104 2 107 3 68 2-177 5 106 2-103 1-4 4 105 5-110 1 128 4-25 0-109 1 120 2-102 6-27 2 129 3 31 0-114 4 127 2-167 2 1 3 107 1-4 4-104 3-9 1 115 4 27 3-118 1 122 3-154 4 10 1 122 1-113 3 98 4-130 1 169 3-22 3-119 4 99 1-95 2 157 3-163 1 5 3 115 4-5 2-90 3-16 1 85 2-83 3 95 6-116 0 141 3-36 1-117 5 28 1 158 2-170 0 112 7 15 1-86 3 96 2-109 1 91 2-96 4-23 2 170 3-165 0 186 6-49 2-177 4 38 1 150 2-10 3-116 3 128 2-118 1-16 1 111 6 37 2-131 1 69 2-64 6 91 0-123 3-19 1 164 4-133 2 82 2 26 3-106 2 138 3-150 4 195 2-180 2-8 2 105 4-7 1-112 2 135 3-107 2 116 5-111 1 121 2-116 3-17 1 142 6 46 1-184 4-10 1 153 3-17 2-138 3 111 0-127 3-6 2 94 4 46 1-137 4 32 1 99 7-108 0 90 2 4 2-111 4-18 1 106 4 37 0-164 5 142 2-100 1-12 3 146 4-123 2 81 1-83 1 114 4 1 3-105 5-22 0 108 2-103 2 113 3-4 3-98 3 114 0-107 6-2 2 76 3 52 3-127 2 9 1 120 2-56 4-89 4 131 1-128 3 114 2-102 1-12 2 119 7 22 1-133 1 133 2-131 5-7 1 180 3-54 1-143 5 163 2-123 0 0 4 102 1 18 4-113 2 118 4-120 2-51 1 151 2-12 4-127 3-21 0 191 5-58 2-85 2-25 3 122 2 7 1-95 3-3 2 124 4 27 2-158 3 9 1 114 5-134 1 157 3-172 4 133 1-100 4 92 4-113 0 117 1-103 1 124 4-146 3 131 3-92 0 127 8-9 0-115 3 75 1-121 2 106 1-67 4 132 3-179 4 242 2-212 3 8 1 106 3-3 2-101 5 29 0 75 5 3 1-119 1-17 3 150 3-47 3-92 5-30 1 120 1-93 2 75 4-83 2 93 3-8 2-72 4 141 1-131 4-25 1 144 3-111 0 116 7-9 1-161 1 165 2-142 3-3 3 118 2-93 2 120 2-135 3 103 4-116 1 154 3-159 2 147 3-140 0 86 6-78 1 114 2-4 1-107 6 0 0 135 3-3 0-143 5-2 3 119 4 3 2-120 3-6 2 147 2-129 2 128 4-91 1 73 4-105 2 107 3-94 2 103 4 26 2-117 0 1 5 133 3-164 2 120 0 10 2-111 4-7 3 129 4-126 1 138 3-17 0-117 4 2 4 136 3-79 1-93 3 121 0-119 6 176 1-187 2 6 4 162 0 22 4-125 2-63 1 142 3 14 3-153 4 149 3-129 0 23 3 85 3-30 4-102 1 122 0-97 4-34 4 127 1 44 3-115 2 112 2-175 6 39 2 102 3-104 1 146 2-29 3-103 1 105 4-122 2 119 2-116 5 7 1 109 2-18 0-87 4-28 4 151 2-148 0 137 5-3 3-118 5 116 1-152 0 159 4-155 3 19 2 134 1 3 1-118 6 142 1-134 6 120 1-110 1 120 4-143 3 125 2-118 1 13 2 71 5-9 1-101 1-28 3 142 4-85 2 108 4-103 1 93 2-108 3 108 1-15 2-84 5-33 1 107 2 37 1-107 5 110 3-95 5 76 0-72 2 137 1-146 4-6 2 100 3 24 0-126 5-18 2 111 6-122 1 124 0-112 2 94 6-96 1 111 3 40 2-169 3 168 2-155 3 115 2-115 1 91 2-94 5 17 1 91 3 48 4-170 3 126 1-150 1 163 2-127 3 19 3 125 4-75 2-98 3 149 1-128 2 98 5-92 4 13 1 137 0-12 3-118 3-6 3 103 2-93 2 166 2-50 3-132 3 194 2-194 6 2 1 102 3 81 1-182 4 23 0 99 3-115 0 125 5-5 3-113 2 4 2 117 3-39 1-88 3 127 3-141 3 89 3-165 1 57 4-222 1 30 5 224 2-2 2 107 4-107 2 120 4-23 1-68 0 96 5-122 1 100 1-127 6 6 1 99 3 27 0-104 6-27 0 148 5-154 1 119 2-113 0 179 5-1 3-156 5-8 0 81 1-58 3 87 6 7 1-100 2-24 2 158 1-38 1-149 5-25 1 159 3 52 3-140 4 142 1-143 3 104 1-111 3 101 1-117 8-16 0 131 3-172 1 170 2 28 4-135 2 1 3 129 1-26 3-96 2-34 0 189 6-191 1 198 5-161 1 131 5-122 0 108 2-14 2-124 3 27 4-253 2 22 4 223 0-33 2 141 6 21 0-105 3 104 2-128 4-6 2 94 4-106 1 114 4 35 1-114 2 98 3-118 3 120 0-94 5-26 1 153 2-28 1-131 5 2 1 96 5 49 2-111 2-18 3 122 2 30 1-199 5 171 2-106 1 94 3-119 6-5 1 126 0-135 4 143 3-119 1 120 6 8 0-115 2 130 2-148 2-18 3 153 2-8 3-115 3 142 1-127 3 80 2-89 3 1 2 86 3 55 3-159 4 157 3-147 2-25 2 121 4-90 2 119 3-4 2-152 0 148 2-132 4 108 3-88 1-19 3 151 6-25 0-94 3 107 1-124 4 67 2-92 4 92 1-98 4 25 0 112 3-143 3 146 2-152 2 141 6-34 1-93 0-42 3 147 3 24 1-136 5 9 1 91 2-101 2 155 4-29 1-115 5 19 3 68 1-69 4 84 3-150 1 177 2-108 0 102 5 45 2-174 2 136 4-126 1 136 4-117 3 82 3-111 2 100 0-82 5-15 1 131 2-112 4 111 2 2 2-100 3-38 1 135 3-109 5 126 0-7 3-118 2-43 4 184 2-34 4-142 0 7 1 130 4-143 1 149 6-128 1 146 5 15 1-128 3 13 1 69 2 43 4-121 4 118 0-128 3-4 1 159 4-153 3 107 4 7 1-121 3 8 2 161 2-132 0 96 5-123 1 107 4 49 1-177 5 25 0 111 5-1 1-130 2 157 1-173 4 42 3 122 4-48 0-79 3-42 2 147 6-43 0-85 2 104 1-119 7 128 2-116 1 122 2-127 5 108 0-79 2-33 1 108 5 39 0-116 6-26 2 145 1-3 5-533 0-48 5-575 0-31 5-466 0-30 4-397 1 74 5 397 0 37 5 376 0 39 5 205 0 15 5 176 0-4 4 178 2 25 4-130 0 26 4-145 1 26 5-109 0-3 4-148 1 2 4-119 1 38 5 193 0 0 5 195 1 4 4 200 0-34 4 188 1-14 5 228 1-19 2 146 3 50 1-115 4-88 1 158 3-13 2-100 4 163 1-149 4-2 3 111 1-91 2 112 3-38 5-103 1 3 2 101 2-15 0-100 7 20 0 128 5-122 1 72 5-67 2 81 1-103 2 125 2-142 2 113 4-85 1 63 7 30 0-126 2 177 2-172 2 26 5 110 1 6 0-114 5 120 0-135 5 102 3-86 2 112 3-106 2-22 3 126 2 23 2-113 2-10 4 88 4 6 1-141 4 139 1-105 1 9 1 123 6-38 3-93 1 110 0-115 6-25 1 132 2 41 5-146 0 125 3-146 3 28 1 113 4 28 1-139 3 102 1-109 6 81 0-87 4 141 1-149 5 89 0-75 5 115 0-121 4-12 2 171 2-62 2-79 3-5 3 122 3-123 2 106 2-28 3-106 2 163 3-140 3 0 3 126 3-7 1-113 5 82 1-76 1 17 2 86 6-94 1 114 1-35 2-93 6-25 1 148 1-5 2-85 4 89 3-101 2 78 1-101 3 118 4-242 1-19 5-655 1-57 4 361 0 38 4 329 2 25 3 156 3 44 2-122 3 2 2 140 2-22 3-99 2 101 3-81 4-45 1 143 1-11 1-111 4 116 2-145 3 48 2 116 4-132 1 98 5-113 2 131 2-21 1-95 5 82 1-114 3 24 3 145 4-167 1 147 5-167 0 143 2 9 1-140 6 17 1 138 2-45 2-120 3 184 1-172 4 12 2 142 2-5 1-133 5 25 3 67 3 28 0-124 4 123 3-125 2 18 1 103 3-125 3 156 2-140 2 146 4-5 2-141 3 40 0 97 4-9 3-104 3 96 1-102 6 154 0-167 4 29 2 117 2 0 3-99 3 105 2-130 3-2 1 98 3-16 3-110 4 14 2 142 2-140 1 125 6-143 1 149 1-108 0 87 5-142 1 159 5-34 0-106 5 13 2 92 1-104 4 115 2 19 1-158 7 9 1 158 4-57 0-91 5 22 1 87 4-110 0 129 3-92 3 131 0-136 3 172 3-179 3 194 5-116 1-74 0 137 4-125 1-39 1 118 5-121 1 130 3-139 3 200 4-192 1 127 5-109 0 119 2-113 1 104 4-115 2 172 5-191 1 148 3-122 3 96 3 16 2-94 4-24 1 128 3-8 2-121 4 109 1-102 1 5 4 73 2 50 4-158 0-23 4-224 1 0 3 258 3 104 3-94 2 148 0-128 5-3 2 118 2 13 3-150 3 167 2-136 3 103 1-128 6 128 1-123 2 141 3-135 1 147 3-179 5-6 0 213 4-196 2 132 4-5 0-97 4 94 1-92 3 70 3-96 4 134 1-139 2 37 2 100 2 30 5-158 2 27 1 143 6-145 1 143 0-176 1 110 5-113 4 144 2-21 2-135 3 5 2 135 5-10 0-105 1 113 2-129 4 130 2-115 6 129 1-110 3-8 0 106 3-116 2 119 3-142 4 139 1 55 2-175 4-27 2 160 1-14 2-98 5 112 1-123 3 86 3-112 3 135 3-124 1-8 1 114 5-114 2 132 3-112 2 140 1-70 1-74 6-4 3 105 2 62 3-165 0 4 5 120 3-16 0-115 2 9 1 154 5-140 1 82 3-73 2 74 7 2 0-108 2 119 3-121 2 136 3-145 2 130 1-86 5-32 3 111 1-75 3 121 2-152 0 150 4 7 2-103 5-39 2 69 5-87 1 104 1 26 0-155 6 138 2-110 3-20 2 164 5-152 1 108 1-95 2 143 4-52 2-99 4 109 0-135 3 155 1-104 3 131 5-135 1 135 4-153 1 168 2-117 5-67 1 159 5-136 1 114 1-104 1 73 3 38 3-148 4 117 0-135 4 24 1 142 3-122 1 101 4-25 5-101 0 142 2-125 3 97 3-131 2 25 2 87 4 61 1-127 7 93 0-121 3 167 2-161 4-25 1 165 2-52 2-115 5 140 1-122 1 136 1-122 6 122 1-137 2 19 4 116 3-104 2 112 3-11 1-87 2-42 4 197 1-161 3 119 4-147 0 136 6-22 1-146 1 178 4-121 2-14 0 118 6-106 3 111 1 33 2-145 3 2 2 95 6-95 0 93 3-93 2 94 4-100 2 102 1-92 1 108 6-21 2-86 2 122 2-157 4 166 1-156 2 107 1-104 5 107 3-73 2-35 1 117 6-88 0 86 3 101 1-172 3 98 0-120 6-13 2 133 1-98 5 76 3 40 2-130 0 108 1-125 5 163 3-149 1 99 5-151 1 147 3-127 2 16 1 100 4-5 1-104 6 120 0-106 3 117 3-131 2 104 2-106 5 0 1 148 4-54 1-60 3 98 2-119 4 132 0-151 4 104 1-110 2 127 2-106 6 108 1-116 3 11 1 127 4-28 0-106 3 141 4-121 1 108 1-126 5-12 2 122 3-90 3 147 2-180 3 123 2-3 1-144 3 202 3-151 4 7 2 85 3-106 1 116 4-8 1-132 3 17 2 128 3-16 3-90 2-24 3 133 2 20 4-154 4 28 0 105 3 2 3-127 0 18 1 127 7-54 2-106 1 24 4 123 2-119 0 84 3 38 3-140 4 17 0 90 5-111 1 152 2-27 2-99 5-33 0 122 4-6 1-103 5 107 1-99 4 4 2 117 4-26 1-89 1 91 1-149 5 136 3-78 4 1 1 104 2-115 2 111 4 17 3-160 1 150 2-105 3-37 4 165 3-156 0 135 4-107 0 91 4-124 4 114 0-87 1 107 4-92 4 105 2-5 2-111 3 117 0-112 5 124 2-153 5 143 0-123 5 8 1 93 1-1 2-126 3 140 3-131 4 25 3 114 1-148 2 120 5-129 1 110 1-117 4 171 1-5 1-135 6 111 0-123 3 118 4-145 1 33 4-190 1 17 3 206 2-72 5 128 3-66 2 127 0 28 2-159 5 122 1-131 5 12 1 118 2-123 3 129 3-109 2 90 4-18 1-93 3 1 2 109 4-8 1-120 3 54 2 76 2-110 3 109 3-126 1 130 3-20 1-79 3-36 1 134 5-95 2 112 4-132 3 118 0-110 4 178 2-200 4 141 3-140 0 161 4-27 2-89 3 114 1-125 4 102 1-113 4 96 1-114 2 141 1-128 5 14 2 81 3 46 4-126 2 101 0-102 5 15 2 99 4-7 0-129 2 130 2-127 5 103 2-96 3 190 2-208 3 125 3-124 4 230 1-192 2-17 0 87 4-94 3 100 1 16 3-107 3 100 3-110 2 142 2-137 3-28 4 182 0-5 3-164 2 3 0 129 5 13 3-149 3 154 4-152 1 132 2-95 4 97 2-125 2 33 4 90 4-132 1 142 1-141 2 178 3-163 4 117 2-115 1 92 5-101 2 155 0-150 2 85 3-63 4 94 1-81 2 102 4-12 2-119 2 8 3 119 3-112 4 95 4 31 0-141 3-35 1 106 4-69 1 90 3 44 3-120 1 74 4-86 3 118 2-137 5 39 1 75 1 13 1-97 3 2 3 123 2-13 2-125 6-1 0 122 2 57 2-177 3 118 4-144 2 141 3-113 2 104 2-124 2-13 4 110 5-85 1 113 2 32 1-136 2 118 3-124 3 6 1 127 5-15 0-112 4 96 2-95 5 129 0-177 4 152 1-153 2 35 3 107 2-17"/>
<path class="ln" stroke="#d62728" d="M1001 4248l3-63 2 54 0-44 4 32 2-31 5 6 1 30 4-32 1 28 3 8 2-37 5-1 1 33 1-4 3-31 3 5 2 34 4-2 2-37 1 37 4-47 2 49 1-34 6-15 1 48 4-44 0 40 3-6 2-25 2 30 2-39 3 4 2 35 5-35 1 27 3-32 3 44 2-47 1 49 3-5 3-32 4-7 2 38 2-41 3 39 2-39 2 35 3-38 3 42 2-22 2 23 3-43 2 61 2-20 4-38 1 2 2 42 5-44 1 37 3-36 2 39 4 4 3-48 0 56 4-47 2 5 3 30 2-34 1 48 6-2 1-43 3 39 1-34 4-1 1 44 4-58 2 55 3-11 1-34 2-3 3 43 2-13 4-39 2 13 3 42 1-48 2 37 5-28 2 28 1-30 1 34 7-39 1 42 5-40 0 45 1-49 3 39 4-32 2 35 1 19 2-57 4 6 0 39 7-41 2 32 3 1 1-43 3 37 1-35 3 28 2-28 3 57 1-45 4-10 2 31 5 14 0-49 2 39 2-43 4 15 1 26 5 6 3-35 1-5 2 39 4-40 2 45 3-10 2-34 1 38 3-39 4 39 1-34 3-6 4 31 3 2 1-29 2 36 2-31 5 30 1-32 3-11 3 40 0 5 2-44 6 51 1-51 2 7 1 44 4-11 1-32 4 0 1 33 4-31 4 27 1 6 1-27 4-6 2 29 4-40 0 30 5-20 0 40 4-43 3 37 4 17 0-41 4 32 2-46 1 42 4-22 5-7 0 35 1-8 4-49 2 50 3-44 2 8 0 33 6-36 2 29 1-31 4 36 2 11 1-50 5 48 2-41 2 1 3 27 2-38 0 56 5-47 1 50 4-48 3 34 2-34 2 34 5 6 0-44 2 8 4 41 2-4 3-44 2 32 2-42 6 57 1-44 1 32 4-37 0 0 4 47 3-41 2 38 5-50 1 46 3-40 2 42 0-39 0 41 6-32 2 30 5-28 0 35 2-41 1 39 5 2 2-42 6 37 0-48 3 7 2 41 3-40 3 51 0-56 4 45 3-54 2 56 1-38 1 36 5 13 3-76 2 21 2 35 3-34 2 48 3-49 2 39 2 4 3-40 3 47 3-44 4-8 1 44 1-45 4 43 1-36 5 34 1-27 2 23 3 3 1-39 3 37 2-40 6-1 0 37 3 3 4-30 0 39 3-43 5 2 2 41 0-53 3 53 5-43 1 24 4-19 2 30 1-29 1 43 5-41 2 33 2-31 1 36 4-31 1 29 5 9 0-44 3 0 1 43 8-11 0-37 2-1 1 42 3-9 4-39 1 0 5 46 1-11 2-40 3 44 2-43 2 35 1-30 5 37 1-43 7 18 0 38 3-5 0-36 3-11 0 46 6-11 3-34 1 4 3 35 3-2 1-29 4-7 3 30 2-20 3 29 2 0 2-43 3 4 3 34 1-32 2 42 4-36 2 29 3 5 1-33 6 33 1-39 2 10 3 28 3-33 1 27 3-25 0 38 8-51 1 44 2-5 1-46 5 43 1-45 2 46 4-37 3 43 0-48 2 2 3 46 4 1 0-42 4 40 2-38 4 39 1-42 3 3 1 37 6-1 1-35 2 38 2-41 3 3 0 48 5-21 2-41 3 23 3 34 4 4 1-51 3 48 3-37 4 31 0-37 2 38 4-42 2 40 1-36 3-6 4 49 1-10 3-40 1 50 2-34 5-8 3 43 3-54 1 51 2-44 2 35 6-1 1-28 4 7 1 32 3-39 1 33 3-23 1 27 4-37 1 39 5-28 1 27 3-37 0 39 4 2 3-41 2 31 1-43 5 47 1-44 6 65 1-49 0-9 5 37 0-37 3 48 3-45 1 29 7-1 0-38 2 41 3-34 3 3 1 32 2 7 2-49 5 35 2-23 3 22 1-31 2 35 2-30 5 2 2 22 3 7 0-39 6 0 2 34 2 8 2-40 2-10 3 55 3-50 2 35 3-32 1 58 3-12 1-46 5-7 1 43 3-2 2-36 6 0 1 50 2-47 0 32 5-31 0 36 3 13 4-56 1-1 5 62 1-60 3 43 2-42 0 42 5 14 4-45 1 20 1-22 4 44 0-59 7 54 1-44 2 40 1-39 5 7 2 34 4-47 1 37 2-28 2 31 3 3 0-22 7 24 0-45 3 44 2-33 3 42 2-40 3 10 0 27 4-40 4 44 2 4 2-45 2 38 3-49 4 47 1-33 3-12 3 52 1-44 2 40 3-1 1-39 5 37 1-34 3-1 3 27 4-32 2 41 4-4 2-39 0 11 2 40 4-48 1 36 6-43 0 49 3-9 4-45 2 4 2 42 1-44 3 43 2 1 1-30 7-3 1 29 5-1 1-29 2 1 1 31 2-4 3-32 3 0 1 33 4 6 3-37 2-3 3 34 4-9 1-30 1 49 3-46 3-1 1 42 7-3 1-34 1 4 2 39 2-49 1 48 7-39 1 32 1-27 2 36 5-50 2 36 5 15 0-43 1 45 2-48 4 0 3 39 3-6 2-35 4 3 0 31 2-38 3 60 2-54 4 34 2-39 1 39 5-37 0 30 5-41 0 57 5-43 1 40 4-6 2-33 1-4 1 52 7-45 2 37 2 6 2-40 1 29 5-36 0 47 2-47 3 6 2 41 4-52 0 46 8-34 0 30 2 3 1-30 7-6 1 42 3 2 0-48 2 44 3-40 5-6 1 39 2 9 4-36 2 30 3-34 0-8 3 32 5 15 1-38 3-8 3 44 1-43 3 38 2-43 1 46 3-29 3 31 3-2 2-41 2 4 5 51 3-12 0-32 5 10 0 20 4 5 0-40 4 0 3 36 2-37 1 36 6-38 1 35 2-42 1 65 3-51 4 38 3 0 1-42 6 2 1 34 1-39 3 38 2-33 2 26 4-29 2 45 1-9 0-41 9 10 1 31 1-43 3 49 1-42 3 41 2-36 4 31 2 4 3-43 1 6 1 27 6 3 2-42 5 43 0-42 1 43 0-31 8-2 1 38 3-42 1 41 3-39 3 34 2-26 0 36 6 2 1-50 4 10 1 30 3 2 1-37 4-3 2 42 3 4 2-43 4-1 3 40 1-3 3-37 2-18 4 54 2 2 1-34 4 22 1-24 3 28 1-30 3 52 1-57 6 53 2-51 2-7 1 51 3-5 4-33 5 27 1-34 0 35 4-35 2 46 1-43 5 30 3-35 0 9 4 36 1-11 4-27 2-8 3 47 2-42 3 34 2-33 3 28 4 27 1-59 1 44 2-52 5 43 0-35 5 39 1-28 6 18 1-42 0 49 1-29 7-19 2 42 2-29 2 38 2 1 4-43 4 47 0-35 2 0 3 41 3-43 1 30 5-50 0 55 4-24 2 33 4-44 2 41 3-1 2-40 0 32 1-28 6-13 2 38 2-42 3 43 3 15 1-55 2 49 4-31 4-7 1 35 2-41 2 41 4 2 2-49 2 9 2 37 5-2 1-35 1-9 5 37 0-28 5 34 2-40 1 34 5-32 0 31 4-29 1 39 5-8 1-33 3-2 1 44 3 9 2-63 5 17 1 46 1 0 4-59 5 6 1 25 1-19 4 39 2-4 2-39 4-4 1 37 3 7 1-47 5 19 1 42 2-16 3-29 2 34 2-49 3 50 2-52 3 14 2 31 4-41 1 44 3-44 2 49 3-43 2 52 4-46 1 31 2-38 4 41 1-37 4 35 3 10 1-55 3 43 3-55 4 72 1-47 2-2 1 32 7-32 0 37 1-35 4 40 3-15 1-27 4 33 2-25 1 26 1-30 5 36 4-41 3-4 2 38 0-34 3 38 5-9 1-41 1 4 5 37 1-33 3 39 4-4 0-38 2 29 4-29 4 3 2 48 0-50 3 36 4-33 2 37 3-47 1 33 4-20 1 34 3-45 3 32 2 16 2-41 3-4 1 36 3-24 5 27 4-2 0-32 2 40 3-41 3 32 0-30 4 42 1-44 7 8 1 39 0-14 4-39 1 53 5-43 3-8 0 39 5-38 2 47 2 3 0-41 3 33 2-32 4 47 2-60 4 60 2-52 2 46 3-48 4 35 0-35 3 0 3 35 3-1 0-40 4 44 2-30 3 33 1-38 4-1 4 39 2-35 1 29 3 19 3-49 4 32 0-34 4 31 1-32 5 42 1-52 2 50 1-39 4 40 1-38 5-3 2 44 4-3 0-48 2 38 1-49 4 61 4-54 3 37 2-38 1 43 2-33 3 47 2-55 4-9 2 50 2-4 4-33 4 3 1 38 4-33 1 43 4-57 2 47 2-10 0-34 6 33 1-28 3-5 2 46 5 12 0-47 2 37 4-46 3-1 1 60 3-53 2 32 3 3 1-28 5 35 1-40 3-11 2 44 1-29 3 36 4 0 1-37 3 34 3-36 1-20 3 57 4-3 0-48 7 42 0-26 2 34 2-42 2 4 2 35 7-36 0 42 3-8 1-42 3-1 1 57 5 2 1-54 5 57 1-45 3-2 3 35 0-1 4-30 1 26 3-35 6-4 1 47 0-8 4-40 3 43 2-30 3 31 2-39 2 43 4-43 0 51 3-54 4-7 1 44 3-49 0 56 4-7 4-21 1 28 3-39 3 35 3-28 4-10 0 44 3-15 4-20 2-7 1 47 4-14 3-33 0 34 4-36 3 51 1-53 2 5 3 47 3-50 1 29 6-48 1 52 4-26 0 31 6-30 1 33 1-3 1-41 5 47 2-35 2 31 2-32 5-1 1 49 3-17 3-39 0 42 3-32 2-17 3 37 5 2 2-30 2 29 1-39 4 54 2-42 2 36 4-45 2 14 2 30 1-6 0-29 8 37 1-35 2-8 3 49 1-11 3-33 3-1 1 39 4-43 2 44 3-40 2 34 2 3 2-35 6-13 1 51 3-49 1 47 4-3 3-53 0 10 3 42 3-30 4 24 1 17 2-45 4-11 2 45 4 5 2-34 1-2 1 55 5-12 2-60 3 50 0-37 5 42 2-40 2 36 2-45 5 51 2-40 1-8 3 34 2-21 4 38 2-45 1 47 6-45 1 38 0-58 1 58 5-53 1 52 5-6 0-39 6 51 0-39 3-6 2 34 3 10 2-45 4-7 2 47 2 6 3-43 2 1 2 38 2-42 1 34 8 2 0-34 5-3 1 31 0 6 3-39 2 36 1-48 4 45 3-43 2 10 4 47 2-13 1-34 4-4 1 64 5-17 2-37 2 33 2-38 5-12 0 49 2 12 3-53 4 8 2 25 1-26 3 34 2-35 3 47 3-44 0 31 5-34 4 38 1 3 2-35 2 36 3-49 3 16 2 31 4-38 1 46 2-50 3 38 3-33 1 44 3-42 3 29 4-3 1-38 2 51 3-50 3-3 1 40 3 2 3-33 4 32 3-45 4 5 1 29 1 8 3-44 4 42 1-30 1 44 2-41 5 34 1-35 2-19 3 53 3-30 0 43 5-1 3-41 2-10 2 42 3-3 4-28 1-6 2 29 4-38 0 36 4-36 2 45 5-1 1-33 2 1 4 33 1-6 2-37 2 6 1 39 4-8 4-27 4 39 2-49 1 44 3-36 1-16 1 57 5-14 2-31 2 34 3-38 5-2 1 43 2-2 4-34 0 44 4-39 2 28 0-32 5 38 2-43 2 51 3-38 3-8 4 33 2 5 2-34 3-2 1 44 2-47 1 48 8-47 0 55 3-10 1-46 3 35 4-32 0-9 3 58 4-30 0-23 4 46 3-46 1 4 3 42 4-47 1 32 3-29 0 43 5-44 2 28 4-32 2 38 2-29 1 36 5-10 3-39 0 39 4-28 3 23 0-21 6-3 1 32 1-43 3 42 3-30 1 30 3 7 3-54 5 16 0 37 4-37 1 29 2 18 1-49 8 3 1 44 1-10 0-29 6 29 2-30 1 33 3-35 4 3 2 48 1-58 0 39 6-38 1 34 5-4 1-37 6 46 1-46 1 48 3-47 2-3 3 42 3 15 2-48 3 3 3 41 2-46 2 37 3 12 1-37 3-7 2 40 4-35 1 34 5-40 0 35 3-40 3 47 3-4 1-48 4 56 2-50 2-3 2 53 2-43 5 29 0 9 4-34 3-9 1 40 4 10 1-44 2 35 2-47 4 41 4-43 0 49 3-34 3 24 2-41 3 10 2 40 2-44 5 50 0-8 3-39 3 46 2-36 2 35 3-38 3 46 2-64 6 16 1 39 2-40 3 31 1-29 0 36 5-41 1 53 5-11 0-36 4 7 2 29 3-39 2 35 3 6 1-33 5-8 0 47 5-6 1-47 2 8 1 36 4-37 4 36 1-35 3 30 3-41 2 46 4 2 1-44 3 14 1 35 5-9 1-38 2 10 2 40 5-38 1 35 4 7 2-51 1 55 5-60 2 9 2 40 4-14 1-33 3 2 1 28 3-31 1 46 3-3 4-56 3 17 2 29 1 6 2-53 5 48 1-36 3 39 2-42 5 10 0 45 4-47 1 39 5-5 1-36 4 39 1-39 3 4 2 32 3-1 0-46 4 64 3-58 2 47 0-50 8 45 1-39 1 44 2-36 3 35 4-59 1 62 2-43 3-3 3 38 1 1 2-41 4 8 1 36 4-38 2 39 4-44 0 45 4-40 4 37 2 5 0-37 5-2 2 53 2-51 1 32 4-42 3 60 1-9 2-58 6 44 1-35 2 36 2-36 4-3 2 46 3 2 1-43 3 46 3-55 1 20 4 37 3-12 2-27 3 28 3-38 1-13 2 68 2-18 5-48 0 13 4 35 3-36 0 36 7-3 0-33 2 33 4-40 2 53 0-35 4 29 1-46 6 39 1-32 2 43 1-46 3 3 3 36 2-35 3 33 2 4 1-36 8 29 0-29 3 36 0-41 3-1 2 30 5-31 1 43 6-40 1 28 2-25 0 33 3 3 2-34 6 43 2-44 1 39 3-50 2 51 3-39 3 46 2-51 4 50 0-51 4 37 2-35 2 28 2-35 6 57 0-50 1 9 2 37 7-47 1 58 3-24 0-35 6 3 0 39 2 5 2-43 4 35 1-25 4 25 0-39 3 5 3 38 5-46 1 42 2-29 1 31 6-48 1 57 3-39 1 35 5-39 0 40 5 0 1-48 3 49 1-58 2 8 3 47 5-8 0-32 4 33 2-31 1 31 5-36 3 28 1-27 4-3 2 33 1-34 1 35 4-23 3 33 3-52 0 54 3-48 1 38 6-37 1 43 4-5 3-33 1 38 1-38 3 9 2 23 6 4 1-42 3-2 2 48 4-39 0 29 3 8 1-34 6 43 1-53 3-13 1 55 3-34 4 38 3-15 1-30 3-1 1 29 4 17 1-47 5 0 1 32 2-48 1 62 6-4 1-37 5-15 1 46 2-32 2 43 4-39 2 27 0-20 2 28 5 1 2-38 2 10 2 31 2-34 1 29 7-30 1 38 1-7 0-25 5-10 1 41 4-45 1 44 5-45 4 74 3-59 1 28 4-32 1 47 3-5 2-49 2 43 3-40 1 36 1-43 8 0 0 30 1-32 5 57 0-12 4-37 1 36 4-37 2 33 2-39 3 5 3 38 4 0 1-37 2-1 0 34 5-32 1 44 5-6 2-40 1 30 4-27 1 37 3-40 5 36 0-36 5 37 1-42 3 5 2 31 4 3 0-27 4-8 1 53 3-19 2-37 2 4 2 46 5-41 1 38 4-1 1-50 2 11 0 47 6-9 0-47 7 15 1 35 2-48 1 50 4-9 4-27 3-13 1 50 2 1 0-45 7 29 1-38 2 5 0 38 4-9 3-27 4-20 2 54 1-7 3-33 2-5 3 47 5-2 1-30 2 33 3-42 4-3 2 44 1-35 4 26 0 4 3-38 3-1 2 39 4-49 2 56 3-15 2-29 2-12 1 38 3-27 5 45 2-44 1 36 3-39 2 56 4-14 1-32 2 43 3-54 5-6 1 46 3-32 1 29 6 0 0-38 1 19 3 36 5-2 0-36 2 44 5-44 2-6 2 45 2-42 3 42 2-38 2 42 5-39 1 32 1-8 4-30 4 0 1 40 1-6 2-46 5 6 1 45 3-5 1-51 3 46 4-34 3 48 2-41 1 38 2-38 5 33 3-47 2 40 3-49 1 23 2 39 4-47 1 36 2 8 3-39 4 48 1-49 2-14 1 64 6-43 2 28 2-35 1 37 4-33 1 47 3-46 1 35 4-45 3 45 3 0 1-42 4 43 1-55 4 17 3 36 4 5 1-51 3 11 2 43 2-47 0 41 6-10 0-33 6 8 1 32 1-37 2 48 6-11 1-46 2 45 4-33 0-9 1 41 8-38 0 29 1-31 3 46 5-16 0-33 2 6 4 27 3-32 1 53 4-20 1-40 4 9 1 27 3-30 2 52 4-15 2-35 1-3 5 37 2-34 0 46 3 4 2-53 4 13 3 32 4 0 2-36 0 10 4 17 2-25 1 39 4-40 2 42 2-8 1-34 5 46 3-60 2 51 1-39 3 35 3-47 5 8 0 49 3-58 2 55 2-8 3-49 5 59 1-48 1 5 2 33 3 3 1-42 5-1 3 45 3-40 2 39 2-1 2-36 2-8 5 48 1-39 1 56 5-22 1-33 2 32 2-42 5-2 2 51 3-44 2 34 2-5 1-39 5 12 0 35 6-11 2-27 2 1 3 36 4-2 0-37 3 42 1-45 2 37 1-34 4-12 3 49 4-49 0 44 5 4 2-34 2 0 3 41 3-13 2-27 1 2 1 35 4 3 3-35 3-9 1 50 5-45 0 60 4-26 2-33 3 36 4-43 0 8 1 34 5-40 1 41 3 4 2-44 4-3 0 46 6-39 1 40 4-51 1 43 5-44 2 39 1-30 2 26 3 1 3-33 4-3 0 45 4 0 1-51 2 49 2-39 3 17 2 23 4-35 1 29 6 7 1-43 4-5 1 44 2 4 4-37 2 6 1 22 5 21 1-53 3-12 2 60 3-10 1-37 2 36 3-31 4 42 1-52 3 41 2-27 2-9 3 36 4 7 1-48 3 18 0 32 5-25 1 24 5-32 0 26 6-35 1 40 1-40 3 31 4-31 1 45 6-10 1-34 2 6 3 37 1 6 3-47 2 39 3-30 2-18 3 50 2-52 3 51 1-41 1 37 5-5 2-27 3 31 1-41 4-21 3 50 1-31 2 34 4-36 3 48 3-39 0 29 3-3 1-43 4 50 4-47 2 46 2-33 2 26 3-32 3-6 3 40 1 5 3-38 3 6 3 34 2-47 2 45 3 5 2-37 5-4 1 35 2-26 1 34 4 2 3-37 4 33 0-46 4 3 1 57 3-24 1-32 4-3 2 38 2-38 1 43 6 7 1-37 2-13 3 47 5-35 1 34 2-36 2 34 2 11 2-54 4 48 0-57 7 62 1-46 2 0 1 35 7-44 1 40 2-2 0-33 6 0 1 32 3 2 3-25 4 2 0 38 3-13 2-33 5 11 0 22 2 18 2-48 3 47 1-47 5-12 2 52 3 0 1-43 5 42 1-43 3 32 1-38 2-14 5 54 3-1 0-47 4 52 1-37 4 35 1-32 5 39 1-49 1 43 4-42 4 5 1 47 1-46 1 33 4 20 2-63 4 11 0 30 6-21 2 39 1-44 3 32 3-1 4-43 2 10 2 30 2 7 2-35 6 33 1-36 3 33 2-47 0 60 1-44 6 42 2-39 3 1 0 35 3-49 0 37 8 7 2-46 1 46 3-35 4-9 1 40 3-44 2 57 1-49 2 48 7-12 1-31 0 1 0 35 7-43 0 42 3 5 2-56 5 54 0-43 5 3 1 42 5-11 0-38 2 4 2 49 3-11 2-40 5 3 2 51 4-46 0 40 3 3 1-39 4-8 2 38 5 0 1-45 5 6 1 35 0-4 2-26 3 2 2 26 5-35 2 32 2-34 1 48 7-6 1-45 2 8 0 36 3-42 1 52 7-37 2 34 0-3 4-39 2-3 3 29 2 6 2-30 4-5 0 40 5-41 1 46 4-27 1 28 2-51 5 45 3-32 0 42 3-7 3-25 1 34 2-44 4 38 1-51 3 1 4 40 4-3 1-39 3 2 2 46 1-28 1 30 5-45 2 44 4 8 1-49 2 37 2-40 4 50 2-36 2-4 5 38 2-6 2-29 3-3 2 25 2 16 1-41 6-6 1 46 3 1 1-41 3-3 1 35 4 1 1-30 4-14 2 53 4-53 1 41 2-31 3 26 2-33 1 40 7-26 0 32 4-44 0 41 7-35 0 31 3 12 2-71 4 23 1 45 3-46 1 37 4 11 1-53 3 57 0-57 5-4 0 49 4 0 3-42 5-2 2 43 3-6 1-38 4 40 2-33 0-3 2 38 5 3 1-36 3 37 1-40 6-4 2 38 2-27 1 27 4 12 3-39 0 35 4-38 3 28 1-32 4-16 1 48 2-31 5 30 2 2 0-42 6-15 1 54 2 18 3-57 2-5 2 43 4-33 0 31 6-31 1 52 2-40 2 22 3 6 2-45 4 2 2 38 2-40 1 45 6-2 0-38 6-3 0 38 2-8 3-27 2 30 1-42 5 14 2 41 2-2 1-48 3 45 3-39 5 47 1-34 3-13 0 43 4-45 2 44 4-9 1-34 5 41 0-43 4 50 0-45 3 37 2-38 4 35 2-40 3 6 2 39 2-43 2 45 3-45 1 39 5-32 3 33 3 20 1-64 2 57 1-45 6 28 0-23 7-8 1 51 0-1 3-58 3 51 0-41 7 44 1-42 1 31 2-39 5 45 1-43 2 38 1-29 4 23 4-31 4-4 1 38 2 6 0-35 5-22 3 53 1-47 4 60 3-66 2 42 5 24 1-42 2 34 2-33 1-7 4 42 3-43 1 41 6 6 0-52 2 44 2-34 4-5 0 40 4-2 3-38 3-1 2 50 2-6 1-44 5 39 2-38 4 1 2 41 1-4 2-39 4 7 2 33 3 7 1-48 4 3 2 56 3-19 2-33 2 29 4-35 0 32 4-30 2-6 1 39 3-35 4 34 2-30 2 30 3-39 1 46 4-34 3 30 3-33 2 39 4 19 2-56 3-3 2 33 0-52 3 63 5 1 0-46 3 1 1 29 4-38 3 47 1 3 1-41 6 30 1-28 4 27 2-42 1 52 3-47 4 49 1-45 3 48 2-39 3 36 4-49 2 47 2-41 4 30 2-32 0-6 3 58 3-49 1 37 3-28 3 40 6-47 1 29 3-33 0 60 3-19 3-40 4 42 1-43 1 42 2-36 4-8 2 37 2-33 4 41 2-6 1-25 4 28 3-35 3 34 1-39 4 46 2-43 2 2 3 35 2 13 3-51 3 8 1 23 3-26 4 31 2-35 0 60 4-59 2 51 2-51 0 37 6-36 2 30 4 5 2-41 2 1 0 54 5-47 2 57 4 4 2-57 2-21 0 52 5-9 3-31 5 38 1-35 2 37 1-36 5-7 1 42 5 10 0-47 2-4 3 41 2 3 3-39 4-2 1 36 2 1 2-36 5-14 1 47 3 2 1-53 2 53 5-48 0 10 3 30 2 12 4-45 3 36 1-39 2 6 3 33 2-36 4 43 3 1 1-45 2 51 3-44 3 40 0-45 6 34 1-25 4-5 1 39 3-37 0 43 5-10 1-35 4 3 3 35 4-38 1 32 1 24 5-44 0 40 3-50 5-9 1 53 4-40 2 29 2-36 1 45 5-5 1-43 5 50 1-48 0 2 4 34 4 19 2-58 0 56 4-51 5 10 0 37 2 6 1-54 4 6 0 34 5-7 2-27 3 30 4-25 4 21 1-24 2 4 0 25 4-34 4 47 1-40 1 37 6-35 2 38 1-46 3 51 1-53 3 34 6-38 1 49 0-49 4 50 3-16 1-36 3 51 4-52 2 44 2-40 1-9 5 47 1-2 1-48 6 6 0 43 4-3 1-38 3 1 1 33 4-35 3 45 1 1 3-35 3 29 2-37 4 6 2 25 2 6 2-33 5 35 1-27 3 37 0-48 6 5 1 30 5-18 1 16 1 8 2-45 3 3 1 42 4-37 0 39 5 3 1-44 5 4 1 42 4-37 2 39 1-12 2-39 4 3 2 31 2 6 1-40 8-2 0 36 2-32 2 53 2-47 1 20 4 16 3-46 4-2 2 35 1-32 3 32 3-34 1 39 5-43 1 44 2-42 2 31 4-33 1 46 4-2 3-33 1 37 4-40 2 43 2-41 2 34 1-41 4 33 2-33 3 41 4-32 2 47 3-42 4 27 1-43 4 61 1-46 1-5 5 53 1-20 2-35 5 43 1-46 2 37 4-40 0 9 3 30 4-19 0 34 6-12 1-31 3 31 1-30 5-7 2 36 2 19 3-44 1-25 1 54 3-50 4 39 2 13 4-49 3 47 0-37 2 37 4-43 4 47 1-41 3 33 0-44 5 46 1-38 3 5 2 52 3-62 1 61 6-56 1 44 3-14 2-19 5 33 0-33 1 21 1-23 7-2 1 39 1-4 1-31 4 26 5-29 1 31 3-34 2-2 1 43 4 0 3-34 4 33 2-34 2 35 3-57 2 20 3 38 1-40 4 25 4-35 0 38 2-5 1-26 5-1 2 32 1-43 2 51 4-41 1 26 5-24 1 38 2-47 5 50 1-7 1-30 3 40 2-50 4 37 1-35 3 50 1-49 4-14 4 45 1 14 5-57 1 42 1-34 4 44 4-34 0-1 2 35 3-38 4 41 2-2 2-35 5 23 1-33 1 32 3-38 3 15 3 32 1-41 4 46 2 8 2-44 3 1 2 38 3-37 0 26 6 1 2-35 4 12 1 28 3-8 2-41 3 37 2-45 5 60 0-45 3 7 1 40 4-21 1-28 4-12 2 41 1 6 3-38 3 44 3-41 1 12 1 38 4-43 4 38 3-43 0 43 6-38 0 46 4-49 0 39 5-35 2 29 2-7 1-39 3 14 5 22 0 21 4-43 4-2 0 36 2 11 5-52 0 55 2-52 5 8 1 35 6-48 1 49 2-41 2 38 1 12 2-49 3 25 3-32 4 7 2 32 1-1 1-32 4 6 0 41 6-42 2 46 2 6 1-57 7 14 1 30 4 2 1-48 5-4 0 65 4-14 0-32 3 31 2-30 2 0 0 39 7 8 1-65 5 8 2 47 2-46 1 36 4-7 1-36 4 4 2 34 5-43 0 49 2 4 3-44 2-8 1 47 5-35 3 35 0-9 1-24 5 29 1-46 7 49 0-34 1 23 4-36 1 45 5-37 2 39 2-48 3 8 2 31 5-33 0 35 2-13 1-31 3 14 4 29 1-2 1-30 4 41 2-45 7 4 1 33 2-42 1 45 2-30 5 38 0-1 2-41 4 34 2-33 3 49 1-55 6-5 2 49 2-41 2 42 1-46 4 46 2-54 1 58 3-9 1-46 6 48 2-27 2 24 3-26 1-7 4 39 5-15 0-27 2 43 3-32 2-5 1 43 3-7 1-46 5 10 1 49 6-9 1-51 5 34 1-38 0 5 3 40 6-41 1 37 0-46 2 53 3-37 4 33 1-35 3 42 4-6 1-40 3-5 1 46 3-56 1 54 6-36 1 37 3 4 2-42 3-10 0 44 5-40 2 40 5-28 2 36 2 4 1-48 3-3 3 48 2 4 2-43 2 5 1 34 6-5 1-34 4 2 1 42 2-12 1-39 4 0 3 61 4-17 3-35 0-4 2 44 6-34 0 35 3-7 2-26 2 30 4-48 1 13 5 39 0-43 1 42 7 8 1-59 1 60 2-47 3 42 1-44 5-14 2 58 3 5 2-56 2 47 4-38 1-3 3 42 2 5 1-53 6 9 2 37 4-44 0 42 5-5 0-41 3-1 2 42 5-32 1 25 1 12 4-54 1 57 4-49 2 3 3 32 2 16 1-42 4 35 2-39 3 34 2-31 3 47 3-47 3 34 3-38 3 35 1-35 1 51 3-53 2 31 3-43 2 46 4-35 2-2 2 39 3 0 2-26 3 22 3-40 3 12 3 24 3-33 0 39 3-2 3-22 1 31 3-47 4 43 2-43 1 6 0 37 6-36 1 40 5-38 2 31 1 1 2-34 6-7 1 42 2 0 4-30 2 46 2-50 3 22 3-20 2 33 0-29 5 29 2-34 2 0 3 42 2-37 1 32 6-4 0-46 6 9 0 39 3-2 2-31 1 34 1-42 7 57 2-47 3 28 1-46 3 4 1 40 4-39 1 42 2-4 1-34 8 44 1-42 2 3 2 35 5-35 1 39 2-5 2-26 3-12 0 37 6 9 1-33 2-7 1 45 3-10 4-32 1 38 2-38 4-7 4 42 2 10 2-46 1 37 2-65 3 19 2 39 4-44 1 56 5-4 1-52 3 49 1-40 4 5 3 31 5-44 1 29 0-11 4-62 1 2 4 51 1-13 3 33 2-29 1 45 4 12 2-50 3 1 2 38 5-37 1 39 4 2 3-44 0 0 5 46 3-35 0 32 5-3 2-29 1-2 0 37 5-55 2 46 2-25 3 24 3 9 3-40 3 46 3-50 3-5 1 45 1-51 3 36 4-15 2 23 4-30 1 32 3 2 2-44 1 18 4 40 4-49 0 49 2-22 3-24 6-12 0 37 2 16 1-39 3 38 2-40 5 48 2-52 4 29 1-28 2 3 0 36 5-4 3-41 1 34 5-35 1 46 3-45 2 3 3 51 2 0 1-46 5-2 1 38 3 1 1-38 5-7 1 50 3-44 1 46 4-10 1-41 4 50 3-50 2 39 4-35 3 49 1-47 1 31 5-28 4-11 1 43 0 3 4-41 1-3 4 37 5 1 1-36 0 31 2-34 5 40 2-52 4 14 1 40 2-10 2-34 3 34 4-29 3 6 2 32 1-35 1 44 4-41 2 41 5-2 1-41 5-8 0 40 3-31 1 45 3-17 3-33 5 45 1-46 2 55 1-37 2 37 1-51 6 33 2-29 1-9 1 50 6-9 2-36 1 36 5-41 3 41 0-33 2 2 3 29 2-28 1 38 8-21 0-23 3 31 1-38 2 4 4 46 4 10 0-46 2 38 2-43 6 41 1-36 1 37 4-51 1-2 4 55 2-7 3-37 2 43 1-59 5 63 2-53 4 36 1-31 3 3 3 36 2-40 1 48 3-45 1 36 5-41 1 37 3 7 1-36 5 33 2-45 3 33 2-40 3 42 1-38 3 5 1 49 3-9 3-31 4-13 1 49 3-42 3 31 2-28 0 43 7-4 0-43 4-4 2 36 3 5 1-43 4 6 1 36 3 0 1-33 4 41 1-50 6 47 1-42 4 42 1-42 2 0 2 33 4-33 2 44 1-37 3 34 6 1 0-30 2 29 0-38 4 29 5-32 2 4 2 38 1-7 2-38 3 39 2-29 5 27 2-33 3-15 2 64 3-14 1-32 3-7 1 32 3-25 2 29 6-28 1 36 5 2 1-43 3-4 1 42 4 0 1-36 2 6 1 31 3 3 5-35 2 38 2-46 2 42 1-32 4 37 1-31 6-17 1 55 3-44 2 31 4-27 0 34 3 2 1-35 6 3 1 33 3-45 1 32 4 8 1-37 3 44 1-53 5 49 2-52 4 36 1-46 4 13 1 35 4 2 2-40 4 42 0-41 4 4 0 49 3-2 1-31 5 20 1-34 3 32 1-35 6 13 0 24 2-36 2 52 5-47 1 34 2-1 3-41 3 48 4-43 2 1 2 36 2 7 4-38 1-2 3 30 1-34 3 53 3-56 1 42 6 2 2-49 0 6 3 36 3-36 2 48 4-52 0 46 3-2 1-44 5 3 2 43 6-46 1 34 2-23 3 32 2-33 0 35 6-32 0 28 4 7 2-39 1 33 1-48 5 5 1 48 4-43 3 37 2 1 2-32 5 2 0 36 3-1 1-47 4 48 2-44 2-7 4 51 4-42 2 35 2-9 1-43 3 42 2-36 2 3 4 37 2-1 3-31 2 70 1-69 3 46 5-46 1 39 1-56 5 63 0-37 4 37 2-41 2 41 3-41 4 2 3 35 0-32 2 31 6-8 2-30 2-7 2 40 4 12 2-44 2-2 2 43 2-33 1 37 5-5 2-35 3 31 3-45 1 43 4-36 3 37 1-49 2 63 1-60 4 49 1-46 6 0 1 40 2 10 3-39 3-6 1 46 3-6 0-40 7-4 2 48 1-47 4 48 1-46 3 42 3-8 1-41 4 10 0 32 5-26 1 22 3-35 1 38 5-34 0 35 7-33 0 35 1-6 3-27 4 38 1-44 5-10 1 39 3-34 2 47 2-49 1 50 7 5 0-50 4 35 1-28 2-11 3 52 5-45 1 38 1-1 0-34 7 39 1-41 5-2 1 40 0-34 2 32 3-32 1 30 6-24 0 34 3-11 1-33 5 46 0-44 7 45 2-49 0 4 2 42 5-13 0-34 4 3 1 39 3-47 4 45 2 7 2-35 3 1 3 27 4 4 1-36 3-7 2 39 1 3 3-31 3-4 1 28 3-29 2 34 4 5 3-41 1 0 3 35 3-41 3 34 4 4 0-45 4-1 0 50 5 9 1-51 3 49 4-42 2 44 2-47 3 3 0 37 5 6 1-48 6 47 0-39 2-6 2 35 3 6 3-35 3 3 2 30 4 3 0-41 3 46 3-53 2 4 3 39 1-27 3 36 3-54 0 55 4-5 4-29 2-6 3 31 3 15 2-45 1-10 1 41 6-34 2 29 3-25 1 46 3-11 4-32 0-2 2 49 5-62 1 42 3-35 3 43 1-11 4-29 3 40 1-43 5-10 0 41 4-40 1 47 4-52 0 46 4-38 3 36 3 5 1-41 4-3 2 41 4 8 0-40 2 41 1-44 6 41 1-39 3 1 1 38 7-40 0 54 3-12 3-36 2 35 1-35 2-16 3 48 3-3 2-38 2 39 1-27 5 31 3-48 2 46 2-28 5 45 1-45 1 39 3-40 4 36 1-40 2 33 2-33 5-5 2 34 3 4 2-28 2-11 4 37 0 3 4-44 4 38 1-36 3 2 1 29 3-24 1 46 3-14 5-31 1 32 3-39 2 11 2 24 2 8 3-35 2 26 5-42 1 55 1-47 4 3 3 33 3-39 1 44 4-43 1 40 2-33 1 38 6-2 2-37 4-15 1 55 2-41 1 41 5-5 0-41 5 48 0-50 5 58 1-44 2 28 4-41 4 46 1-45 3 10 1 37 2-38 3 37 2-17 1-25 6 49 1-37 2 38 1-52 4 2 4 49 1-3 3-43 2-8 3 51 2-38 4 35 3-52 1 51 3 12 2-53 5 36 0-36 3 37 2-38 5-16 1 49 4 9 1-37 1-6 2 34 4-32 2 27 2 5 1-34 6-4 2 41 3-41 0 43 5-34 2 33 2-39 0 50 5-40 2 25 4-35 1 33 2-3 2-24 4 32 0-38 5-6 2 42 2-4 1-35 6 12 1 30 3-58 2 59 4-2 0-44 3 39 2-36 3-6 3 45 3 7 1-45 4-3 1 42 5 3 1-37 3 43 2-34 3 25 2-46 4-5 2 51 3-26 1 30 5-44 1 40 1-35 3 40 4-42 3 41 2-1 2-42 3-2 1 41 2-40 4 41 3-45 2 48 4-3 1-40 2 0 3 38 1-28 2 32 3-35 5 32 1 17 0-48 5-1 1 38 5-36 2 42 3-47 0 40 6-8 1-34 1 33 1-28 5 31 2-34 2 35 3-30 3-4 2 39 4-44 1 41 2 0 5-29 2-24 1 65 4-6 2-42 2 34 4-35 3 0 1 54 3-58 2 38 3-35 3 47 1-4 1-38 4 41 3-43 2 37 0-36 7-25 1 52 2-44 2 57 4-10 0-28 5 33 1-30 5 25 2-35 1 46 4-53 2-1 1 46 6 4 1-41 0 42 2-39 4-2 3 43 1-42 2 32 4 3 1-36 4 0 2 48 2-8 1-41 6-1 2 29 1 3 1-25 5 32 2-46 2 46 2-43 5 7 2 36 5-42 0 38 4-32 0 41 3-36 3 24 4 12 2-47 0 47 4-36 2-10 3 53 1-64 3 60 3-3 3-40 5 35 0-47 2 6 2 34 3 1 2-27 3 26 4-29 0 26 3-27 2-2 4 39 1-9 4-32 2 47 2-37 4 31 0-35 5-7 2 60 4-50 1 27 4-29 1 37 3 12 1-46 4 42 2-43 5-1 0 41 3-42 1 38 3-32 2 38 6-6 1-41 1 32 1-27 4 35 3-43 2 7 2 42 4-9 1-41 3 47 1-46 6 39 1-31 1 33 2-38 5-10 1 42 3 8 2-42 4 7 1 29 4-28 2 36 1-15 5-34 3 47 1-36 2-14 1 51 7 3 1-43 0 31 4-37 3 40 0-32 3 38 1-37 4 36 2-37 3 27 3-25 5 38 1-41 4 4 1 33 2-30 3 28 2-52 0 57 5-35 3 37 1-2 4-36 4-9 1 33 1 6 5-36 2 38 1-47 3 0 3 50 1-14 2-31 6 39 1-41 2-2 3 51 3-5 1-43 3 34 2-34 2 43 1-43 7 47 1-44 2 36 1-24 6 21 0-36 4 6 2 42 1-1 2-40 6 37 1-40 1 45 1-39 5-7 3 40 1 8 4-50 2 33 4-31 1-1 1 35 4-40 3 38 3-31 2 26 2-27 1 44 5-44 2 27 2-22 1 27 3-21 4 34 3-4 2-38 3 53 0-58 3 36 3-23 3 34 2-37 4-4 2 57 4-9 1-54 1 4 4 32 1 16 4-42 3-5 1 45 2-33 4 29 3 10 1-57 6 44 0-46 2 0 1 49 4-12 3-27 1 33 1-30 6 41 3-39 1 27 1-46 4 7 4 40 2-35 1 37 3 8 3-55 4 12 1 39 1-42 4 38 3-40 0 31 5 3 1-39 2 48 2-38 5 42 1-44 3 7 3 25 2-36 2 44 3-30 4 29 2 3 1-39 6 36 1-32 0-13 0 45 7 2 2-42 3 0 1 25 3 22 4-48 0 30 0-33 8 43 1-39 2-15 1 69 4-3 3-47 4-3 1 40 1-16 2-30 4 5 2 42 2-1 3-38 2 29 3-33 4-2 1 45 2-52 2 49 4-10 3-35 3 47 0-41 6-8 0 46 5-33 1 54 3-55 3 36 1 6 2-40 3 47 2-48 4 42 1-53 2 6 3 41 4-5 1-37 2 45 5-54 2 15 0 34 3-40 0 44 9-40 0 37 2-48 3 50 3-5 3-43 1-3 1 37 5 6 2-37 5 39 1-36 1 28 4-21 4-14 0 50 2-44 3 37 2 15 4-45 0 36 3-41 2 1 3 58 4-58 2 36 2-37 1 36 4 2 3-38 1 38 1-36 6 37 3-35 2-5 2 34 2-33 2 38 5 6 2-38 2 31 3-30 0 29 4-40 1 44 3-32 2 25 3-25 4-1 2 37 4-6 2-32 0-7 1 41 4 0 0-42 9-4 0 47 2-11 2-26 2 31 2-44 3 61 2-54 4 7 2 42 2-2 3-42 3-1 4 47 4-12 0-40 2 35 2-34 3 3 3 32 2-42 3 41 4 4 1-37 1 27 2-21 6-10 1 27 1-27 4 42 3 3 2-44 3 33 2-32 2 30 2-30 6-3 1 40 2 1 1-29 5 24 1-36 4 40 1-39 2 1 1 36 4-39 1 33 4-29 3 32 1-47 2 56 4-5 1-51 6 15 1 54 3-2 2-50 3 36 1-37 2 6 1 27 4-38 2 46 7-12 1-27 3 31 1-39 2 44 1-48 5 48 2-39 3-12 1 47 3 3 2-45 2 10 1 33 6-29 1 39 4-57 2 53 1-34 2 37 4-8 1-40 3 5 3 29 3-35 3 41 4 3 1-50 1 61 3-61 4 45 0-43 5 51 2-43 4 42 1-39 1 36 4-43 4 6 1 54 2-19 1-41 6 50 1-53 3 48 1-48 6 0 0 39 2 1 3-23 3-10 2 33 3 1 2-31 2 35 1-44 5 48 1-47 5 8 2 35 2-4 0-32 3 47 4-40 1 34 2-57 6 61 0-53 4 56 1-50 3 9 3 37 2-8 0-35 5 28 4-31 1 4 3 36 2-40 1 44 4 2 1-45 6-1 0 37 5-25 2 26 1-49 1 44 3-39 2 43 4-9 2-34 2 4 3 26 5-31 1 52 4-10 1-39 1 4 1 40 4-39 3 34 4 9 3-39 1 32 4-33 0 2 2 29 3-29 2 33 4-37 0 36 4 8 3-45 2 41 1-42 4 41 4-48 4 51 0-45 3 36 1-40 4 52 2-40 3-12 2 49 3-3 1-54 3 56 2-42 3-2 3 40 4-37 2 37 4-44 2 52 2-53 1 53 3-10 2-36 3-7 1 58 3-54 5 44 0 3 2-44 5 5 0 41 6-40 1 38 2-7 1-38 3 41 5-39 3 51 0-48 3 33 2-32 3 39 3-57 1 49 4-35 1 9 1 35 4-52 2 49 5-36 2 34 1-2 2-44 6 53 2-50 1 1 2 39 3-42 1 43 7-40 1 53 0-7 2-45 3 47 4-53 1 4 3 36 3-28 1 32 4-58 3 63 4-31 1 35 1 6 5-56 3 7 1 45 1-2 3-49 4 6 2 41 4-43 1 50 3-2 1-50 6 44 1-40 0-1 4 34 4 10 0-52 2 10 1 32 5-7 2-26 2 31 2-38 6 41 1-30 3 1 1 38 4-42 2 44 1-53 2 55 5-3 2-43 3-1 3 27 0-27 3 34 2-51 0 57 6-54 1 49 5 3 2-53 2 54 2-36 4-16 1 38 2 17 3-53 5 5 1 39 2 4 3-39 1 38 1-40 5 42 2-57 2 20 4 34 4 17 1-52 1 43 2-45 3 49 3-43 3-15 3 51 2 0 2-59 3 65 2-51 4-13 1 45 2-26 1 32 5 12 2-46 2-14 3 53 4-50 1 42 4-34 3 48 2-57 1 47 3 2 3-38 2 36 3-34 2-10 3 42 4-43 1 46 3-45 1 37 2 8 0-41 8 11 1 24 3-36 1 44 4-60 0 45 6-30 1 37 2-2 1-35 6-5 1 45 3-37 0 43 4-2 4-47 1 53 2-49 2 0 3 53 3-13 4-32 3 40 1-57 3 16 3 35 1 16 1-68 6 60 1-46 1-8 5 38 1 6 3-47 2 14 2 29 2 15 3-39 3 26 3-27 2-10 1 35 5 7 3-36 0 40 3-48 5 2 1 40 1-34 2 41 5-44 1 31 3-25 2 33 2 2 1-41 6 37 1-34 4 35 2-46 4 49 1-39 3 35 2-31 2 41 1-45 4-2 2 43 2 0 0-37 6 29 2-30 3 3 0 36 6-7 0-29 3 34 4-50 3 58 2-56 2 49 3-38 1 34 3-35 2 0 2 49 6-52 0 33 2 3 5-32 2 26 0-33 5-3 1 37 4-23 2 33 2-5 2-43 5-1 1 42 5-35 0 32 4-35 0 49 2-46 4 57 3-27 2-25 2-8 3 34 2 6 1-31 7 46 1-49 3 44 2-51 0 4 1 42 7-6 1-34 3 46 1-47 3-17 2 54 4-8 1-36 4 44 2-42 3-10 2 54 2-12 2-26 4 1 1 41 3-52 3 43 2 4 3-45 3 44 2-43 5-12 0 38 3 13 2-52 1 10 1 40 6-34 3 33 0 7 2-41 6 8 1 27 1-30 4 36 3 4 1-57 4 52 2-47 2 13 3 32 1 6 1-42 7-20 1 49 4 12 1-40 1 38 2-35 5-7 1 42 5-1 2-36 2 44 3-50 1 37 2-39 2 9 3 36 5 1 2-34 2-9 0 45 6-42 1 48 2 1 1-48 5 38 2-31 2-14 1 52 4-41 3 31 1-1 4-44 2 38 3-34 3-5 2 45 2-36 1 55 3-16 3-47 3 55 2-49 3 55 4-54 1 36 1-29 5 43 2-36 2 26 4-42 4 8 1 46 2-54 1 41 5-5 1-40 3 49 2-47 1 13 3 29 3 15 2-48 3 38 4-26 1 24 3-31 4 37 0-40 5-7 2 37 1 13 2-39 3-30 3 66 3 3 0-43 6 36 2-27 0-12 5 42 3-42 1 39 3 0 2-43 1 31 4-29 3-1 1 36 3-34 0 35 8-39 1 40 2-40 2 26 2 16 1-33 4 23 2-34 4 4 1 35 4-49 3 53 1-1 2-32 5 32 0-34 4 27 2-30 1 6 5 38 1-41 3 38 3-2 2-35 3 37 1-38 4-5 3 50 0-13 2-27 4-8 1 55 5-23 2-38 2 9 2 34 6 0 1-34 1-3 3 43 2-1 1-43 3-2 2 45 3 4 3-44 4 39 1-37 3 0 3 37 3-35 1 45 3-1 3-61 1 57 4-49 4 43 1-43 2 6 0 34 8-36 1 44 0 1 3-46 3 30 3-61 3 66 2-36 5 2 1 38 0-32 4 30 2 5 2-43 4 35 2-34 1 41 2-32 5 3 1 33 3-11 3-32 2-10 4 53 1-61 3 69 2-52 3 44 3-39 2 34 3-40 1 40 5-10 1-34 2 3 2 30 5 13 1-37 4-12 1 42 2-22 3 28 1-38 2 35 4-43 1 35 6-23 0 32 4 9 2-50 3 6 2 39 4-36 1 42 3-10 2-44 2-3 4 42 0-39 2 45 4-34 1 40 3 2 2-44 4 44 1-54 6-5 1 50 2-42 1 39 3 7 3-39 4 35 2-43 2 39 1-39 3 11 1 26 5 6 2-46 4 18 3 31 2 1 1-49 2 7 2 46 5-32 1 26 3 0 4-44 2 9 2 45 2-53 2 39 2 8 4-40 1-4 3 34 2-26 3 28 3-42 3 50 2-5 3-29 4-6 0 43 4-4 1-34 5-4 1 40 4 5 1-52 3 13 3 38 1 0 1-38 4 18 2-18 2 42 2-48 3 36 2-35 3 42 3-39 4 30 2-35 2-4 1 38 4-39 1 42 4-43 1 41 4-30 3 42 4-48 1 33 1 14 4-48 2-5 1 50 5-19 0-25 3 47 4-38 2 28 3-46 2 12 2 32 3 7 1-54 4 48 2-43 3 10 2 30 4 15 1-41 4-11 3 43 3-38 1 45 4-56 1 34 4 9 0-45 5 53 1-37 1-4 3 39 4-42 0 38 3 11 5-43 1 31 1-33 3 40 2-43 5 25 1-31 5 52 2-39 2 36 2-39 5-8 1 44 4-36 1 40 1-44 3 44 4-48 1 55 3-13 2-40 5-2 1 46 1 9 3-49 3-5 1 47 4-40 3 41 2 0 0-44 5 38 1-26 2-10 4 47 3-53 2 40 1 4 1-29 4 38 4-39 2-12 1 43 7-48 0 50 1 5 5-45 2 4 1 43 3-20 3-32 3 0 3 36 0 11 2-42 7-10 0 46 3 0 1-39 5 39 0-41 3 3 3 43 3-10 1-31 2 43 3-55 2 55 4-47 1-4 2 41 3 10 1-54 7 57 2-43 0 31 1-42 6-7 1 59 4-15 2-40 1 8 4 44 2-42 1 45 4-12 3-32 4-1 1 44 3-7 1-46 3 3 1 32 3-24 2 32 4-32 3 45 1-40 2 27 6-34 1 43 1-47 2 42 6 3 1-35 2-7 2 35 4-36 0 42 5-37 1 37 2 3 3-37 4-6 3 30 0-36 3 39 3-4 3-30 5 3 1 37 0-5 1-34 4 41 4-39 2-6 2 34 4-5 1-22 4-13 2 59 3-12 2-27 4 49 2-56 1 33 2-41 5 3 0 38 4-10 2-35 3-1 2 53 3-4 1-43 4 7 2 25 4 11 1-44 1 39 2-42 4 7 0 26 5 14 2-47 3 44 2-45 4 13 0 33 3-41 2 45 6-43 1 47 2-46 2 33 3-3 3-26 1-3 3 29 2-30 0 35 5 9 1-52 5 13 3 35 1-4 1-31 4-6 3 37 6-4 1-26 2 31 0-32 4 26 2-30 4-7 2 41 4 5 1-45 3 0 2 43 3 13 3-49 0 40 2-48 5 35 1-37 5 43 1-37 4 2 0 39 5-2 1-38 4-7 0 38 3-32 0 35 6-34 2 38 3-37 2 45 1-20 3-24 4 1 1 32 4-39 3 39 2-9 2-30 2-2 3 39 1-3 2-28 6 32 1-48 1-3 1 56 5-48 3 48 1 11 4-52 1 26 4-23 4 0 1 24 1 5 3-29 3 40 2-34 3 27 2-36 3 37 3-33 1-7 3 30 3 4 0-46 7 4 1 48 2-33 3 36 2-16 3-35 4 42 1-34 2 36 2-34 2-10 2 46 5-5 1-39 3 17 3 33 4-39 2 31 1-27 1 35 5-41 1 50 2-70 0 58 8-30 1 24 3-1 2-31 3-6 0 43 5-1 1-35 5-8 0 49 4 0 2-32 3 40 1-46 6 32 0-34 3 0 1 39 3-43 4 43 0-4 3-30 3 31 3-35 3-10 1 50 5-35 1 23 3 3 1-31 3 38 3-45 4 48 2-42 2 32 3-31 3-8 1 45 1 6 2-47 6 3 2 43 3-5 1-45 4 9 0 43 3-49 1 39 5 3 2-53 4 4 1 43 3-2 1-40 4 36 1-37 5 40 0-36 4 45 1-39 3 36 2-45 3 16 2 34 2-4 4-40 1 36 3-42 5 11 2 43 1 5 1-60 3 48 4-26 1 29 0-25 7-26 2 53 3-9 2-35 5 2 0 33 3-41 2 32 1-18 2 29 5-41 2 44 1-47 1 52 6-39 3 39 1-34 1 30 4 3 3-35 1 33 3-33 3-5 3 37 2-4 4-36 2-3 2 55 2-7 1-48 3 38 2-32 4-1 2 39 2 5 1-45 6-9 2 59 4-14 0-32 2-6 3 36 4-26 2 31 3-33 2 34 2-47 1 39 3-1 3-30 5-3 2 39 1-41 0 51 6-51 2 40 2-34 3 32 1 15 4-68 3 12 2 40 3-38 2 25 2 14 1-41 6 40 0-38 5-5 2 49 3-5 1-36 1-13 4 47 2-34 1 48 3-47 2 49 6-18 1-43 3 51 1-32 4-9 1 40 5-8 2-31 0 22 3-18 2 32 3-43 2 48 4-51 3 13 1 30 5 2 1-45 3 55 2-47 2 43 2-58 2 8 3 53 5-7 2-28 1 24 1-37 3 44 4-34 4-9 2 31 1 2 1-20 3 34 2-39 7 46 0-60 4 11 2 41 1-33 1 37 4-49 1 41 5 5 3-48 2-5 1 47 3-24 1 43 6-7 1-51 3 1 2 30 4 9 0-38 3 38 2-39 3 1 3 28 2 7 3-52 1 7 4 33 1 5 1-25 5 27 3-37 5 10 1 22 0 5 2-31 3 2 2 21 3 15 4-40 2 45 1-40 6 53 2-80 0 55 3-29 5 49 0-46 3 29 2-47 4 0 0 50 5-37 0 42 6-29 1 27 5 0 0-33 1 30 3-40 4-7 0 39 4-31 3 48 2-46 1 51 6-3 2-49 0 6 5 31 0-43 5 45 1 3 3-35 1 31 2-43 4 43 3-29 1-4 1 36 7 2 1-43 3-9 1 48 2-40 1 47 4-6 4-25 3 30 1-48 5 50 0-40 2 35 3-45 4 1 1 34 5 1 0-44 4 45 3-34 2 32 0-27 6-8 1 51 1-10 3-36 4 34 0-31 6 40 1-39 4-4 0 38 5-1 0-29 3 33 1-30 5-11 3 47 0-42 1 29 6-29 1 35 3-3 3-38 3 33 2-33 1 35 1-39 7 43 1-39 4 34 0-31 3 9 1 21 3-1 1-35 6 9 2 36 4-8 2-34 2 30 2-40 1-3 2 51 5-34 1 28 2-38 3 47 3-47 3 37 3-25 1 26 2 7 2-49 6 14 0 29 2-2 1-39 4 45 4-41 1 38 1-37 4 39 1-35 5-5 3 42 3-45 1 45 3-35 3 43 3-6 1-43 3 1 3 42 3-8 1-36 4 7 2 30 4 23 0-63 6 37 0-44 3 8 2 51 1-14 2-24 5 33 1-44 4 6 2 27 2 11 1-39 7 28 0-34 2 36 3-37 2 1 1 27 6 11 1-30 2 43 2-51 3 55 3-43 2-10 1 42 5 7 2-53 5 47 1-52 1 55 2-46 4 42 1-40 6-10 1 43 2-33 2 42 2-40 3 38 2 4 2-44 3-5 1 45 3-36 2 32 6-27 1 30 4-32 1 37 5 14 1-46 2-9 1 26 2-27 2 34 3-33 1 41 5-11 2-40 4 43 1-27 4-15 2 50 3-51 2 51 1-43 5 44 2 2 1-52 4 48 2-48 1 9 3 28 5 4 2-35 1 56 3-58 3 39 1-39 4 9 1 37 4-10 3-32 2-5 2 51 3-45 0 43 7-13 0-27 3 35 1-48 5 41 0-34 3 4 1 27 6 11 0-42 3 42 3-38 3 41 0-33 6 32 0-47 3 37 3-33 2 10 3 34 4-39 0 34 3 1 2-32 5-4 0 42 5-56 1 60 2-11 1-40 3 6 2 35 5-41 1 46 2-43 3 39 3 15 1-62 4 51 0-40 7 35 1-35 3 43 2-35 2 31 3-37 2 26 2-28 4-13 2 46 1 8 2-40 5-18 0 47 5 8 2-47 2 5 3 40 4 5 1-41 1-2 5 35 0-38 1 46 5-11 0-28 4 36 4-38 2 48 1-62 4 53 2-54 2 2 2 43 4-41 3 44 3 4 2-43 4 1 0 42 4 12 2-49 3 3 3 27 4-28 0 37 3-45 2 45 1-52 2 53 3-6 2-38 5 34 1-35 5 11 2 27 3-44 2 53 3-39 0 41 3-57 2 46 2-38 4 45 1 8 2-47 7 28 1-37 2 9 3 46 0-56 1 58 5-9 1-50 3 8 3 30 2 8 4-43 3 41 1-38 3 35 1-42 6-8 1 51 2-30 1 26 3-1 3-30 5-5 0 35 3-27 4 28 2 10 2-39 4 36 0-34 3 34 3-38 5 29 1-41 2 43 2-25 2-10 3 35 3-39 3 42 0 2 1-34 4 40 4-52 3 53 1-48 2 41 2-41 3 48 4-42 1-20 2 41 3-21 2 40 3-59 3 54 2-38 1 29 4-29 1 34 6-45 1 50 3-53 2 39 4-32 2 59 2-12 1-39 6 44 1-47 2 45 3-44 4-1 0 35 3 11 3-38 1-17 4 47 1 1 1-42 4 3 2 42 4-52 3 38 2 6 3-36 3 10 2 21 3-25 1 27 3-27 3 35 1 4 3-37 4-3 2 40 1-46 1 58 4-21 3-35 4 37 0-36 5-5 3 32 2 9 2-43 1 0 0 39 6-27 0 36 6-47 2 55 2-43 2 32 4-33 3 41 2-5 1-36 4-12 1 44 3-33 1 35 3-33 2 23 4-29 0 44 6 2 2-44 2-6 3 43 5-38 0 42 5-3 1-40 2 12 1 34 5-6 2-26 1 28 1-34 4 40 3-56 2 6 1 52 6-51 0 36 2 4 3-32 2-7 3 37 2-29 3 49 4-10 1-49 5 41 0-34 3 35 3-31 2 25 1-44 4 45 2-42 3 16 0 25 7 8 1-42 1 43 2-42 5 48 2-45 4 4 1 44 5-23 0-34 2 46 2-39 4 44 2-50 3-2 1 40 3-33 2 33 4 0 2-33 3 33 1-30 2 30 1-41 6 46 1-44 2 51 2-39 4 28 2-32 3 8 2 33 5-40 1 31 3 4 2-45 5 37 0-42 1 37 2-43 3 47 1-34 6 3 0 42 3-50 5 48 4-39 0 51 1 10 2-70 6 10 1 33 2-40 0 42 5 4 1-38 5 49 2-51 3 38 0-30 3-4 4 49 2-10 1-45 5 39 1-42 2 31 3-25 3 31 3-39 3 0 0 39 4 17 3-53 4 14 0 27 2-33 5 24 3 7 1-40 3 42 2-29 1 37 3-45 3 3 0 31 7-36 1 54 4-64 0 56 5-38 1 51 3-51 1 39 2-41 2 38 4-5 2-31 4 3 1 44 4-46 1 34 6 19 1-58 1 57 2-52 2 0 5 38 0-1 4-37 3-14 3 52 3 2 1-52 3 61 2-49 1 30 2-42 5 49 2-52 5 53 1-29 4 35 1-53 1-5 3 53 4-44 0 47 3-44 1 27 5-44 0 48 5-33 1 37 6-42 0 47 1-8 3-50 4 5 2 49 2-7 3-26 2 1 2 43 5-54 1 37 3-29 0 38 3-42 2 47 3-51 4 39 2-6 3-26 3-14 1 52 3-43 2 42 4 2 1-40 2 22 3-27 5-8 1 51 1-42 3 52 3-50 2 38 2-47 3 50 4-44 0 41 4-34 3 35 3 1 3-45 3 4 1 60 3-48 1 40 5-52 1 36 2 1 4-29 2-6 1 39 3-46 3 39 2-35 3 31 2 2 3-45 2 7 2 41 5 3 1-29 2-1 3 29 2 6 4-52 1 49 0-38 6-6 1 47 2-45 2 33 5 1 0-26 6 0 1 47 3-11 1-50 2 19 2 42 6-45 1 29 4-41 1 30 2 11 3-39 2 35 2-41 4 7 2 33 4-38 1 40 5-2 0-39 3-4 2 43 5-34 0 28 4 8 1-42 1 3 1 36 5 8 3-40 2-1 0 35 6-36 1 39 2-32 3 37 3 0 1-36 4-14 1 55 5 1 1-45 2 35 1-37 5 42 1-33 4 25 2-31 3-2 1 44 5-15 2-23 3 33 1-43 5 40 1-40 1 40 3-38 4 8 0 30 3-35 4 38 5-32 0 32 2-31 1 44 5 11 1-61 6 49 1-63 1 68 2-55 3 9 1 31 5-4 2-20 2 23 2-32 2 18 5-61 0 57 5-71 2-10 3 43 1-4 3 53 3-2 1-35 2-10 3 39 3-24 2 30 5-27 2 31 1-31 3 46 1-2 4-52 5 40 0-34 3 45 1-40 3 32 0-38 8 37 1-40 0 40 2-45 5 48 1-43 5 45 1-35 3-11 1 48 4 3 0-50 5 39 0-45 4 12 2 30 4 6 1-50 4 12 2 38 2-41 2 46 2-38 3 32 3-45 2 50 2-45 1 40 8-44 0 45 4-41 0 31 3 1 2-33 3 60 1-55 4 31 0-36 6 35 3-25 3-17 1 47 1-9 0-36 7 53 1-47 6 56 0-57 3-7 1 33 4-32 1 46 2-36 2 28 5-36 0 40 3-37 3 38 4-41 2 47 4-47 0 52 4-49 0 66 6-26 1-38 1 35 1-33 6-10 0 50 4 0 2-41 4-4 2 44 4-49 1 52 4-8 0-38 5 3 1 48 3-48 1 38 3 5 0-54 6 10 2 35 4-32 1 44 5-45 0 33 3-35 2 41 3-35 2 37 4-33 0 37 4-4 0-47 3 5 1 40 5 13 3-48 2 29 1-33 6 35 1-36 2 40 3-41 2 29 1-30 4 5 3 43 4-67 1 57 3-7 3-35 2 48 2-47 3 39 1-41 2 2 2 36 5-4 1-26 4-1 2 44 1-33 3 46 3-52 2 26 4-30 2 33 1-6 4-24 3 37 2-47 2 53 3-46 3 39 1-39 3 8 1 48 4-15 1-34 3 24 5-31 0 0 3 33 4-33 2 33 1-31 2 29 4-28 3 35 2-45 3 49 2-44 2 32 3 1 2-37 3-5 2 69 3-5 0-52 5 28 2-32 4 37 1-29 2 34 2-38 3-6 3 40 6-33 0 49 2-8 3-42 2 33 0-38 5 36 2-48 3 12 2 49 3-53 1 37 6-27 0 31 3-31 1 50 4-10 2-40 4 30 0-38 5 38 0-28 5 29 2-35 3-1 1 59 4-67 3 45 0-38 3 59 3-52 1 46 5-46 1 32 3-40 2 40 6 9 1-50 2 4 2 38 2-36 1 37 4-5 3-38 2 38 1-38 5 39 2-28 2-10 2 36 4-39 1 45 3-43 3 52 3-49 2 34 1 0 3-25 4-18 1 52 5-6 1-37 4 0 2 36 2 8 3-37 1 40 1-41 3-2 5 34 0 1 2-29 3 26 3-37 4 37 1-32 3-6 2 39 2-35 4 36 4 1 1-42 2 44 0-45 7 44 2-41 0 40 1-41 4 11 4 22 2-33 3 39 3 3 3-46 2 39 0-37 5 2 3 36 2-39 3 39 1 2 0-35 5 2 1 34 5-4 1-30 4-5 2 47 2-39 3 38 2-42 1 45 3-39 3 34 2 14 4-55 2 38 2-43 4 53 1-48 5-8 1 42 1-5 1-32 4 40 4-31 2 36 1-50 4 17 2 44 4-47 2 30 1 0 3-28 3-8 3 38 2-39 2 41 2-37 2 31 3 4 4-43 3 3 2 42 2 3 2-37 3-3 1 35 5-38 2 33 2-29 3 34 5-31 0 31 5 3 0-53 2 2 3 51 1-7 5-28 2-26 2 67 4-18 1-34 3-13 2 56 4-47 0 47 3 6 2-43 4 39 0-37 6 29 1-30 1 42 5-41 0-8 2 42 4 0 2-40 4 37 1-34 2-2 3 39 2 7 4-48 2-1 4 37 1-30 3 30 2-26 1 32 5 0 2-32 5-5 1 47 0-2 4-43 3-14 2 56 2-43 3 35 2-2 1-47 4 10 4 57 0-11 3-35 6-5 1 34 1 10 3-48 4-5 1 57 1-49 2 41 7 4 0-44 1 2 3 39 4 10 3-58 2 50 1-49 3 45 2-46 2 3 1 51 5-19 1-29 3 29 3-30 3 2 3 27 1-34 3 32 5 11 1-37 1 27 1-32 7 35 2-36 1 10 2 41 5-49 0 36 3 10 1-45 5 11 1 29 3-39 2 44 2-41 3 28 4-40 3 49 2-2 1-33 3-6 3 37 5 31 0-72 3 50 0-37 5-12 2 43 3-2 0-36 4 37 4-40 1 33 3-34 1 2 4 31 4-41 2 37 1-41 1 47 5-34 1 41 4-7 1-27 6 3 0 38 3-3 1-44 6 42 0-48 1 44 3-46 5 7 2 50 1-39 1 37 4-35 3 29 2 4 2-46 3 40 4-37 1 7 0 34 6-40 2 40 3-2 1-40 2 40 2-34 3-7 1 39 5 11 3-50 2 49 2-45 4-3 2 38 2-3 3-39 3 55 2-50 2 7 2 32 4-35 1 24 4 8 3-46 1-1 0 57 6-55 2 43 3-41 0 32 5-25 1 33 2-31 4 24 4-42 1 50 2 1 3-38 3 5 1 25 4 4 2-38 3 32 1-43 4 50 1-33 3-7 0 34 6-28 1 32 5 13 1-44 4-5 0 37 3 5 2-47 2 34 2-25 3-9 3 39 5 5 0-27 5-27 1 56 3-1 3-46 1 52 1-47 4-11 1 49 4-41 3 46 3-38 0 44 3-37 3 39 2-3 2-36 3-12 3 44 4-1 0-41 5 7 1 37 3-2 0-34 4 21 4-43 2 46 0-31 5-10 2 53 5-6 1-37 3 33 2-28 4 2 2 31 0-8 5-37 4 49 1-45 0 5 1 41 6-2 2-55 4 52 0-44 3 48 0-39 5 41 2-48 4 3 2 35 4 6 0-33 3 38 1-36 4 2 4 38 2-4 1-38 4-6 1 43 3-39 1 33 4-41 1 41 4-37 2 31 3-34 2 48 4-37 0 33 6 8 0-47 4 38 0-38 5 33 3-42 0 6 2 48 5-45 1 32 3-42 1 47 3-3 2-34 3 40 5-45 1 5 2 31 3-33 1 25 5 6 2-27 1 29 2-41 3 2 5 39 3-30 1 29 2-34 3 30 2 7 2-33 3 2 0 33 4 4 5-41 1 0 3 37 3-39 1 44 5-5 1-27 1-3 2 26 6-42 1 44 1 1 1-31 7 32 1-33 2-1 3 34 1-34 1 40 5-39 1 46 3-69 1 58 5-28 3 26 4-36 0 36 2 1 2-32 3 40 0-44 8 12 1 23 4-39 1 49 2-46 2 49 3-36 1 37 5-46 2 32 3-41 1 45 3-39 1 34 4 3 0-40 6 43 3-47 0 12 4 37 3 1 0-49 6 49 1-38 2 25 1-34 3-1 2 41 4-43 1 35 6-1 1-34 2 9 0 22 4 9 3-40 3-6 0 41 6-32 2 38 1 11 2-33 4 39 2-44 4 41 2-54 1 12 3 43 2-36 5 41 1-58 0 46 4-33 2 30 6 2 1-36 2-4 4 34 1-21 3 30 1 2 2-40 6-4 1 35 2-51 1 56 3-34 3 44 4-67 0 58 6 19 2-59 4 37 0-39 4 45 1-45 3 13 2 29 1 1 3-52 2 57 4-48 1 30 3-27 2-2 2 42 5-7 1-39 2 2 1 41 7-10 1-33 2 49 2-50 3 4 2 27 2-42 2 41 5 1 0-21 5 25 2-37 2 9 2 43 3-55 1 36 5-23 1 34 5-41 2 39 0 1 2-43 4 38 2-35 2 38 3-31 2 44 2-49 3-1 3 35 2-33 1 31 8-29 0 40 2-46 4 48 1-57 3 51 3 4 0-52 6 54 1-45 2 31 1-31 5 38 0-52 6 16 2 36 2 0 2-43 2 36 2-27 3 44 4-52 0 9 3 33 3-41 3 40 1-2"/>
<path class="ln" stroke="#9467bd" d="M1002 4858l1-52 2 4 4 60 4-4 1-50 4 46 1-37 2-9 1 47 4-6 2-53 4 4 2 67 1-65 3 53 5-54 1 48 4-36 1 47 1 0 2-56 6 6 1 49 3 6 2-60 3 1 2 68 3-73 1 49 5-35 0 44 2-3 1-61 5 67 1-51 4 46 1-40 5-12 2 53 1-1 0-46 5 55 1-54 6 0 2 49 1-9 3-33 2 43 2-52 3-6 2 68 5-16 0-43 3 35 0-40 6 45 1-44 4 6 2 51 4-13 1-51 4 46 1-46 3 58 2-48 3 48 1-54 5 47 1-45 2 46 2-55 5 0 1 50 5-55 0 48 4 8 0-52 6 3 1 48 2 9 1-54 6-13 0 57 2-13 3-32 3 5 1 31 4-32 2 35 3-20 1 24 3 7 2-54 4 9 2 47 2-7 4-48 4 52 1-49 5 45 0-40 2-11 3 51 2 1 3-53 1 58 3-51 2 58 1-58 5 59 2-64 4 2 0 54 3-54 0 63 8-7 1-43 2 40 3-36 3 2 1 42 3-3 2-40 5-9 1 49 5 4 0-51 2 41 1-41 6-8 2 59 2-8 1-41 3 35 3-59 2 69 1-53 5 0 1 41 4-40 2 49 4-52 0 53 3 11 1-51 4 47 2-48 3 1 1 43 6-44 2 49 4-66 0 88 3-73 1 32 3-29 4 41 0 2 2-59 6-2 1 74 3-21 1-38 4 56 0-56 3-5 4 47 3-57 1 61 4 15 1-62 5 30 0-38 2-13 4 66 3-60 0 62 4-55 1 57 3 8 4-59 1 73 4-66 3 50 1-66 5 13 1 38 3-38 1 52 4-52 2 54 2-4 0-57 4 2 2 68 6-23 2-35 0 34 0-46 6 9 3 44 4-46 1 43 3-48 0 67 4-66 1 47 4-41 1 46 3-53 3 64 3-24 3-30 4 52 0-65 4 10 3 44 0-4 5-54 3 46 0-57 2-7 4 69 4 6 1-56 5 7 0 37 2-44 0 70 8-81 1 59 1 14 2-44 4-6 1 42 4-59 2 56 2 6 3-55 4 52 0-48 5-3 2 50 4-8 0-39 3-8 2 73 3-62 2 31 2-27 4 43 4 10 0-51 2-8 2 50 3-12 1-40 3 51 4-60 2 72 2-67 4 57 1-48 2 44 4-44 1-12 4 52 4 5 1-50 1 56 2-60 3 47 1-43 7 7 1 45 1-5 2-44 6-13 0 66 2 10 5-71 0 47 2-28 5-3 1 43 3-10 1-45 5 4 2 71 3-31 1-38 4 50 2-48 2-5 3 65 3-29 1-29 4-1 2 45 2 12 1-63 3 43 1-56 7 61 1-45 3 52 2-68 3 7 1 67 3-14 4-80 0 84 1-55 7 51 1-58 2 48 4-42 0 41 1-47 7 4 1 59 4-54 2 48 1-50 3 41 2-38 1 39 6-51 1 52 2-6 2-38 2 47 4-52 2 45 4-48 0 65 3-47 2-4 4 47 3 0 0-67 4 17 0 53 5-3 1-46 6-4 1 64 4-70 1 60 4-8 1-46 1-6 4 51 4 4 1-54 5-7 1 54 1-50 4 54 2-43 1 55 2-20 3-46 3 62 1-66 3 6 2 51 5 3 2-46 4 61 1-60 1 40 2-52 4 18 4 38 0-2 4-48 2-5 2 49 3 1 2-70 4 75 2-47 2 41 1-37 4 39 0-50 4 9 4 40 3-4 2-48 1 19 1 41 4-51 2 43 5-45 2 49 1-51 1 52 4-13 1-39 5 7 3 32 4-50 1 50 2-30 1 31 5 10 1-40 2 51 4-48 1-9 3 43 3 1 2-46 2 48 4-61 1 66 4-63 2 12 2 66 6-59 0 44 2-37 2 47 6-57 1 37 2 18 1-61 2 6 2 50 6 5 2-53 1-15 4 52 0-37 3 36 3 8 2-49 5 60 0-52 2 57 0-57 7 1 3 39 3-49 0 44 2 21 3-62 2 55 2-63 5 66 3-56 0 46 4-50 1 47 2-45 6-21 1 57 3-6 2-39 3 54 0-46 3 59 2-60 4 49 2-47 6 42 0-26 3-9 2 43 4-38 1 44 2-50 2 38 4-48 2 57 5-12 1-44 1 61 1-64 4 4 1 49 5-92 1 82 5 19 0-56 2 4 1 45 8 4 1-59 2 72 2-74 3 2 1 53 3-13 2-35 3-5 4 47 0 18 1-62 4 64 3-70 4 58 2-62 2 13 0 43 4 4 3-50 6 64 1-61 2 4 3 64 0-9 0-48 6-14 0 38 7-42 2 57 3-77 0 73 2 10 0-53 6-8 3 63 2-62 3 47 1-54 4 62 2-12 2-42 4-10 1 61 2-3 3-49 2 55 2-43 3 34 4-54 3 16 2 54 5-68 0 58 4 16 2-80 1 16 3 35 3-47 0 56 4-51 1 56 7-49 1 39 3-36 0 48 4-58 3 60 1-71 1 72 5-54 0 45 6 9 1-43 3 36 1-49 6-3 0 50 3 12 0-48 3-10 2 56 4-1 1-42 4-12 2 46 4-7 1-36 6 46 1-49 0 43 1-46 4 52 3-59 2 59 3-58 3 2 4 55 1-55 2 59 6-8 1-56 3 48 0-61 2 61 0-39 8-7 0 48 4-49 2 53 3-44 1 51 4-43 1 44 2-3 5-44 0-7 5 55 1-52 3 42 3 5 1-55 6 52 1-54 3 72 1-62 3 52 1-57 3 52 2-60 4 8 3 61 0-10 1-44 5 2 3 47 2-57 2 76 4-8 3-61 3 3 1 50 4-6 1-35 4 24 1-39 2-1 3 45 1-58 1 74 4-61 4 43 5-46 1 49 3-10 2-36 1 62 3-68 2 57 0-58 6 50 2-36 2 0 4 37 3 13 2-69 0 62 4-48 4 39 2-39 2 44 2-24 1 25 3-44 6 54 0-72 3 65 1-52 4 55 1-50 3 51 1-58 4 67 3-66 2 44 2-43 3-3 2 47 2-52 2 47 6 1 2-40 1 49 1-59 5 75 2-59 4-5 1 56 3-4 1-48 2 35 1-38 7 10 0 34 2-36 0 38 7 3 2-38 1-1 3 31 4 16 1-65 2 73 5-59 2-9 3 61 0-9 2-57 5 19 2 38 2-53 2 58 2 3 3-55 4 62 1-61 2 0 4 41 4 7 0-50 4 8 2 43 1-44 3 35 2 19 2-55 6 4 1 40 2-3 3-50 2 47 2-43 4 45 2-54 2 68 3-62 3 61 1-50 2-6 0 42 5-47 3 55 2 6 2-52 4 6 3 41 3 2 0-52 4 2 3 40 2-48 2 59 4-7 2-61 3 56 1-43 4 41 2-49 5 57 1-59 3 68 0-60 3 53 1-50 4-9 2 57 5-48 1 30 3-28 0 36 3-46 3 54 4-6 2-50 2 67 3-72 3 52 1-25 2 47 3-58 3-9 3 67 5 1 0-74 1 9 1 61 5-3 4-42 1 34 3-39 3-9 2 45 2 1 2-46 5-3 1 51 1-52 2 54 3 6 4-45 1 51 2-59 4-5 3 53 1 1 3-55 2-7 1 66 6-62 2 74 2-71 1 56 3-67 1 70 7-51 0 42 4 17 1-62 4 8 0 33 4-41 1 56 3-14 4-38 3 60 2-79 1 60 1-49 5-2 3 64 1-47 2 40 7-50 0 55 3-48 1 50 3-50 1 42 6-15 0-31 3 38 2-47 3 50 2-44 3 4 3 52 4-46 0 26 3-39 1 35 4 6 1-52 5 65 1-38 3-8 2 40 2-12 5-39 1 6 2 51 3-2 4-48 4 47 1-50 0 49 3-50 4-2 1 43 4 7 3-43 3 55 2-65 2 56 1-46 5-9 0 71 3-9 3-52 4 45 0-55 2 64 5-66 2-9 1 57 3 2 4-39 1-5 1 44 3-42 2 46 5-13 1-52 4 67 2-54 4 0 0 46 5-4 2-32 0-1 1 51 7-70 1 73 1-11 5-43 0 56 2-52 3 9 5 39 2-50 2 54 1 11 2-68 3 64 2-67 3 1 3 59 3-8 3-48 5-6 1 67 0-69 3 79 2-83 4 59 2-47 2 43 5-53 0 58 3-71 1 64 6-41 0 39 5-31 2 37 3-1 0-49 3 53 1-47 3-4 4 58 1-64 5 42 2-48 2 55 3-47 2 40 1 15 3-55 4-8 3 64 0-20 4-37 2 44 3-38 3 44 3-55 1 68 1-55 4 46 4-46 1 2 2 48 3-1 2-58 4 5 1 58 3-9 2-69 3 77 2-53 5 45 0-44 3-16 1 68 5-3 2-61 3 7 0 61 4-68 3 54 4-48 0 50 2-45 1 47 6 5 2-61 2 46 3-54 4 18 1 49 2-1 3-46 3 54 0-60 4 48 2-37 4 36 2-64 3 11 1 44 3-36 1 57 5-56 2 56 2-61 2 55 6-4 1-55 4 51 0-51 4 55 2-52 2 53 1-48 2 7 1 48 4-41 2 28 3 4 3-48 5 5 2 54 1-5 4-49 1-4 1 41 6 10 0-51 3 49 3-46 2-4 2 76 3-26 1-59 5 13 1 59 4-68 1 49 5 5 1-37 4 39 1-58 2 75 1-79 6 66 2-47 0-20 4 51 4 3 1-57 4 22 2 34 2-35 1 36 3 8 1-51 5-5 3 57 4-58 0 47 4 16 2-66 3 20 1 35 1-32 1 60 6-17 1-47 3 38 3-38 4 44 2-62 1 55 0-37 4 48 2-50 5 44 1-60 2 60 4-41 5 36 0-51 1 4 2 47 5-41 2 39 2 16 1-64 5 52 0-55 3 61 1-63 5 64 1-54 6 7 1 67 4-30 1-40 1 41 1-55 6 55 2-42 2-6 1 43 5-47 1 43 4 4 2-51 2 37 2-38 3 10 0 53 5-54 1 32 3-30 3 42 4-60 2 77 4-51 1 44 1-56 1 58 5-14 4-53 3 15 0 39 4-51 0 59 6-46 1 43 1-53 4 51 1 27 3-77 3-10 1 62 7 3 0-54 1 48 4-54 4 3 1 66 3-15 1-42 2 6 1 41 5-45 3 64 2-70 3 60 3-4 1-55 3 59 1-47 4 44 0-45 6-18 2 55 2-3 1-40 5 3 1 37 4-44 1 60 5-58 0 46 3 0 3-54 1 58 5-61 2 57 2-44 1-16 0 61 8-2 1-37 4-21 0 70 3-25 4-49 1 64 0-51 5 1 3 51 3-2 2-58 3 54 3-42 1-28 1 80 4-64 2 53 4 12 3-55 3-6 0 53 3-54 0 61 4-17 5-44 1 7 3 46 4 5 1-44 2 57 2-81 2 6 3 48 4 2 1-52 2 5 2 42 4 23 1-68 3 77 2-69 5-20 1 72 4-54 1 51 2 2 1-50 4 23 1 35 4 12 3-77 4 57 1-47 4 62 2-61 4-1 1 51 5 1 0-66 1 57 4-49 3 44 1-48 6 62 0-44 3-14 2 54 2-60 1 65 4-50 1 53 5-70 1 60 4-34 1 46 5-53 1 62 3-63 2 37 1 10 2-58 6-6 1 67 2 8 4-55 0-19 3 59 3-48 1 45 6 12 1-62 1-17 3 79 2-59 4 43 4-45 2 51 2-9 2-38 2 46 1-37 6-9 1 45 5-53 1 72 2-54 1 42 3-67 3 61 3-46 2 57 3-1 2-56 1 41 2-34 6 29 0-31 3 51 3-50 4 39 1-46 2 65 3-79 2 12 2 50 3 6 1-57 4 1 2 71 4-33 2-37 2 32 3-40 2-6 1 66 6 4 1-61 1 46 3-45 4 5 1 49 4-57 2 64 2-64 2 59 5-1 2-58 0-3 3 71 4-59 2 50 3-14 2-39 4 55 1-56 3-5 3 56 1 7 3-55 3 41 1-41 3-5 2 54 4-64 2 66 3-54 0 49 3 31 2-81 3 52 1-41 7-2 1 54 4-56 1 42 1 2 2-33 5-25 2 61 1-55 1 47 4 15 4-54 3 4 1 41 5 1 1-54 3 4 2 48 3-10 1-45 2 58 3-50 4-6 1 43 5 20 2-40 1-22 3 49 2-33 3 35 2 11 1-57 7 58 1-59 0 63 1-55 5 58 1-65 3 51 3-46 3-8 1 47 6-34 2 31 2 19 3-58 1 37 1-35 4-14 2 52 4-39 1 46 3-51 2 41 4 9 1-58 4 5 2 43 4-45 1 45 2-35 2 50 3 2 0-59 5 53 3-47 1-15 1 72 6-53 3 31 2-31 1 50 3-67 2 75 2-78 2 73 5-17 2-41 3-7 1 55 3-50 3 47 3 2 2-44 2 32 3-45 1 1 4 57 3-8 2-38 5 53 0-50 1-10 4 59 3-45 3 27 4 0 1-35 1-8 1 49 4-28 3 26 4-40 0 40 6 22 0-71 2 52 2-45 5-25 2 79 3-11 0-42 5-3 1 65 2 7 2-76 3 56 2-67 2 2 3 52 3 6 1-48 4 48 4-39 2-12 2 56 2-38 3 75 1-41 3-35 3-10 3 53 2 6 4-48 1 49 3-50 3 5 1 33 4-4 2-31 3 6 2 43 3-50 1 37 3-33 3 43 2-57 2 59 2-49 1 47 4-10 4-50 3 71 3-76 1 6 1 65 5-20 2-47 4 54 1-54 3 15 1 48 3-10 2-33 3 29 2-47 3 3 4 58 1-59 1 65 3-5 3-55 5 2 0 38 4 18 2-51 1 4 2 43 4 3 3-55 2 34 2-37 4 0 3 42 0-48 3 49 4 14 3-57 1-4 2 51 3 3 3-56 1-10 5 66 0-40 2 32 5 8 2-57 2 50 2-43 2 0 1 51 5 6 3-58 4-13 1 59 1-56 3 55 6-61 0 56 2 10 3-63 1 2 4 56 1-48 1 50 7-44 1 34 3-52 0 64 3-67 2 65 3-7 3-31 3-15 1 49 6 4 2-52 2 7 1 47 4-55 2 62 2-3 2-52 4 49 1-58 4 3 2 50 1 2 5-55 2 61 2-60 3 2 2 61 2-6 1-57 3 57 2-44 5-7 2 40 4 8 1-49 4 40 1-28 2-17 2 50 3-43 3 56 2-60 3 42 4 24 1-64 3 53 3-38 1 32 2-39 4 58 2-70 1 61 3-59 4-25 0 75 4-11 1-37 4 35 1-41 4 3 3 52 2 6 0-56 4 48 3-46 4 0 1 39 3 17 2-69 4 16 0 37 4-43 0 39 5 13 1-50 6-1 1 66 2-61 1 55 3-12 2-44 4 48 1-49 5 1 2 38 2-34 1 52 6-52 1 47 2 13 2-65 2 49 5-47 0-1 3 47 5-52 0 51 2 1 4-44 3 37 1-48 6-12 1 65 1 11 0-58 4 50 0-51 8-10 0 52 2 5 2-39 7 47 0-48 3 40 1-49 4 45 1-68 4 24 1 44 4-38 0 52 4-55 0 45 5-46 1 47 7 8 0-46 3 49 1-55 2-21 2 74 5-54 0 49 4-4 3-46 1 56 1-58 7 49 0-63 4 61 1-53 4 19 0 47 5-18 1-49 4 45 1-40 5-2 1 48 1-1 2-33 3 35 0-53 6 58 2-42 5 2 1 42 3-11 3-46 3 68 0-54 4 61 2-70 3 6 3 38 0-38 2 60 6-54 0 38 4-40 2 51 3-12 1-36 3 33 3-45 1 56 2-52 5-1 0 44 6-44 1 45 2-53 1 71 3-65 3 40 2-47 4 50 2-49 1 57 4-3 2-37 2-19 0 51 5-48 5 55 1-54 0 52 6-43 1 45 3-47 2 44 2-44 1 51 4-53 3 48 3-13 1-39 3 51 4-55 3 51 1-57 2 57 3-50 5 53 1-50 1 34 1-33 5 41 4-52 0 10 2 59 4-66 2 52 2-44 3 57 2-54 5 49 2-53 2 53 3-9 2-45 2 3 3 50 3-53 1 45 3-40 3 69 3-31 0-38 5 58 2-64 3-6 1 50 5 2 1-42 3 4 1 44 4-37 2 48 2-12 4-46 2 58 1-62 4 5 1 38 4-6 1-42 3 46 1-52 5 10 2 34 2-34 1 61 3-55 2 46 4-57 4 41 0-34 2 51 4-3 0-56 4 11 3 39 4-52 2 71 4-8 2-56 3-15 1 71 4 0 1-62 4 5 2 48 2-40 1 40 4 19 3-65 0-2 3 57 3-38 1 35 6-62 0 79 4-78 3 49 0-2 3-47 2 63 4-46 3-4 2 44 2 12 2-72 2 71 1-50 4 43 3-68 3 73 1-35 3 23 2-37 5 3 1 39 3 8 0-54 7 66 0-70 2-2 3 47 5-30 1 37 5-5 0-42 5 53 1-61 0 67 1-66 8 9 0 51 2-9 2-56 4 60 1-58 5 48 1-39 4 40 1-40 3 39 1-45 2 41 2-35 5 54 3-66 0 71 4-61 1 57 3-46 3 43 4-52 0-1 2 39 7-35 0 41 2-2 1-43 3 48 3-51 2 43 2-51 4 3 2 45 3-27 2 55 6-60 0 55 4 2 1-60 3 1 1 39 3-42 1 47 3-1 5-53 2 8 0 44 3 2 1-39 4 0 2 54 4-6 2-56 2-11 2 63 5 7 1-64 3 6 2 48 5-61 1 51 1-35 4 33 3 25 1-57 3 45 1-59 6 62 0-63 4-4 0 58 4-36 1 42 5-8 0-42 4 2 2 67 2-66 3 44 3-57 3 67 4-55 1 52 1-13 1-40 7 49 0-52 4-11 2 77 2-74 4 46 3-28 0 50 4-11 2-35 3 31 1-48 3 49 0-48 4 3 2 52 4 6 1-57 4 48 2-50 3 47 1-49 5 48 2-38 4-7 0 44 3-49 2 54 4-38 2 34 3 6 1-45 4 55 1-67 5 46 1-42 4 76 1-82 3 11 2 62 1-71 2 53 7 12 0-67 3 0 0 48 5-54 2 53 3-39 1 49 2-53 2 43 3-40 5 45 3 1 0-45 3 59 0-67 5 1 3 65 3-60 3 56 0-63 5 47 4 7 1-58 1 74 4-63 2 1 2 51 1-10 3-40 2 1 1 52 7-15 1-41 1 44 2-47 3 51 3-60 3 51 0-38 5-11 3 65 2-48 3 57 4-65 1 48 3 9 1-66 2 61 2-60 4 4 1 56 4-1 2-43 2-12 3 51 4 25 0-68 5-6 2 51 4-58 1 43 2-29 4 37 1-30 1 30 5-40 1 61 5-68 1 86 1-80 3 80 4-81 2 72 3-79 0 66 4-57 2 62 4-65 2 67 3 0 2-56 1 2 4 37 2-43 3 49 1-41 4 30 2 13 3-59 5 8 0 33 2 6 2-48 4 5 2 38 2 18 1-60 6-8 2 66 1-41 1 40 6-52 1 46 1-1 1-49 8 18 0 36 1-7 4-48 2 48 1-46 5 40 1-40 2 40 0-49 6 14 0 52 6-65 2 45 3-35 1 64 3-65 2 56 3 0 1-60 4 2 2 62 3-41 3 25 1-35 4 79 4-80 1 38 5-37 0 45 1-5 2-37 5 45 2-57 5 52 1-48 1 49 2-42 5-6 0 51 3-4 3-55 1 14 2 50 5 4 3-62 0-4 3 62 4-76 1 60 5 10 1-70 1 75 2-57 4-7 1 50 3-42 1 61 4-18 3-41 5-4 2 49 0-1 1-52 6 62 3-64 1 9 3 61 2-65 1 57 4-16 1-39 5-2 2 55 1-64 5 56 3 8 2-60 2 18 1 38 5-3 2-42 1 30 3-31 2 45 1-53 5 62 2-82 3 18 1 58 2-13 3-58 5 71 2-45 4-7 0 51 1-11 1-50 7 5 1 59 1-67 4 65 2-64 2 61 4-59 1 55 2-1 1-45 6 54 2-67 4 6 0 54 5-39 0 44 5-52 1 50 2 5 1-60 3 6 3 50 3-12 0-50 5 70 1-67 3-1 2 57 3-47 2 59 3-55 5 57 1-65 1 55 5-53 1 54 5-2 0-57 2 45 2-55 3 18 2 56 3-18 3-39 3 51 2-52 3 46 1-36 5-9 3 52 0 17 2-81 3 12 4 72 1-21 4-46 2 56 0-53 7 44 1-44 1 7 1 40 7 9 2-56 3-8 1 51 1-51 2 46 5 10 1-44 5-3 1 53 3-20 2-36 3-16 2 58 1 0 3-51 6 55 0-52 3 11 0 47 5-69 2 73 3-14 1-47 4 47 3-40 2-17 1 74 2-11 3-39 2 47 1-53 5-10 3 55 3-63 1 66 3-18 3-39 5 55 0-50 3 2 2 32 2 24 4-78 1 72 1-60 4 9 2 41 5-41 0 51 3-69 3 69 5-12 1-35 1 31 3-44 2 6 4 45 1 12 3-50 1 0 4 30 1-28 5 56 2-18 1-67 3 22 1 48 4-49 1 53 4-53 2 50 4-3 0-52 5 56 2-53 1 6 1 47 5-60 2 53 5-4 2-51 2 11 2 33 3 10 2-41 1 2 1 36 5-39 3 48 2 15 4-64 1 46 1-41 3-8 1 60 5-68 4 67 2-8 2-64 1 24 2 43 3-8 3-49 4 10 2 42 4-50 1 54 1-8 2-49 4 12 3 31 1 16 1-54 7-14 1 45 4 5 1-34 4 5 0 37 4-45 3 50 3 7 1-48 3 50 0-55 5-32 2 90 3-18 3-36 3-4 1 50 3-13 1-65 2 69 1-36 6-4 1 39 4 7 3-46 3 1 1 36 1-44 4 57 2 15 0-74 5 45 2-46 2 4 1 65 5 6 0-80 7 10 0 62 2-46 3 26 4-43 0 66 3-53 5 52 2-4 2-52 2-3 4 47 0-6 3-59 2 82 2-65 5 3 2 43 2-61 3 54 1 0 5-57 2 19 1 33 5-41 1 53 2-45 3 34 3 2 1-46 3 8 1 49 3-1 3-60 3 54 1-44 5 46 1-43 5-15 1 67 3-2 0-54 5 57 0-59 3 53 1-55 6 9 1 38 2-44 0 51 8-60 1 65 2-47 2 48 2-48 4 42 1-42 4 49 3-55 2 62 2-18 1-41 4-9 3 60 2-63 3 62 4 5 0-49 2 36 1-58 4 66 2-52 5 43 1-57 3 57 2-41 3 2 1 28 6 20 1-49 1-6 3 42 3-38 1 37 5 6 1-46 5 31 1-42 1 14 3 60 2-6 1-59 6 12 0 42 4-53 2 51 4-1 2-47 3 43 0-42 6 45 1-53 3 3 1 51 3 1 2-49 4 48 0-54 4 63 2-64 2 61 1-55 6 50 3-46 3 52 1-53 4 7 0 42 5-44 1 59 1-19 5-52 2 13 2 47 4-16 1-40 2-10 2 51 2-4 2-56 4 64 4-44 0-7 2 46 3-1 4-48 2 7 0 43 4-43 3 52 3 6 3-50 1-2 5 47 1-1 3-50 5 4 1 43 2 5 1-51 2 10 2 35 6 22 1-66 3 7 2 55 4 1 0-61 3 53 2-56 2 67 2-54 6-11 1 75 2-26 3-44 2 52 3-72 3 81 2-54 5-10 1 47 1 4 2-43 5-34 0 83 2-14 4-56 2 47 1-44 4 62 1-60 6 10 1 66 2-24 3-47 4-1 1 36 4 19 2-53 1 1 3 52 3 5 2-61 1-2 4 64 1-68 1 50 8 14 1-58 2 58 1-57 2-8 4 63 2-10 1-52 6 2 1 44 2-46 1 64 4-39 1 53 3-71 4 46 3-41 2 47 1-53 4 54 2 7 1-60 3 66 4-48 3-15 1 50 3-8 1-36 6 40 2-47 1 62 3-58 2 46 3-49 1 46 4-61 3 77 1-79 3 9 2 49 2 6 3-38 5-20 1 51 2 13 2-49 5 55 1-74 2 67 4-54 2 32 2-29 3-6 1 58 3-65 3 62 1 5 2-62 4-3 3 64 1-59 2 39 4-40 3 48 1 5 2-60 5 49 1-43 5 38 0-38 4-17 2 66 1-5 2-52 4 52 4-44 2 44 1-51 4 48 2-51 4 79 1-74 2 5 2 49 4-1 0-58 5 61 2-35 1 29 5-31 2 34 2-48 1 59 1-60 7 9 1 54 1-63 3 44 4 12 2-59 2 4 3 42 1 24 3-68 4 55 0-51 3-3 2 62 3-45 3 37 3-7 0-33 5 30 0-45 6 67 2-62 2-5 3 61 2-60 2 59 4-51 1 75 3-34 3-48 2 46 2-38 6 45 1-57 3 3 1 57 2-59 2 47 2 0 3-32 4-22 1 60 2-29 0 28 6-2 3-51 1-5 2 50 6-37 0 41 5-42 2 43 2 22 2-56 2-15 2 48 4-62 1 68 2-52 4 51 3-45 1 42 3-4 3-35 2 41 1-56 4 50 0-49 5 1 1 41 5-42 2 51 1-8 4-48 2-9 3 62 4 14 1-61 2 58 2-59 4-5 1 59 4 9 0-47 7-11 1 52 3-41 0 56 3-60 2 50 5-43 1 31 3-32 1 37 2 15 4-53 1-13 2 63 4-8 0-53 4 10 2 43 4 9 0-55 4 38 5-36 1 47 2-51 2 32 3-37 3 49 1-35 6 48 0-65 2-6 4 78 5-85 1 70 1-53 3 73 3-71 1 37 3 21 2-61 3 55 2-61 2-3 1 80 7-31 0-30 4 35 2-44 3 43 1-49 2 62 2-61 5 22 1 35 2-39 3 46 5-64 1 60 3-46 1 56 5-18 1-47 2 8 3 74 2-86 1 73 5-68 2 49 3 14 1-58 3 50 2-45 4-3 1 44 3 2 2-48 2-8 3 60 4 4 1-58 5-4 1 59 3-4 3-62 2 9 2 49 3 6 1-45 4 39 0-39 4 6 4 33 0-43 1 45 8 13 1-55 1 41 3-56 3 56 1-49 3 40 2-42 3-3 1 47 4-43 2 49 3-7 0-42 5-12 2 81 3-72 2 75 2-81 3 71 3-6 1-55 5 55 2-47 2 35 3-52 1 75 5-64 0 1 2 48 3-32 3 43 4-16 3-34 1-8 0 46 5-51 2 64 4-55 1 33 6 10 0-44 1-16 4 52 3 11 2-60 4 47 2-60 0 61 3-47 4 55 2-46 3 56 1-71 3 9 3 44 2-43 4 46 4-5 0-38 2 9 2 49 3-58 3 44 2-50 1 43 4-42 1 42 5-54 1 47 5 15 1-61 5 9 1 70 1-75 4 50 0 16 3-62 5-4 1 58 4-56 1 51 3 4 2-73 4 31 0 36 5-39 1 47 5 1 0-47 3-7 1 41 5-45 1 49 1-7 2-40 3 56 2-45 4 47 1-64 3-1 2 63 3 3 5-70 0 7 1 58 5-48 1 45 4 6 3-56 4-2 1 78 4-28 1-41 4-10 1 53 2-58 3 66 1-73 3 69 5-60 0 53 2 9 0-55 6 0 1 50 5 19 2-69 3 11 1 61 3-22 1-57 6 6 1 50 2-43 2 41 3-55 1 52 4-5 1-37 4-1 1 38 6-51 0 58 3-2 3-50 5 54 0-50 5 37 0-48 3 73 1-57 5-19 1 69 2-63 3 58 3 5 0-44 3 43 1-49 6 48 1-36 4-19 1 50 5-11 2-36 4 55 0-59 1-8 2 63 4-3 3-39 1-9 4 58 2-11 1-53 4 7 2 44 4-39 0 53 5-58 2 42 1-42 3 59 3-55 4 47 1-38 4 36 1 0 3-49 1-12 1 62 5 5 3-61 2 62 2-50 3-7 1 35 6 42 1-75 1 52 0-51 6 37 2-47 5 51 2-46 0 52 2-51 3 51 4-54 4 2 1 54 3-5 1-54 4 14 2 36 1-41 2 36 6 4 2-53 4 3 0 58 2-49 3 46 1 11 4-63 4-10 2 85 3-11 0-52 6-23 0 63 2-45 2 44 4-64 1 64 3 7 4-51 2 45 0-56 5 53 3-38 1-4 2 69 4-77 1 65 5-43 2 43 4 1 0-58 2 63 0-74 5 72 2-43 3-5 1 53 4-61 3 63 2-56 2 41 5-5 0-56 4 15 0 44 5-45 1 45 3-57 1 53 6-50 0 43 4 15 3-80 0 71 3-60 3 63 2-51 6 1 0 43 3-62 1 75 3-59 2 62 3-68 1 52 3 11 5-43 3 36 1-53 1 49 1-45 5 6 4 56 2 9 1-56 3 0 1 48 5-69 2 68 2-6 0-47 5 56 2-74 6 21 1 46 0-58 2 55 5 4 2-54 3-3 0 44 3 8 3-50 5 39 0-39 4-12 2 45 3 9 2-64 2 24 3 63 3-63 1 43 2-56 4 77 2-74 0 48 7 13 1-54 4-11 2 73 2-58 0 63 4-79 4 58 0-6 2-61 4 69 0-37 5-40 3 78 4-50 0 50 3-6 3-40 2 64 2-64 5 53 0-58 3 54 1-58 7 0 1 62 2-3 2-63 4 9 1 44 1-2 4-44 1 53 0-51 7 47 3-43 2 45 2-33 4 50 1-75 3 49 0-44 5 68 3-44 0 34 3-50 5 47 0-46 3 60 1-53 6 41 2-49 0 4 4 54 5-4 0-52 3 49 0-45 5-4 1 42 2 3 2-49 4 3 2 46 5 6 1-61 2 77 4-63 1 51 4-58 2 50 2-44 2-9 1 74 4-12 2-54 2 54 4-58 1 2 1 57 6-58 3 52 0 5 4-54 1 55 2-66 4-13 3 69 2 2 2-44 5 38 1-52 1 61 2-47 6 65 1-72 1 51 1-47 6 2 3 49 3-8 2-43 0 54 4-52 2 5 2 32 4 21 2-67 3 11 3 49 2-4 0-54 5 62 3-67 0 63 1-53 7 51 2-53 2 44 1-47 3 44 3-44 3 2 0 54 5 0 3-46 2-16 2 60 2-1 1-41 3 42 4-41 3-5 1 56 5-19 1-41 3 0 1 48 5-56 0 48 5-41 1 48 5-2 1-41 3-17 1 77 2-14 3-55 5 54 0-58 2 9 3 38 1-32 4 36 2-42 3 38 3-39 0 50 3-57 3 51 2 3 4-69 4 22 1 32 2-27 2 34 4 12 1-57 5-1 1 45 5 22 0-72 2 74 4-64 2 52 1-48 5-6 2 46 2 9 1-53 5-2 1 45 4-52 1 54 3-61 0 56 4-51 2 41 4-33 2 61 1-11 2-50 6 39 1-47 3 77 2-78 3 3 3 63 1-10 3-56 4 13 1 44 5-50 1 53 2 8 3-56 1-11 2 53 4 6 2-48 1-16 1 63 5-9 4-37 1-4 2 53 4-58 0 48 3 18 4-57 2 0 1 49 4-47 0 42 6 8 2-58 4 5 1 59 1 2 1-53 4 44 2-35 5 29 2-45 5 48 1-57 1 58 1-49 4 45 1-54 4 7 1 40 4-51 3 60 4-4 1-52 4 44 2-43 3 1 2 52 2-3 1-55 2 51 4-40 1 24 0-30 7 52 2-50 3 58 2-62 1 15 3 30 6 9 1-42 0 32 1-48 4 1 3 63 2-10 2-41 4 49 2-69 4 65 2-52 3 44 1-52 4 69 2-69 3 21 1 59 4-74 0 50 3 7 4-45 3 48 2-53 4 50 0-48 2-5 4 56 2-56 2 52 3-52 0 48 8 9 1-64 2 65 2-61 1 2 1 42 7-42 1 48 2-39 2 56 2-23 4-48 5 57 1-55 3 63 0-66 4 55 2-48 4 56 1-47 1 62 3-85 4 16 1 52 5-3 1-66 2 59 1-49 7 8 1 51 3-54 2 38 2 11 2-50 4 42 1-37 4 54 1-57 4 7 1 62 2-47 1 46 4-13 0-40 5 30 1-39 5 43 1-45 3-21 2 72 3 6 3-65 1 66 3-46 4 31 1-44 2 47 1-55 7 65 1-43 1 38 3-53 3 9 1 41 5 16 1-70 3 0 1 50 6-40 1 50 5-17 0-29 3-1 1 44 4-69 2 60 2-35 1 41 7-58 1 67 1-17 4-52 2 59 1-53 4 53 2-40 2-9 3 74 3-27 2-39 2-11 3 54 2 9 4-49 1 35 1-36 4 52 4-66 4 53 0-43 4 6 0 57 3-3 1-52 4 43 2-43 3-11 1 50 3-9 3-40 5 39 0-34 5 3 1 36 2-48 0 64 4-62 5 49 2 15 1-56 5 62 1-53 4 0 1 46 2 6 3-51 1-18 2 52 4-47 2 59 3-59 0 53 8 10 1-82 2 53 0-41 5 42 1-46 2 6 4 48 3-35 1 29 2-41 2 47 5-46 1 45 2-5 0-47 6-3 3 44 1 28 1-68 5 49 3-45 1 41 2-39 5 38 2-44 2 1 4 55 0-68 1 65 5-8 0-39 4 47 3-54 3 68 3-65 1 16 3 52 4-61 3 49 1-6 1-54 4 5 1 31 4 7 2-49 3 65 1-54 3-9 3 59 4-49 2 64 2-62 2 52 3-43 4 35 2 15 2-69 1 17 3 54 3 20 4-85 0 51 5-37 0 47 3-74 2 22 3 49 3-2 1-45 3 47 1-44 7 31 1-52 3 1 2 67 2-5 2-78 2 81 1-51 5-23 2 74 4-4 3-44 0-9 1 60 5-52 2 46 2-9 4-32 5-22 1 60 3-6 1-43 3 3 1 45 2-13 1-37 7-7 1 45 4-42 1 51 3 4 1-63 3 63 2-56 3 5 0 51 4-51 2 55 3-1 1-45 7 48 2-57 2-5 1 51 5 11 0-44 5 29 2-36 0 34 3-35 3 3 1 36 5-32 2 26 2 19 3-55 3 54 1-65 3 6 1 45 5 2 1-36 5-12 1 62 2-68 2 59 4-43 0 38 4-60 2 61 4-48 0 52 5-4 3-32 2-14 2 53 2-52 1 41 5-44 1 51 2-4 3-48 3 58 3-44 4-24 0 68 4-8 2-63 4 76 2-66 3 15 0 43 3 6 3-72 4 20 1 38 2-56 4 53 0-59 3 70 3-53 2 40 3-52 4 75 0-66 5 53 1-6 3-34 2-20 2 72 2-73 1 46 4-37 1 65 4-70 2 63 7-49 1 35 1 0 2-50 4 14 0 47 3-53 2 50 3-45 4 52 3-65 1 66 3-59 4 54 3-45 1 52 4-52 1 51 3-10 2-36 1 53 4-66 1 46 1-51 7 15 1 45 5 7 1-54 3 46 0-41 2 50 1-62 5 80 1-71 6-3 0 36 4 21 2-65 3-8 0 54 5-7 0-42 5 47 2-51 2 0 2 62 2 3 2-61 3-5 3 56 2-9 3-37 3-13 1 63 5-4 2-42 4-8 2 66 2-12 2-48 1-14 5 57 2 3 1-53 5 54 0-43 2 42 2-48 6 62 1-65 3-4 3 67 3-13 0-41 4-25 1 62 3-53 3 64 2-13 3-46 2 5 3 47 3-9 3-37 3-9 0 51 2-55 2 60 4-51 0 44 5-38 3 45 2 2 1-51 6 8 1 49 1-10 1-52 5-4 1 45 5 10 0-48 3-2 2 52 5 9 1-66 4 52 2-53 1 49 1-57 6 20 2 39 5-2 1-47 2 53 0-41 3-12 4 60 4-55 1 55 2-53 0 29 5-34 4 51 3 9 1-59 1 46 3-32 3 41 2-56 2 10 1 48 6-8 2-41 4 2 0 43 5-47 1 49 3-39 2 55 1-61 3 51 2 11 1-50 4 77 1-94 7 44 1-41 3 42 0-36 3-3 2 43 5 1 1-41 4-3 1 57 4-60 2 56 5-72 0 59 3-2 1-47 5 50 0-51 2 16 4 39 3-4 1-45 4 45 1-39 3 67 0-74 8 6 1 31 2 24 2-72 2 14 2 43 3-6 3-35 2-7 3 55 2-59 1 54 4-54 3 59 5-51 0 59 4 3 1-70 2 8 3 45 3-49 1 45 2 11 1-44 5-16 1 54 5 4 2-55 1-3 1 54 4-7 3-54 2 75 1-59 5 38 3-56 2 67 3-51 1 47 2-41 3 38 1-57 4-10 1 74 4-46 2 32 5-32 1 39 5 14 1-49 1-12 4 46 1 1 3-49 5 56 2-52 2-9 2 55 2-4 1-55 5 69 2-71 3 4 1 75 5-65 0 40 3 14 2-50 2 51 1-67 5 61 2-49 3-15 1 62 5-55 1 50 3-40 2 43 4-56 1 62 5-36 1 45 2-62 0 53 7-44 2 39 1 1 3-64 4 20 1 53 5 0 1-55 3-8 1 48 2-39 1 49 3 3 4-49 1 75 5-72 4-6 1 40 0-36 1 57 5-68 1 75 4-17 2-71 4 21 1 43 2-43 2 53 6-5 2-60 0 50 4-32 4-4 1 48 1 24 4-58 3-10 0 59 6-69 0 53 5-51 2 65 0-27 3-35 3 53 1-48 3-14 2 56 4 10 3-52 2 37 2-27 4-10 3 48 2-44 1 37 3 5 1-51 5 67 2-69 3 67 1-55 6-5 0 65 3-77 3 64 0 8 4-62 3 1 3 48 1-5 1-56 5 60 3-58 2 50 1-45 4-10 0 65 3-64 5 54 2 3 1-41 4 49 2-63 4-9 0 64 3-41 2 40 5 0 2-41 4 45 0-60 2 55 2-58 4 5 2 56 1-2 3-46 4-10 1 51 4-50 2 51 1 5 5-50 3-11 2 55 1 6 1-47 4 55 2-56 2 56 2-61 7 52 1-44 4-5 1 49 3 14 2-62 2 1 2 57 4-61 0 55 5-2 1-44 2-10 1 61 7-59 1 56 3-10 1-54 2 71 3-57 5 46 1-69 0 22 5 43 1 10 4-49 2 28 2-34 4-12 1 47 2 4 3-43 2 11 2 54 4-81 3 65 0-50 2 48 6-53 1 57 4 8 1-58 1 14 4 51 5-69 0 51 1-8 3-32 3-2 3 45 3-57 1 75 3-23 3-39 1 2 4 38 4 20 1-58 1-5 2 52 6-47 2 41 1-33 1 42 5-7 0-35 3 31 0-30 7 34 2-39 1-5 0 38 5-1 3-41 3-5 3 58 3 4 2-68 2 48 1-50 3 63 3-77 2 13 5 56 2 17 1-53 3-9 3 61 2-45 1 40 3-48 3 46 5-43 1 40 2 18 2-58 3 41 2-47 2 37 5-55 3 20 0 55 5-11 2-41 4-5 1 63 1-56 1 36 5 18 2-61 2 59 1-71 7 61 1-53 2 53 3-51 2 40 2-44 4 1 0 38 4-42 1 41 3-31 1 57 3-17 4-47 3 5 1 52 4-52 1 60 3-87 2 89 2-64 4 59 4-57 1 49 4-18 1-32 1 1 4 48 1-3 4-37 2 1 2 37 3 15 2-52 4-6 1 48 5-4 1-53 4-7 2 73 1-63 3 56 2-62 4 61 1-16 2-52 5 66 2-59 2 57 1-56 3 53 2-49 5 49 1-43 1-8 1 49 5-61 4 53 0-50 1 69 5-18 2-60 5 7 2 60 1-8 0-40 4 48 4-55 2-2 0 57 5 8 3-57 1 59 3-62 2 16 2 43 5-56 1 59 3 7 4-54 1-5 2 67 2-29 4-33 3 40 0-48 6 43 1-56 3 57 2-41 4 30 1-35 4-4 2 55 1-37 3 51 4-20 1-45 1 46 2-42 3 8 1 34 5-49 2 42 2-42 4 60 4-12 1-44 4 42 1-56 3 17 0 41 6 0 1-63 1 16 5 42 4 11 1-49 2 4 2 34 1-42 2 51 4 2 1-51 4 17 1 34 4-31 3 25 4 7 2-60 3 10 1 49 3 0 2-54 3 41 1-32 2 46 4-49 4 55 1-55 4 11 1 41 2-58 1 58 7-3 1-47 0-16 0 51 8 6 1-46 2 6 1 45 3 2 4-53 3-5 2 58 1-6 2-41 4-15 1 69 3-60 1 52 5-54 3 54 1-49 2 53 6-26 0-34 2-6 2 85 4-74 2 39 3 11 1-68 6 26 1 56 1-17 1-46 5 7 1 54 4 2 1-58 4 46 1-43 6-10 1 53 2-53 0 49 4 3 1-49 6 39 1-35 4-11 2 57 2 4 1-65 3 5 2 72 3-77 1 51 7-47 0 47 5-30 1 41 5 2 1-49 2 55 1-64 5 79 1-66 4 39 0-44 5 39 1-43 1 53 2-49 4 47 2-56 3 53 4-37 4-21 0 66 3-6 1-69 6 67 0-52 1 7 4 28 1-29 1 37 6 8 2-42 3-7 3 52 1 19 2-78 3 14 1 53 4-58 2 56 4-57 1 45 3-38 3 39 2 8 4-49 1 47 2-47 6 52 1-59 1 12 1 41 6 5 1-61 1 50 1-43 4 38 3-47 6 52 0-49 2-1 0 65 7-57 0 76 6-29 1-41 1 46 1-55 7 20 0 45 2-21 3-36 1-3 3 53 3-54 4 47 1-45 3 50 1-47 2 42 4 1 1-45 7 59 0-62 2 43 1-56 5 67 2-60 2-9 4 75 2-25 2-43 3 13 1 48 4-4 0-61 6 63 1-53 2 56 2-69 2 52 1-33 8 60 1-69 2 54 1-57 2 5 5 71 3-27 1-36 2 41 0-63 6 84 0-66 6 54 1-53 4 49 2-46 2 51 3-64 1 12 3 32 2 2 3-49 3 58 0-45 5 48 3-57 0 54 2-46 6 45 2-51 1 44 2-51 6 14 0 31 1 27 2-64 4 58 2-59 3-2 2 58 6 2 0-54 2-1 1 50 3 5 2-55 3 2 1 51 5-5 2-45 2 9 4 47 2-52 0 40 5 7 3-55 5 49 1-47 0 51 1-43 8 2 1 29 2-36 2 35 3 12 2-55 2 5 1 40 5 29 1-64 3 38 2-38 3 46 2-54 2 57 2-52 4 50 2-71 5 32 0 36 3-39 1 30 3 2 3-48 2 64 2-55 5 3 0 38 5-40 1 41 5 7 1-60 4 59 0-49 6 2 0 50 3 11 1-78 4 56 0-35 5-21 0 58 5 2 1-37 4 45 1-59 3 48 2-33 3 36 3-45 3-9 1 43 2-61 3 96 5-26 2-46 2 48 2-58 1 57 2-47 4 66 2-58 4 47 2-71 2 72 3-51 3 38 1-42 3 2 1 43 4 9 1-55 5 63 2-53 1-6 4 55 3-53 2 56 3-6 1-36 3-17 3 58 3-10 2-56 1 10 2 46 6-3 1-42 3 41 2-39 3-11 3 45 1 6 1-42 6 42 1-45 2 41 1-36 6 39 0-44 2 39 1-47 4 39 4-41 2 60 1-54 4 1 2 51 5 17 1-62 2-25 3 70 3-54 1 53 3-58 2 72 2-46 3 37 3-50 2 43 5-2 1-48 2 11 3 40 2-2 1-46 6 46 0-43 3 55 4-66 0 2 3 49 2 6 5-55 1 6 2 44 3-53 1 52 6-41 0 36 5-40 1 37 2-44 1 46 4-57 1 53 4 4 2-36 2 21 3-31 4 47 2-35 3 29 2-54 1 21 1 47 4-51 3 51 2-3 2-44 4 64 3-57 1-16 4 67 2-66 0 56 5 6 2-59 2 40 4-22 1-16 1 56 7 2 1-56 1 51 3-42 4 35 0-38 5-4 2 48 4-3 2-50 4-3 1 51 4 19 1-57 3 34 1-36 2 35 1-38 6 11 1 28 2-42 2 38 3-52 1 53 3-32 4 42 1-60 3 58 3-8 1-35 5 58 2-73 3-5 0 60 4-6 1-43 4-5 2 51 2-44 3 56 2-2 3-47 4 37 2-46 2 9 3 45 2 9 2-53 4 3 1 41 4-46 2 47 3-50 3 57 0 6 5-62 2 7 0 37 5-2 0-41 3-8 2 58 5 2 2-66 1 13 4 73 3-79 1 58 2-43 3 52 5-44 1 45 1-9 1-52 5 53 4-53 1-26 0 74 5-56 2 56 2-47 5 65 1-51 2 41 3-64 1 58 4-3 0-33 5 34 2-60 5 56 0-50 3 49 3-43 1-6 2 53 5 2 2-46 4 44 1-49 1 57 3-51 3 3 2 33 3 27 4-56 1 38 0-42 4 42 1-40 4 33 1-50 8 64 1-51 2 35 1-46 3 11 1 38 4 13 2-51 2 36 1-31 8 36 1-50 2 46 2-33 1 31 2-35 6 42 1-62 2 7 4 43 0-36 4 57 3 3 1-45 3 38 1-42 5-13 2 60 5-10 1-64 4 60 1-50 2 1 2 58 3-54 1 67 2-67 4 48 1-46 1 53 7-6 0-50 4-3 0 48 5 3 0-63 4 23 1 41 5 0 1-43 2 1 4 59 1-71 2 61 4-67 4 58 1-51 1 48 3 23 4-58 4 48 1-47 5 30 0-55 3 24 3 36 1-52 3 52 2-43 3 45 2-41 1 61 4-56 2 39 2 2 3-61 4 69 2-53 3 67 2-75 1 57 2-65 6 28 2 46 2 1 1-59 3-3 2 41 3 7 3-44 5-12 1 69 3-55 1 46 2 0 4-48 2 55 3-57 0 41 3-62 2 52 2-40 3 59 4-56 3 3 1 50 3 6 0-56 6 48 2-45 2 66 3-75 3 11 2 58 4-66 2 73 4-65 0 56 2-5 4-47 0-7 4 44 1-1 5-48 1 40 0-45 4-9 2 72 3-9 4-59 5 53 1-47 2-5 1 49 3-36 2 44 3-42 1 42 3-47 4 40 2-48 2 75 5-17 0-48 3 60 2-46 4-8 3 54 2-45 1 43 5 0 1-41 2-5 1 55 4-17 1-52 4 49 3-38 1-5 5 49 3-58 1 49 2-34 1 37 5-39 1 42 4 6 3-69 2 58 2-48 1 68 2-74 5 57 2-51 4 54 0-48 3-8 2 54 2-67 4 89 2-19 3-44 4 40 1-58 1 50 4-39 2 47 1-43 5-9 2 47 4-1 1-57 2 73 1-66 4 2 1 69 3-58 3 57 3-51 2 52 3-11 1-41 7-1 1 51 2-5 2-46 3 42 3-50 2 5 3 48 1-60 3 56 3-67 2 67 1 9 1-48 4-16 2 53 6-37 1 34 2 5 3-45 1 48 1-50 6 4 2 32 2 15 2-58 2 49 2-42 5 27 1-31 5-7 0 70 2-29 2-39 5 50 2-55 4 7 2 47 0-43 1 51 6-3 3-54 1-12 4 59 0-35 2 25 6 15 0-41 5-15 1 53 3-33 1 39 5-52 2 56 3-1 1-46 2-2 1 46 5-54 2 51 3-59 0 57 5-52 1 47 5-66 1 75 3 1 1-47 2 55 1-70 5 4 0 45 7-54 0 55 3-41 2 44 6 22 1-61 2 38 1-42 4 0 0 80 5-77 2 42 4 13 1-64 3 5 2 59 2-18 2-38 2 0 2 43 4-46 2 43 3-28 1 30 4 7 3-57 2 12 3 30 2 6 2-43 2-7 4 69 2-51 3 28 3-33 0 68 5-63 1 45 2 17 3-67 4 47 2-64 3 17 1 54 3 3 2-57 2 54 3-47 3-14 2 60 2-40 1 23 4-28 3 45 4-59 0 55 3-4 5-36 0-11 2 57 3-9 2-58 6 47 0-47 2 69 5-55 2 34 2-49 2 54 1-48 6 1 0 49 4-44 3 37 2 9 1-50 5 48 1-44 4 6 1 35 3 0 2-50 3 2 2 58 2-12 1-47 5 53 3-43 1-1 2 61 3-68 1 55 3-4 4-54 3 17 2 31 3-44 2 49 1-2 1-43 6 65 1-68 6-3 0 44 1-42 1 50 6-4 2-46 3 47 1-34 3-27 3 60 1-10 2-29 5-16 2 49 5 12 1-57 2 10 2 52 3-60 2 43 1-36 0 42 6-47 1 69 5-55 1 43 4-6 0-65 6 62 2-49 1 2 2 52 3-68 3 60 4-44 0 50 3-57 1 53 4 11 2-63 3 65 2-54 5 39 0-48 5 50 1-42 5 54 0-58 3-4 1 58 4-46 1 50 3-60 3 61 2 9 2-62 2 2 4 47 3 3 1-38 4-16 0 59 6 1 2-55 2 51 1-43 4-13 3 61 0-24 4-40 5 67 0-62 3-13 1 62 3-3 1-41 4-13 1 55 5-45 2 65 1-11 3-50 5 7 0 45 5-65 1 55 2 15 2-59 2-12 2 73 5-28 2-37 1 42 1-49 5 50 2-51 3 9 1 39 5 5 1-50 3 52 3-53 4 38 1-49 3 24 1 29 3-54 2 60 2-46 5 42 3-37 0 43 3 5 1-44 3 43 3-43 3-3 1 35 5-35 1 45 4-45 1 42 3-50 4 50 0-47 2 53 4-50 2 49 4-57 0 61 4-67 3 51 5-49 0 53 3-39 2 48 3-2 2-58 2 2 3 46 3-43 0 63 5-70 2 66 4-55 1 48 3-37 2 30 2-41 2 53 5-5 2-48 2 18 1 31 3 16 2-59 4 39 0-50 6-2 2 67 1-67 1 60 5-45 2 58 2-23 3-36 2 49 2-47 3-23 2 65 2-53 4 69 3-71 2 62 2-60 0 45 7 5 1-48 1 49 1-47 5 34 1-53 6 10 1 56 2-52 3 47 1-56 3 45 4-33 3 49 2-53 1 49 2-57 4 62 3-3 2-59 2 4 2 46 2-49 1 41 6 8 1-53 4 11 1 35 2 19 4-61 3-1 2 48 2-42 3 43 1-35 3 45 3 3 2-64 2 58 1-63 5 30 1 28 4 0 3-37 3 51 1-48 5 44 1-48 3 48 1-46 6-2 1 48 0-10 2-35 4-11 3 51 5-53 0 57 5 1 1-43 2 1 0 43 3-58 1 53 5-56 2 63 3-18 1-31 5-3 0 63 4-37 1-55 4 74 1-63 3 56 4-38 5 10 0 43 2-15 2-56 4 51 2-34 4-16 1 53 2 6 1-37 3 40 3-56 3 67 1-66 7 47 0-32 2 47 1-76 4 80 3-69 2 57 3-53 1 58 1-62 7 47 2-33 3-7 1 46 2 8 3-53 1 62 1-59 4 34 3-46 4-9 1 67 2-56 2 46 3-8 2-38 4 51 1-54 3 65 3-68 4 86 1-61 3-5 2 42 2-44 2 45 4 6 1-58 5 61 3-72 2 63 2-50 2 43 2-41 5 54 1-37 1-28 1 52 6 0 2-47 1 5 4 45 1-44 0 48 8-47 1 45 1-50 3 64 2-62 1 57 6-9 2-47 2 59 4-61 1 49 3-43 5 40 1-50 4 57 0-37 4 34 1-42 4 66 1-59 4 50 1-62 2 2 3 48 2 2 2-54 5 49 1-39 1 46 4-49 3-6 0 49 7-55 0 56 4-48 1 63 2-17 0-48 6-4 1 41 4 22 0-63 4 5 2 52 4-72 2 88 1-25 2-52 3 49 1-35 4-1 3 42 2-35 4 31 3-39 1 49 4-36 2 37 1-6 2-44 5 9 1 38 6-11 0-36 3-2 1 47 3-66 0 63 6-4 1-46 2 12 5 39 0 5 2-48 5-8 1 54 4 9 1-49 4 42 1-56 4 54 2-46 1 61 1-55 5-2 2 32 4-37 2 54 1-5 1-68 4 12 2 56 5-53 2 51 3-65 2 58 5 1 0-42 4-9 1 63 3-62 3 63 2-4 1-63 4 59 1-51 4 37 1-45 4 19 2 29 1 7 5-44 1 50 1-64 4 23 4 75 0-36 4-40 4 5 1 39 2 1 1-58 4 11 2 62 3 10 2-82 3 58 3-54 3 69 1-57 3 32 1-28 6 45 1-53 4 2 1 43 4-5 0-48 4 50 0-50 7 48 0-54 1 51 3-51 4 5 1 42 5-49 1 58 4-10 1-32 1 48 2-64 4 8 0 54 7-82 1 65 2 11 2-38 4 38 2-46 2 1 1 33 6 23 1-58 2 34 2-33 2 36 2-42 4 40 0-35 6 42 1-41 5 56 1-53 1-17 4 60 2-45 2 48 3 12 4-58 0-3 2 48 3-4 2-42 3-8 5 54 3-1 0-56 5 43 1-37 2 40 2-52 5 54 0-32 5-18 0 59 3-49 1 77 4-33 3-41 5-5 0 41 4-45 1 69 2-6 1-53 4 4 2 33 5 7 1-45 3 1 2 44 2-45 3 60 2-68 4 67 2-24 2-43 2-10 3 90 5-30 0-42 2-1 4 58 1-1 2-60 5-10 1 68 3-55 2 42 1 8 1-54 5 42 3-46 4 0 1 68 1-61 3 66 3-12 3-62 4 7 1 52 3 4 2-56 2 53 1-52 3 53 3-58 3 4 2 42 5-48 1 45 2 12 3-62 3-4 1 74 6-50 0 35 2 13 3-46 1-7 2 43 3-34 4 41 3-19 2-30 3 44 2-51 4 2 1 55 4-53 0 46 3-52 3 50 3 0 3-54 1 6 1 46 6 16 0-54 3 41 3-56 2 56 2-52 4 52 1-39 3-8 1 36 3 12 5-51 2-7 2 52 1-57 2 69 5-15 1-55 4 57 2-39 2-11 4 55 0-51 4 49 4 3 1-53 1-8 1 62 4-41 3 28 4 2 1-34 3 33 2-67 4 63 1-44 5 7 1 43 1 3 0-44 5 5 2 49 4-69 3 60 5 14 0-66 1 59 2-44 5-4 2 60 3-20 0-53 3 61 3-48 2 59 3-45 4-22 1 75 3-72 1 47 5 2 2-50 2-10 3 59 4 13 1-46 2-19 1 56 6-38 1 32 2-57 2 70 3-63 1 48 3 8 1-50 8 11 1 36 0-48 0 43 8 22 1-65 2 4 2 32 4-32 2 55 3-49 0 53 5-58 1 51 2-61 5 83 3-65 0 43 2-65 2 75 6-55 1 48 2 0 1-52 6-12 1 60 1-60 2 81 4-33 2-52 2 9 2 41 4 3 2-32 3 28 2-43 3 47 2-37 4 42 2-43 5 40 1-45 1 7 1 49 3 9 3-54 3-17 1 59 3-55 4 54 3-48 2 43 3-33 1 42 5-1 1-44 2-3 3 44 2 3 0-55 8-3 1 51 0 10 3-55 5 0 2 52 0 5 4-52 2 40 1-42 4-2 3 51 3-1 2-63 1 6 1 46 4-53 3 58 6-5 0-44 1-9 4 56 3-4 2-36 5 32 1-53 2 1 3 42 1-17 3 43 1 8 3-51 5-7 1 62 5 3 0-66 4 68 1-72 3 6 0 49 5-54 1 45 3 14 0-67 8 65 0-72 2 69 3-67 1 55 2-43 5-16 1 54 5 4 0-37 3-21 2 62 3 20 3-66 3 39 2-33 3 58 2-64 3 5 1 56 4-60 1 67 6-60 1 48 1 3 1-69 3 3 4 50 2-43 2 43 6-7 0-44 2 13 3 47 3 8 0-67 3-3 3 48 3-38 3 61 4-64 1 48 3-41 1 50 3 6 2-60 4 46 0-52 5 58 1-54 3 9 1 32 5-40 1 48 4 4 2-68 2 79 3-50 3 37 1-56 3 15 3 66 3-25 0-56 7 65 0-61 3 0 2 52 4 24 0-71 3 67 3-61 1 45 4-56 3 16 2 52 4 1 0-50 2-13 1 61 4-26 4-52 4 19 1 42 1-40 4 40 3-9 3-37 2 48 2-55 4 9 1 44 4-49 0 50 3-2 3-44 1 53 1-82 8 79 0-42 1 46 5-69 0 48 2-41 4 61 1-59 6-3 1 42 1 12 2-53 5 2 3 50 0-12 1-35 8-1 1 49 1 1 2-52 4 7 1 44 2-44 0 48 5-14 2-26 6-10 2 51 1-9 2-51 3 47 2-46 3 1 1 48 4-34 0 44 5-8 1-46 6 45 1-35 3 47 2-56 2-20 4 91 0-74 4 59 1-45 1 35 4 6 4-58 4 48 2-40 3 13 0 45 4-60 0 42 5-45 2 56 2 0 2-36 6-40 0 78 1-5 3-45 4 47 3-49 0 67 4-69 1 1 1 50 6-53 1 52 5 10 1-62 1 54 4-49 1 64 2-50 3 35 2-49 4-4 3 45 4-52 1 54 4-47 2 47 3 17 1-62 3 54 2-53 1 55 1-50 6-10 0 53 3 4 1-48 4-16 1 50 7-36 2 45 2 3 0-41 3-4 4 40 5 4 0-55 2 3 3 49 3-56 2 42 4-34 1 67 3-18 0-50 5 51 2-54 1 53 2-40 6 55 1-55 2 44 3-47 2 2 3 33 1 19 2-64 4 7 1 43 5 10 2-54 2 60 1-61 3 43 3-43 5-7 0 52 2-46 2 41 5-50 2 59 3-4 0-47 3 47 1-45 5 51 3-53 3 54 1-46 2-9 3 45 3-3 0-38 5 4 2 54 4-14 3-52 0 2 1 44 5-44 1 54 4 14 2-70 3 56 2-52 3-8 1 63 4-52 2 42 2-46 4 53 1-56 2 41 3 18 4-56 1-2 3 60 5-2 1-63 2 54 0-42 5-24 3 69 4 19 2-65 0 52 2-55 4 67 3-75 4 19 0 44 2 10 1-58 6 69 1-78 4 71 2-63 1-10 1 62 4-40 0 45 9-74 0 65 4-10 1-43 2-7 1 53 4-13 2-35 5-4 1 69 1-69 5 60 1-54 1 48 5-46 1 47 3-4 1-41 4 36 2-35 3-11 3 48 3 7 0-48 3 50 1-50 5 62 2-56 2 42 3-36 3-8 3 54 1-56 2 50 6-44 1 55 2-59 3 58 2-51 2 30 4-19 2 36 1-50 1 39 5-5 3-50 2 17 2 48 5-4 2-52 1 0 3 47 3 12 3-48 1-11 3 47 1-46 3 46 3-51 1 69 4-15 2-68 5 30 2 28 1 22 1-51 5 34 3-47 3 51 1-61 1 14 3 44 2-50 4 47 1-4 5-32 2-5 2 63 5-4 1-66 3 14 2 38 3-52 2 43 2-40 1 64 3-15 2-49 3 2 2 38 3 17 0-58 5-7 4 48 2-36 1 50 2-52 2 64 6-22 2-50 4 63 0-64 1 70 2-58 4 63 1-79 3 59 0-50 8 1 1 47 2-41 4 46 2-32 2 32 2 7 2-66 3 57 0-52 5 49 1-46 5 10 2 55 3-13 2-45 2 55 2-38 3-34 3 72 2-59 1 46 5-45 1 55 4-44 1 38 3-49 3 63 3-53 2 47 2-58 1 50 5-42 0 46 6-40 1 51 2-5 2-56 3 46 2-45 4 46 2-42 2 33 3-45 1 10 3 50 5-49 1 49 1-54 4 46 4-11 0-39 2 41 2-59 6 21 0 41 3-1 1-52 3 65 1-45 6-14 2 46 2 15 3-63 3-4 0 62 4-3 2-33 4-15 3 49 3-42 2 43 3-55 1 52 1 3 2-52 5 44 3-41 1-6 0 49 7-50 1 52 3-41 0 25 3-29 3 54 4-68 2 66 1-5 4-56 5 70 0-63 2 4 2 55 4-11 1-53 3 41 2-28 3 38 3-52 4 2 1 64 4-2 1-57 4 40 2-35 0 42 2-35 4 51 4-52 1-6 3 49 2-59 3 47 2-46 3 44 3 28 2-53 3 30 1-60 3 50 1-53 3 16 1 58 6-1 1-60 2-8 3 52 3-62 3 74 1-5 4-48 3 49 0-43 4 53 2-51 4-5 1 51 3-12 1-21 3 46 2-63 4 54 2-58 4 40 2-34 1-6 4 45 2-45 2 51 2-2 2-46 5-4 3 38 0-47 1 54 4-48 0 35 7-34 1 52 5 0 0-56 4 81 0-85 3 53 5-37 4 36 0-54 1 57 5-59 0 51 1-55 6 5 2 62 1 2 4-50 2-1 1 52 5-57 1 70 4-59 3 39 1-6 2-45 5 5 1 47 2-51 3 57 1-18 3-48 2 48 2-35 7 48 0-47 1-5 3 56 2 7 4-63 2 11 2 53 5-65 2 56 1-51 4 47 2 0 0-38 4-1 3 58 2-20 3-45 4 2 1 40 2-40 1 46 6-2 1-47 5 47 1-48 1 5 2 42 2 1 4-47 4 2 0 43 3-46 1 48 6-35 2 37 1 11 4-41 0 35 4-42 1 47 1-53 7-5 1 35 1-25 1 34 5-30 3 32 2-55 2 75 4-23 1-36 4-9 0 54 6 0 1-64 2 4 0 58 5 2 3-64 2 18 2 69 2-27 2-58 4 14 4 39 2-55 2 73 3-78 2 82 1-61 4 50 4-48 0 60 4-77 2 70 2-18 3-42 3 56 1-56 4 48 2-41 2-13 3 59 5 1 0-44 4 40 1-53 4 55 1-44 3 37 1-50 3 50 1-38 4 38 3-30 3 34 0-53 6 5 1 43 1-44 3 57 2 8 5-66 0 47 4-42 3-3 1 62 2-66 2 69 4-11 2-50 2 1 4 66 2-75 0 50 6 6 1-50 4 12 1 44 4-51 0 47 4-48 4 48 2-11 0-60 4 28 0 38 6 1 2-49 3 56 2-67 4 18 1 39 2-60 4 54 2-46 1 40 3 14 4-45 0 55 2-55 6 47 0-53 3 13 3 55 3-67 1 50 3 1 1-55 6 15 1 35 4-41 1 50 4-50 1 40 4-47 1 57 4-47 2 35 1 4 2-50 3-4 2 57 2 15 2-53 4-17 1 57 5 4 0-38 4-17 3 45 1-46 3 62 3-7 2-47 4 45 3-47 1 59 2-52 3 37 4-49 3-8 1 57 3 9 1-56 3-8 4 43 0 19 4-56 2 7 0 42 6-6 3-42 3 38 1-43 3 9 2 45 3-16 1-45 5 7 1 52 2 25 1-72 4 67 3-62 4 34 1-41 1 49 4-44 3 3 0 40 3 5 1-40 5-19 1 43 3 13 2-42 3 46 3-57 4 22 2 29 3-57 3 60 3-8 1-41 1 1 1 50 4-57 5 36 1-31 1 40 6-47 2 57 2-1 2-35 2-18 1 68 3-60 4 49 3 1 2-45 2 42 1-50 4-12 1 70 3-51 3 42 4-58 2 54 2-5 4-32 1-28 1 68 4-53 2 70 2-65 2 46 6 2 1-49 2-3 1 65 5-57 2 50 3-13 2-54 4 54 2-40 4 51 0-48 2 9 2 28 2 8 4-39 2 55 2-57 3-35 2 87 3-52 1 52 3-3 4-56 3 64 3-67 1 13 2 38 2-2 2-47 4 12 1 42 6-47 0 34 2-44 1 43 5-48 3 50 3-54 1 50 4-45 1 44 6-34 0 38 2-43 1 34 5-23 1 39 3-7 2-46 2 1 5 50 3 26 2-58 2-15 2 49 1-1 4-33 1 39 2-54 3 39 3-41 2 45 5-50 3 53 1-73 1 82 3-43 3-8 2 44 4 1 1-41 4-2 2 50 4 4 0-53 5 49 1-66 2 74 3-61 4 52 2-51 3 54 1-70 3 5 2 56 1 8 1-54 5 10 2 36 4-48 3 47 3-56 1 66 1-6 3-48 4 36 2-50 2 51 1-61 6 17 2 54 2-56 2 62 4-72 0 59 4 3 1-45 3-4 1 43 3 5 4-48 3 38 0-36 4 49 3-54 4 7 2 48 2-2 3-46 2-13 1 56 4-10 1-39 4 52 1-53 2 70 3-55 2 41 5-72 2 64 1-52 6 12 0 50 2 8 1-64 4 54 2-46 3 58 3-60 1 5 1 39 6 4 2-45 3 53 1-49 2-14 1 52 6-4 1-26 5 32 0-51 2 50 4-46 1-8 1 52 5-9 1-31 5 34 3-51 2-3 0 53 4 2 3-45 3 51 0-49 3 53 2-61 5 58 2-47 2 36 1-38 6-7 2 36 2-44 2 56 3 9 1-56 2 16 4 34 1-39 1 38 4 4 2-64 5 68 1-52 3 22 2 35 5 4 0-61 4 57 2-46 1 61 3-63 3-6 0 48 4-36 2 33 5 10 1-50 2 0 0 53 6 9 1-76 5 57 2-42 1 42 4-43 2 41 2-48 3 11 3 39 2-38 2 59 4-59 1 35 2 11 2-54 4 39 1-43 5 54 0-60 5 22 1 42 4 6 2-43 4-15 0 39 3 8 4-56 1 42 3-50 2 61 4-44 0 51 2-57 7-9 1 68 0-72 3 71 3-16 3-39 2-9 1 60 3-49 3 41 3 8 2-55 2 1 2 57 4-72 1 64 4-8 3-39 3-8 0 61 4-60 3 59 3-52 0 46 5 3 0-50 3 12 2 39 5-3 1-51 4 49 3-44 1-17 2 61 5-43 1 43 2 9 1-44 4 47 1-46 5-12 1 53 2 19 1-51 6 19 0-31 3-14 4 50 4-30 2 30 2-28 2 46 1-48 3 37 4-2 1-46 4 48 1-44 6-20 1 80 1-81 4 66 1-10 3-39 1 0 4 42 4 3 1-36 2 30 2-48 4 56 1-64 2 9 1 40 8-33 0 45 5 12 0-79 3 77 1-63 6 55 1-56 3 11 1 32 1-46 1 65 6-48 3 38 1-58 3 55 2-34 3 49 4-48 0 39 3-51 3 49 1-44 2 54 7-7 1-45 1-3 2 54 4-8 2-40 2 43 1-31 7 23 0-48 4 12 1 60 2-69 1 48 4-43 1 57 3-1 5-65 1 20 3 39 1-45 3 71 4-9 2-62 2-1 1 56 4-10 1-36 5 41 2-53 3-13 1 57 3-11 1-46 6 7 0 47 3-50 4 55 2 4 3-67 0 6 2 50 6-49 0 52 2-26"/>
</g>
<line x1="713.5" x2="713.5" y1="37.0" y2="562.0" stroke="#000" stroke-width="1.1"/>
<line x1="1327.5" x2="1327.5" y1="37.0" y2="562.0" stroke="#000" stroke-width="1.1"/>
</g>
<rect x="100.5" y="37.5" width="1840.0" height="524.0" fill="none" stroke="#000" stroke-width="1.11"/>
<text class="t14" x="100.00" y="582.3" text-anchor="middle">00:00</text>
<text class="t14" x="100.00" y="604.6" text-anchor="middle">Dec 17</text>
<text class="t14" x="304.44" y="582.3" text-anchor="middle">08:00</text>
<text class="t14" x="508.89" y="582.3" text-anchor="middle">16:00</text>
<text class="t14" x="713.33" y="582.3" text-anchor="middle">00:00</text>
<text class="t14" x="713.33" y="604.6" text-anchor="middle">Dec 18</text>
<text class="t14" x="917.78" y="582.3" text-anchor="middle">08:00</text>
<text class="t14" x="1122.22" y="582.3" text-anchor="middle">16:00</text>
<text class="t14" x="1326.67" y="582.3" text-anchor="middle">00:00</text>
<text class="t14" x="1326.67" y="604.6" text-anchor="middle">Dec 19</text>
<text class="t14" x="1531.11" y="582.3" text-anchor="middle">08:00</text>
<text class="t14" x="1735.56" y="582.3" text-anchor="middle">16:00</text>
<text class="t14" x="1940.00" y="582.3" text-anchor="middle">00:00</text>
<text class="t14" x="1940.00" y="604.6" text-anchor="middle">Dec 20</text>
<text class="t14" x="59.0" y="538.60">10<tspan class="sup" dx="-0.6" dy="-7.9">0</tspan></text>
<text class="t14" x="1945.8" y="538.60">10<tspan class="sup" dx="-0.6" dy="-7.9">0</tspan></text>
<text class="t14" x="59.0" y="397.93">10<tspan class="sup" dx="-0.6" dy="-7.9">1</tspan></text>
<text class="t14" x="1945.8" y="397.93">10<tspan class="sup" dx="-0.6" dy="-7.9">1</tspan></text>
<text class="t14" x="59.0" y="257.26">10<tspan class="sup" dx="-0.6" dy="-7.9">2</tspan></text>
<text class="t14" x="1945.8" y="257.26">10<tspan class="sup" dx="-0.6" dy="-7.9">2</tspan></text>
<text class="t14" x="59.0" y="116.59">10<tspan class="sup" dx="-0.6" dy="-7.9">3</tspan></text>
<text class="t14" x="1945.8" y="116.59">10<tspan class="sup" dx="-0.6" dy="-7.9">3</tspan></text>
<text class="t15" x="1019.5" y="630.6" text-anchor="middle">Time (UTC)</text>
<text class="t15" transform="translate(48.5,301.5) rotate(-90)" text-anchor="middle">Counts</text>
<text class="t12" transform="translate(1020.4,29) scale(1,1.085)" text-anchor="middle">Stix QuickLook</text>
<text class="t11" x="1594.3" y="549.6">SolarMonitor.org : 24-Dec-2025 11:32 UTC</text>
<rect x="107.6" y="44.5" width="256.6" height="67" rx="2.8" ry="2.8" fill="#fff" fill-opacity="0.8" stroke="#ccc" stroke-opacity="0.8" stroke-width="1.11"/>
<line x1="112.2" x2="141.5" y1="55.9" y2="55.9" stroke="#1f77b4" stroke-width="2.08"/>
<text class="t10" x="150.9" y="60.9">4-10 keV</text>
<line x1="112.2" x2="141.5" y1="77.0" y2="77.0" stroke="#ff7f0e" stroke-width="2.08"/>
<text class="t10" x="150.9" y="82.0">10-15 keV</text>
<line x1="112.2" x2="141.5" y1="98.0" y2="98.0" stroke="#2ca02c" stroke-width="2.08"/>
<text class="t10" x="150.9" y="103.0">15-25 keV</text>
<line x1="248.1" x2="277.1" y1="55.9" y2="55.9" stroke="#d62728" stroke-width="2.08"/>
<text class="t10" x="288.0" y="60.9">25-50 keV</text>
<line x1="248.1" x2="277.1" y1="77.0" y2="77.0" stroke="#9467bd" stroke-width="2.08"/>
<text class="t10" x="288.0" y="82.0">50-84 keV</text>
</svg></body></html>
